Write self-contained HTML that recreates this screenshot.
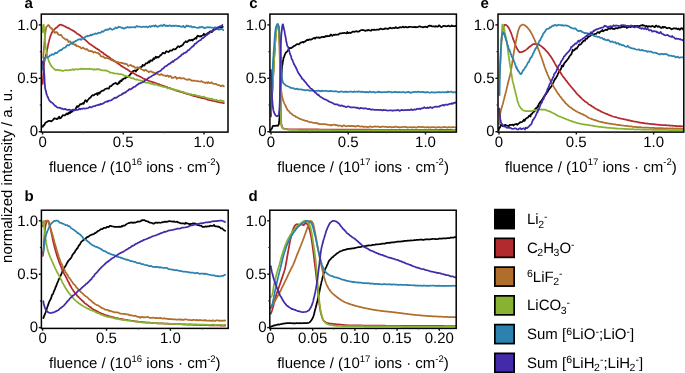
<!DOCTYPE html>
<html><head><meta charset="utf-8"><style>
html,body{margin:0;padding:0;background:#fff;}
body{width:685px;height:373px;overflow:hidden;font-family:'Liberation Sans', sans-serif;}
svg{display:block;will-change:transform;text-rendering:geometricPrecision;}
</style></head><body>
<svg width="685" height="373" viewBox="0 0 685 373" font-family="'Liberation Sans', sans-serif"><rect width="685" height="373" fill="#fff"/><clipPath id="clipa"><rect x="41.3" y="12.1" width="186.7" height="120.0"/></clipPath><g clip-path="url(#clipa)" fill="none" stroke-width="1.75" stroke-linejoin="round" stroke-linecap="round"><path d="M42.80,126.78 42.95,126.70 43.18,125.54 43.47,125.06 43.89,125.28 44.39,124.79 44.93,123.57 45.50,122.71 46.12,122.35 46.78,122.19 47.49,121.62 48.23,121.06 48.99,120.88 49.78,120.92 50.58,121.10 51.40,121.32 52.22,120.80 53.05,119.84 53.86,118.86 54.67,118.35 55.45,118.62 56.22,118.63 56.96,119.22 57.69,118.83 58.43,117.66 59.16,116.73 59.90,118.31 60.63,118.18 61.36,117.40 62.09,116.26 62.81,115.13 63.54,115.38 64.26,115.46 64.97,115.28 65.69,114.66 66.40,113.71 67.10,113.40 67.80,114.44 68.50,113.01 69.19,112.31 69.87,113.39 70.55,111.23 71.22,112.19 71.89,111.84 72.55,111.13 73.20,110.64 73.85,109.88 74.49,110.41 75.14,109.63 75.78,108.56 76.42,107.58 77.05,106.16 77.69,106.91 78.33,106.68 78.97,105.89 79.61,104.92 80.26,104.03 80.91,104.34 81.56,104.14 82.22,103.53 82.87,103.16 83.52,103.88 84.18,102.76 84.83,101.01 85.49,100.13 86.14,100.59 86.80,101.92 87.45,100.35 88.11,99.83 88.77,98.95 89.43,98.03 90.09,97.86 90.76,97.27 91.42,96.27 92.09,95.45 92.76,95.16 93.44,95.44 94.11,95.10 94.79,94.27 95.47,94.04 96.16,93.83 96.85,93.33 97.54,95.04 98.23,92.77 98.93,93.21 99.63,93.62 100.33,91.80 101.03,91.62 101.74,90.94 102.44,90.64 103.15,90.56 103.86,90.32 104.57,89.43 105.27,88.97 105.98,88.76 106.69,88.54 107.40,88.31 108.11,88.48 108.81,88.65 109.52,87.11 110.22,86.12 110.93,86.23 111.64,85.58 112.35,84.85 113.07,84.33 113.79,83.83 114.51,83.39 115.23,83.23 115.94,82.93 116.66,83.84 117.38,84.41 118.09,83.88 118.79,82.24 119.50,82.95 120.20,80.80 120.89,80.52 121.58,81.19 122.26,79.31 122.93,79.52 123.59,78.68 124.25,78.34 124.89,78.49 125.53,78.42 126.16,76.99 126.78,76.98 127.41,77.08 128.03,76.87 128.66,76.29 129.29,75.48 129.92,74.82 130.56,74.05 131.20,73.35 131.86,72.87 132.52,72.04 133.18,71.04 133.84,70.74 134.51,70.62 135.18,70.41 135.85,71.48 136.53,70.28 137.20,69.88 137.88,69.23 138.56,67.85 139.24,67.69 139.92,67.53 140.61,67.13 141.29,66.91 141.98,66.65 142.66,64.87 143.35,65.70 144.03,65.66 144.71,64.95 145.40,63.99 146.08,63.19 146.76,63.49 147.45,63.18 148.13,62.22 148.81,61.44 149.49,62.45 150.17,60.52 150.86,60.21 151.54,60.72 152.22,60.93 152.91,59.56 153.59,58.19 154.28,59.03 154.96,58.24 155.65,56.75 156.34,57.84 157.03,56.81 157.73,57.48 158.42,57.40 159.12,56.60 159.82,56.09 160.52,55.04 161.23,54.90 161.93,54.03 162.64,52.98 163.36,52.83 164.08,53.47 164.80,53.49 165.53,52.25 166.26,51.24 167.00,51.73 167.73,51.64 168.47,52.09 169.21,51.53 169.95,50.68 170.69,50.38 171.43,50.58 172.17,50.34 172.90,49.53 173.64,49.04 174.38,49.29 175.11,49.27 175.84,48.89 176.57,48.10 177.29,47.09 178.01,46.25 178.72,46.34 179.44,46.99 180.14,46.39 180.84,45.96 181.54,46.02 182.24,45.10 182.94,44.98 183.63,43.53 184.32,42.53 185.02,42.24 185.71,41.25 186.40,41.76 187.09,42.22 187.78,41.55 188.48,40.36 189.17,40.58 189.87,39.97 190.57,40.38 191.28,40.08 191.99,39.61 192.70,40.57 193.42,39.39 194.14,39.26 194.87,38.55 195.61,37.94 196.35,38.60 197.10,36.13 197.85,35.65 198.60,36.15 199.36,36.52 200.12,36.03 200.88,36.51 201.65,35.78 202.41,35.48 203.17,34.94 203.92,33.68 204.68,34.92 205.43,34.70 206.17,34.47 206.91,34.02 207.65,33.18 208.37,33.02 209.10,32.29 209.82,31.61 210.53,31.47 211.24,31.95 211.95,32.17 212.66,30.81 213.37,29.68 214.08,28.58 214.79,27.62 215.50,27.91 216.21,28.55 216.93,28.79 217.64,28.72 218.36,28.25 219.09,26.93 219.82,27.20 220.56,27.64 221.30,27.52 222.05,26.91 222.80,26.84" stroke="#000000"/><path d="M42.70,83.96 42.74,83.12 42.78,82.39 42.83,81.56 42.87,80.72 42.92,80.22 42.96,79.31 43.01,78.52 43.06,77.67 43.11,76.85 43.17,76.34 43.22,75.21 43.27,74.32 43.33,73.60 43.38,72.83 43.43,71.77 43.49,71.05 43.54,70.42 43.60,69.59 43.65,68.61 43.72,67.68 43.78,67.14 43.85,66.48 43.92,65.66 44.00,64.83 44.08,64.15 44.17,63.16 44.28,62.23 44.41,61.46 44.56,60.78 44.73,60.05 44.90,59.23 45.09,58.45 45.27,57.70 45.47,56.99 45.68,56.26 45.90,55.28 46.11,54.57 46.32,53.81 46.50,53.02 46.68,52.29 46.84,51.53 47.00,50.79 47.16,49.91 47.31,49.01 47.47,48.22 47.62,47.48 47.77,46.77 47.93,45.97 48.09,45.15 48.25,44.39 48.43,43.88 48.61,42.78 48.80,42.10 48.98,41.43 49.18,40.51 49.37,39.70 49.58,38.96 49.79,38.37 50.02,37.56 50.26,36.47 50.52,35.86 50.79,35.11 51.09,34.42 51.43,33.58 51.79,32.67 52.18,32.37 52.59,31.47 53.04,31.00 53.53,30.45 54.08,29.65 54.67,29.10 55.27,28.47 55.89,27.99 56.50,27.61 57.14,27.16 57.79,26.47 58.46,25.84 59.14,25.23 59.83,24.75 60.52,24.55 61.22,24.86 61.93,25.20 62.65,25.31 63.38,25.59 64.12,26.04 64.86,26.29 65.60,26.82 66.33,27.10 67.06,27.49 67.78,27.91 68.51,27.94 69.23,28.47 69.96,28.96 70.67,29.36 71.38,29.69 72.08,30.03 72.77,30.65 73.45,30.86 74.13,31.26 74.80,31.83 75.47,32.31 76.13,32.83 76.79,33.41 77.44,33.82 78.09,34.14 78.73,34.52 79.37,34.94 80.00,35.42 80.63,36.01 81.25,36.56 81.87,36.94 82.48,37.52 83.10,38.05 83.71,38.65 84.32,39.19 84.92,39.58 85.51,40.01 86.10,40.70 86.68,41.16 87.28,41.62 87.87,42.30 88.48,42.85 89.09,43.50 89.73,43.98 90.37,44.32 91.03,44.64 91.69,45.29 92.36,45.58 93.03,46.09 93.70,46.61 94.37,46.98 95.04,47.43 95.69,48.06 96.35,48.42 97.01,48.80 97.67,49.31 98.32,49.59 98.98,49.99 99.63,50.63 100.29,51.21 100.95,51.60 101.60,52.13 102.26,52.38 102.91,52.73 103.57,53.38 104.22,54.15 104.88,54.35 105.53,54.78 106.19,55.31 106.84,55.79 107.50,56.13 108.16,56.37 108.81,56.95 109.47,57.48 110.12,58.02 110.78,58.57 111.43,59.07 112.09,59.38 112.74,59.80 113.39,60.22 114.05,60.66 114.70,61.23 115.36,61.51 116.02,62.05 116.67,62.64 117.33,63.12 117.99,63.39 118.65,64.06 119.31,64.40 119.98,64.88 120.64,65.47 121.31,65.93 121.99,66.19 122.66,66.69 123.33,67.17 124.01,67.58 124.68,67.98 125.36,68.32 126.04,68.74 126.72,69.11 127.40,69.52 128.09,70.10 128.77,70.49 129.46,70.94 130.15,71.54 130.84,71.94 131.53,71.91 132.22,72.50 132.92,72.95 133.62,73.25 134.31,73.61 135.02,74.19 135.72,74.49 136.42,75.19 137.13,75.46 137.84,75.56 138.55,75.86 139.26,76.25 139.98,76.60 140.70,76.95 141.42,77.36 142.14,77.85 142.86,78.26 143.59,78.59 144.32,78.88 145.05,79.20 145.78,79.55 146.52,79.71 147.25,80.00 147.99,80.43 148.74,80.79 149.48,81.01 150.23,81.29 150.98,81.54 151.73,81.89 152.49,82.12 153.24,82.23 154.00,82.71 154.76,82.71 155.51,83.07 156.27,83.45 157.03,83.67 157.79,83.92 158.55,84.06 159.31,84.34 160.07,84.68 160.83,85.03 161.58,85.37 162.34,85.48 163.10,85.72 163.85,86.03 164.61,86.35 165.36,86.61 166.12,86.71 166.87,87.00 167.62,87.40 168.38,87.79 169.13,88.05 169.89,87.93 170.64,88.40 171.40,88.88 172.16,89.17 172.91,89.38 173.67,89.53 174.43,89.76 175.18,90.11 175.94,90.45 176.70,90.64 177.46,91.06 178.22,91.08 178.98,91.33 179.74,91.72 180.50,91.80 181.27,92.08 182.03,92.22 182.79,92.45 183.56,92.81 184.32,93.18 185.09,93.21 185.85,93.48 186.62,93.81 187.38,94.09 188.15,94.24 188.92,94.39 189.69,94.53 190.46,94.78 191.23,95.08 192.00,95.31 192.77,95.57 193.54,95.91 194.31,96.09 195.08,96.20 195.85,96.35 196.62,96.71 197.40,96.86 198.17,97.11 198.94,97.36 199.72,97.48 200.49,97.63 201.27,97.97 202.04,98.14 202.82,98.18 203.59,98.25 204.37,98.52 205.15,98.81 205.92,98.96 206.70,99.20 207.48,99.61 208.25,99.78 209.03,100.01 209.81,100.06 210.59,100.16 211.37,100.45 212.15,100.83 212.93,100.81 213.71,100.98 214.49,101.23 215.27,101.43 216.06,101.48 216.84,101.61 217.62,101.89 218.40,102.11 219.19,102.23 219.97,102.46 220.76,102.66 221.54,102.61 222.33,102.71 223.11,103.02 223.90,103.17" stroke="#B22A2E"/><path d="M43.20,57.71 43.26,57.36 43.32,56.55 43.38,55.19 43.44,53.98 43.49,54.20 43.55,53.14 43.62,52.19 43.68,51.52 43.74,51.05 43.80,50.45 43.86,49.28 43.92,47.92 43.98,47.05 44.04,46.65 44.10,46.26 44.16,45.55 44.23,44.21 44.29,43.03 44.36,42.31 44.42,42.05 44.49,41.88 44.56,41.28 44.63,40.23 44.70,38.77 44.77,37.23 44.85,37.79 44.92,37.06 45.00,35.95 45.08,34.72 45.16,33.56 45.26,33.26 45.36,32.92 45.47,32.23 45.60,31.26 45.73,30.20 45.89,29.33 46.07,28.06 46.28,27.12 46.52,26.55 46.81,26.27 47.25,26.35 47.79,25.35 48.32,24.95 48.85,25.34 49.39,26.18 49.93,27.38 50.44,27.42 50.94,28.18 51.44,28.61 51.94,28.41 52.46,29.85 53.01,30.12 53.58,30.96 54.18,32.12 54.80,32.90 55.44,32.06 56.09,32.72 56.74,32.11 57.40,32.54 58.06,34.39 58.72,34.68 59.38,35.06 60.03,35.06 60.68,34.93 61.34,35.16 62.00,36.47 62.66,37.27 63.32,37.89 63.99,38.33 64.66,38.75 65.33,39.47 66.00,39.75 66.68,39.28 67.36,39.73 68.04,41.15 68.73,42.15 69.42,41.44 70.11,41.36 70.81,42.25 71.51,43.46 72.21,43.72 72.91,43.66 73.62,43.94 74.33,44.65 75.05,45.09 75.76,44.38 76.48,46.21 77.20,46.18 77.92,46.16 78.65,46.51 79.37,46.90 80.10,46.92 80.83,48.07 81.56,48.44 82.29,48.00 83.03,47.52 83.77,48.31 84.52,48.63 85.27,49.29 86.02,49.56 86.77,48.81 87.53,49.59 88.29,50.49 89.04,51.01 89.80,51.07 90.56,50.89 91.31,51.36 92.07,51.04 92.82,51.96 93.57,52.70 94.31,52.08 95.05,51.98 95.79,52.47 96.53,52.79 97.27,52.81 98.00,52.80 98.73,53.92 99.46,53.82 100.19,54.96 100.92,56.18 101.65,56.56 102.38,56.60 103.11,56.32 103.84,57.13 104.57,58.00 105.31,58.18 106.04,57.80 106.78,57.86 107.52,58.21 108.26,58.55 109.00,58.77 109.75,59.08 110.49,59.28 111.24,60.04 111.98,60.42 112.73,60.36 113.48,60.95 114.23,61.49 114.98,61.16 115.73,61.53 116.48,62.52 117.24,62.46 117.99,61.94 118.75,62.54 119.51,62.76 120.27,62.53 121.04,62.96 121.81,63.03 122.58,62.94 123.35,63.29 124.13,63.79 124.91,63.64 125.69,64.01 126.47,63.79 127.25,64.57 128.03,65.76 128.81,65.77 129.59,65.46 130.37,64.87 131.14,65.22 131.91,66.08 132.68,66.39 133.45,66.06 134.22,66.86 134.99,67.63 135.76,67.94 136.53,67.64 137.29,67.15 138.06,68.08 138.83,68.02 139.59,67.67 140.36,68.22 141.12,69.07 141.89,69.48 142.65,69.73 143.42,70.15 144.19,70.76 144.95,70.03 145.72,69.78 146.49,70.43 147.26,71.11 148.03,71.28 148.80,72.28 149.56,71.60 150.33,71.28 151.10,71.42 151.87,71.86 152.63,72.47 153.40,72.39 154.17,72.72 154.94,73.40 155.71,74.03 156.48,73.70 157.25,73.70 158.02,74.12 158.79,74.58 159.56,74.82 160.33,74.92 161.11,74.18 161.88,74.44 162.66,75.07 163.44,75.51 164.21,75.50 164.99,75.46 165.78,76.07 166.56,76.02 167.34,75.35 168.12,75.70 168.91,76.92 169.69,76.15 170.48,75.98 171.26,77.06 172.05,78.11 172.84,77.48 173.62,77.74 174.41,77.44 175.20,76.81 175.99,77.34 176.77,78.84 177.56,78.08 178.35,77.78 179.14,78.07 179.93,77.61 180.72,78.52 181.51,78.44 182.30,78.38 183.09,78.37 183.88,78.09 184.67,78.84 185.46,79.29 186.25,79.49 187.04,79.68 187.84,80.00 188.63,79.12 189.42,79.14 190.21,79.71 191.01,80.36 191.80,80.65 192.59,80.50 193.39,80.84 194.18,80.70 194.97,80.55 195.76,81.02 196.55,81.28 197.35,81.02 198.14,81.05 198.93,81.29 199.73,81.51 200.53,81.71 201.32,81.03 202.12,81.47 202.91,82.20 203.71,82.36 204.51,82.38 205.30,83.08 206.09,82.62 206.89,82.48 207.68,83.24 208.47,82.08 209.26,82.69 210.05,83.16 210.83,82.88 211.62,82.21 212.40,83.27 213.18,83.57 213.95,83.83 214.73,83.96 215.50,83.94 216.27,84.00 217.04,84.63 217.81,85.09 218.58,85.21 219.34,85.17 220.10,85.60 220.87,86.28 221.63,85.88 222.39,85.45 223.14,85.60 223.90,86.44" stroke="#B06E2C"/><path d="M42.70,32.08 42.78,30.58 42.86,29.46 42.95,28.27 43.03,26.96 43.12,25.82 43.20,25.45 43.29,25.11 43.37,24.92 43.46,24.92 43.55,25.08 43.65,24.60 43.74,25.12 43.84,25.98 43.94,26.99 44.04,28.18 44.13,28.96 44.23,29.89 44.32,30.94 44.41,31.90 44.49,32.57 44.57,33.51 44.64,34.54 44.71,35.37 44.77,35.98 44.83,36.50 44.89,37.20 44.95,38.62 45.01,39.71 45.07,40.39 45.13,40.88 45.19,41.65 45.25,42.67 45.32,43.56 45.40,44.41 45.48,45.31 45.57,46.21 45.66,46.69 45.77,46.98 45.89,47.72 46.01,49.03 46.15,49.58 46.29,50.03 46.44,51.12 46.60,52.35 46.76,53.22 46.92,53.46 47.08,54.47 47.24,55.41 47.41,56.18 47.58,56.86 47.76,57.71 47.96,58.28 48.17,59.00 48.39,59.79 48.63,60.60 48.90,61.48 49.20,62.15 49.53,62.68 49.88,63.32 50.26,64.15 50.67,65.06 51.09,65.69 51.55,66.23 52.08,66.89 52.65,67.55 53.26,67.90 53.89,68.89 54.57,69.13 55.29,69.72 56.02,70.29 56.77,69.93 57.54,69.66 58.32,70.13 59.12,70.30 59.92,70.20 60.74,70.30 61.55,70.44 62.36,70.90 63.17,70.87 63.98,70.53 64.77,70.30 65.57,70.11 66.37,70.20 67.16,70.29 67.96,70.27 68.76,70.12 69.55,70.16 70.35,69.95 71.15,69.87 71.95,69.61 72.74,69.15 73.54,70.03 74.34,69.38 75.14,69.25 75.93,69.35 76.73,69.28 77.53,69.28 78.33,69.33 79.13,69.18 79.93,69.13 80.72,69.15 81.52,68.45 82.32,69.02 83.12,68.91 83.92,68.84 84.72,69.07 85.52,68.84 86.32,68.94 87.12,68.98 87.92,69.13 88.72,69.19 89.52,68.54 90.32,68.86 91.12,69.14 91.92,69.19 92.72,69.22 93.52,69.79 94.32,69.16 95.12,69.55 95.92,69.63 96.72,69.19 97.52,68.95 98.32,69.73 99.13,69.41 99.93,69.42 100.73,69.90 101.53,70.29 102.32,70.36 103.11,70.37 103.89,70.30 104.66,70.30 105.43,70.55 106.19,70.44 106.94,70.82 107.69,71.18 108.43,71.46 109.18,71.83 109.93,72.55 110.69,72.60 111.45,72.67 112.22,72.80 113.00,72.98 113.79,73.56 114.58,73.45 115.38,73.50 116.18,73.65 116.98,73.73 117.78,73.73 118.57,74.03 119.36,74.20 120.15,74.19 120.92,74.12 121.69,74.35 122.46,74.52 123.22,74.87 123.98,75.45 124.74,76.01 125.49,75.72 126.25,76.27 127.00,76.30 127.76,76.44 128.51,76.99 129.27,77.43 130.03,77.48 130.80,77.70 131.56,78.11 132.33,78.44 133.09,77.98 133.85,78.66 134.62,79.15 135.38,79.50 136.15,79.64 136.92,79.42 137.68,79.54 138.45,79.96 139.22,80.23 139.98,80.34 140.75,80.55 141.52,80.73 142.29,80.75 143.06,81.25 143.83,82.01 144.60,82.28 145.37,82.53 146.14,82.54 146.91,82.50 147.69,82.54 148.46,82.74 149.24,83.23 150.01,83.36 150.79,83.71 151.57,84.01 152.35,83.85 153.13,84.15 153.91,84.66 154.69,84.66 155.47,84.45 156.25,84.48 157.03,84.77 157.81,85.43 158.59,85.74 159.36,85.67 160.14,85.50 160.92,86.14 161.70,86.19 162.47,86.59 163.25,86.90 164.02,86.83 164.80,86.99 165.57,87.18 166.34,87.51 167.12,87.97 167.89,88.35 168.66,87.92 169.43,88.55 170.20,88.55 170.97,88.60 171.74,88.95 172.52,88.86 173.29,89.43 174.06,89.41 174.83,89.71 175.60,90.43 176.37,90.41 177.14,90.26 177.92,90.46 178.69,90.62 179.46,90.80 180.24,91.54 181.01,91.44 181.78,91.82 182.56,91.86 183.33,91.77 184.11,92.55 184.88,92.53 185.65,93.07 186.43,93.31 187.20,93.30 187.98,93.62 188.75,93.95 189.53,94.13 190.31,94.04 191.08,94.04 191.86,94.59 192.64,94.79 193.41,94.92 194.19,94.78 194.97,94.78 195.75,95.33 196.52,95.40 197.30,95.83 198.08,95.95 198.86,95.96 199.64,96.19 200.42,96.45 201.20,96.68 201.98,96.82 202.76,96.82 203.54,96.71 204.32,96.94 205.10,97.54 205.88,97.86 206.66,97.94 207.44,98.05 208.22,98.70 209.01,98.36 209.79,98.67 210.57,98.89 211.35,98.58 212.13,98.86 212.92,99.32 213.70,99.56 214.48,99.84 215.27,100.16 216.05,99.90 216.83,99.93 217.62,100.41 218.40,100.85 219.19,100.91 219.97,100.44 220.76,100.26 221.54,100.47 222.33,101.08 223.11,101.62 223.90,101.07" stroke="#88B231"/><path d="M42.80,69.97 42.84,69.74 42.89,69.33 42.94,68.24 43.01,66.75 43.08,65.88 43.16,65.65 43.24,64.66 43.33,63.82 43.42,63.36 43.50,62.82 43.59,61.44 43.70,60.62 43.84,59.15 44.02,57.88 44.41,58.93 45.24,58.12 46.10,57.52 46.90,57.40 47.71,57.39 48.47,56.79 49.16,56.49 49.80,55.70 50.42,55.31 51.07,55.14 51.75,54.44 52.45,54.31 53.17,54.56 53.89,54.34 54.61,53.58 55.33,52.71 56.03,53.09 56.72,53.03 57.40,52.47 58.08,51.75 58.75,51.31 59.42,50.81 60.09,50.03 60.75,49.94 61.42,50.02 62.09,49.32 62.76,48.64 63.43,48.17 64.11,47.73 64.79,47.52 65.47,47.69 66.15,46.47 66.84,45.39 67.52,45.20 68.20,45.43 68.89,45.31 69.58,44.80 70.27,43.99 70.97,43.08 71.67,42.94 72.38,43.88 73.10,42.17 73.81,42.06 74.54,41.83 75.26,41.33 75.99,40.82 76.72,40.59 77.46,40.01 78.20,39.64 78.94,39.45 79.68,39.31 80.42,39.17 81.16,39.89 81.91,39.03 82.65,38.17 83.39,38.61 84.13,37.84 84.88,37.31 85.62,36.64 86.37,36.31 87.11,36.47 87.86,35.74 88.61,35.94 89.36,35.88 90.11,35.33 90.86,34.64 91.61,35.41 92.36,34.70 93.12,34.30 93.87,34.14 94.63,33.92 95.39,33.38 96.14,33.69 96.90,33.82 97.66,33.44 98.42,32.73 99.18,32.81 99.95,32.99 100.71,32.51 101.47,31.79 102.24,31.34 103.01,31.74 103.77,31.09 104.54,30.63 105.31,30.08 106.09,29.57 106.86,30.07 107.63,29.49 108.41,29.53 109.19,29.15 109.97,28.25 110.76,28.51 111.54,29.51 112.33,29.79 113.12,29.42 113.91,28.80 114.71,28.63 115.50,27.37 116.29,27.84 117.09,28.13 117.89,27.48 118.68,26.72 119.48,27.13 120.28,27.18 121.07,27.48 121.87,27.96 122.67,27.70 123.47,28.64 124.27,28.55 125.07,27.99 125.87,27.54 126.67,27.72 127.47,26.89 128.27,27.37 129.07,27.52 129.87,27.16 130.67,27.34 131.47,27.38 132.27,27.27 133.07,27.06 133.87,27.01 134.67,27.48 135.47,27.45 136.27,26.27 137.06,25.99 137.86,26.62 138.66,26.76 139.46,26.54 140.26,26.72 141.06,27.00 141.86,27.09 142.66,26.74 143.46,26.56 144.26,26.92 145.06,26.96 145.86,26.71 146.66,26.68 147.46,27.45 148.26,27.21 149.06,26.46 149.86,26.11 150.66,27.00 151.46,26.03 152.26,26.17 153.06,25.78 153.86,25.53 154.66,26.57 155.46,25.30 156.26,25.85 157.06,26.65 157.86,26.88 158.66,26.21 159.46,25.91 160.26,25.44 161.06,25.40 161.86,25.76 162.66,26.08 163.46,24.61 164.26,24.84 165.06,25.68 165.86,26.07 166.66,25.46 167.46,26.18 168.26,26.10 169.06,25.60 169.86,25.30 170.66,25.69 171.46,26.41 172.26,25.85 173.06,25.67 173.86,25.87 174.66,26.07 175.46,25.61 176.26,25.69 177.06,25.99 177.86,26.13 178.66,25.90 179.46,26.02 180.26,26.33 181.06,26.82 181.86,26.84 182.66,26.13 183.46,25.93 184.26,27.39 185.06,27.42 185.86,26.41 186.66,25.47 187.46,26.17 188.26,25.80 189.06,26.40 189.85,26.73 190.65,26.11 191.45,26.48 192.25,27.45 193.05,27.12 193.85,26.70 194.65,27.03 195.45,27.24 196.25,27.58 197.05,27.74 197.84,27.88 198.64,27.91 199.44,26.97 200.24,27.42 201.05,26.92 201.85,26.75 202.65,27.39 203.45,27.33 204.25,28.20 205.05,28.03 205.85,27.56 206.66,27.35 207.46,27.38 208.26,27.18 209.06,27.27 209.86,27.37 210.66,27.40 211.45,27.75 212.25,27.56 213.05,27.74 213.84,28.16 214.63,28.36 215.43,27.45 216.22,27.69 217.01,27.68 217.80,28.42 218.59,29.67 219.37,29.66 220.16,29.30 220.95,29.18 221.73,29.03 222.52,29.08 223.30,30.15" stroke="#2B82AE"/><path d="M42.70,61.71 42.85,63.23 43.00,63.65 43.14,64.16 43.27,65.10 43.39,66.00 43.50,66.82 43.60,67.74 43.70,68.46 43.79,69.13 43.88,70.15 43.97,70.35 44.04,71.36 44.12,72.32 44.18,73.02 44.25,73.63 44.30,74.57 44.35,75.16 44.40,75.92 44.44,76.90 44.48,77.92 44.51,78.51 44.55,79.20 44.58,79.90 44.62,80.83 44.66,82.18 44.71,82.99 44.75,83.60 44.81,84.29 44.87,84.86 44.93,85.19 45.01,86.86 45.10,87.84 45.22,88.57 45.36,89.29 45.51,90.05 45.69,90.13 45.88,91.30 46.09,92.02 46.31,92.84 46.54,94.24 46.79,94.26 47.04,95.26 47.30,96.11 47.57,96.73 47.88,97.27 48.24,97.98 48.63,99.03 49.06,99.92 49.51,100.59 49.97,101.15 50.48,101.86 51.05,102.11 51.66,102.44 52.28,102.88 52.91,103.42 53.53,104.13 54.15,104.67 54.77,105.63 55.40,106.18 56.05,106.18 56.72,107.08 57.41,107.61 58.13,107.57 58.88,107.61 59.64,107.89 60.42,107.86 61.19,108.52 61.96,108.68 62.73,108.94 63.52,109.31 64.30,109.05 65.09,108.83 65.88,109.37 66.68,109.81 67.48,109.85 68.27,109.77 69.07,109.63 69.87,109.89 70.66,110.06 71.46,110.06 72.26,110.16 73.07,109.53 73.87,110.03 74.67,110.18 75.47,109.80 76.27,109.68 77.07,110.00 77.87,109.96 78.67,109.24 79.46,108.64 80.25,109.36 81.05,108.79 81.84,108.97 82.63,108.69 83.42,108.28 84.21,108.63 85.00,108.67 85.79,108.50 86.58,108.36 87.36,108.23 88.14,107.99 88.92,107.68 89.70,106.99 90.48,107.08 91.25,107.39 92.02,107.05 92.80,106.54 93.57,106.19 94.34,106.24 95.10,106.16 95.87,105.54 96.63,105.29 97.40,105.17 98.16,104.82 98.92,104.71 99.68,104.96 100.43,103.85 101.19,104.11 101.94,104.01 102.70,103.62 103.45,103.24 104.19,102.73 104.94,102.17 105.69,101.97 106.43,101.71 107.18,101.25 107.92,101.58 108.66,100.86 109.40,100.60 110.14,100.51 110.87,100.32 111.60,100.08 112.33,99.31 113.06,99.04 113.78,98.61 114.50,97.85 115.21,97.67 115.93,97.88 116.63,97.59 117.34,97.02 118.04,96.42 118.74,96.04 119.44,95.53 120.14,95.24 120.83,95.03 121.52,94.66 122.21,93.71 122.90,93.91 123.59,93.14 124.28,92.74 124.97,92.84 125.66,92.30 126.34,91.78 127.03,91.03 127.72,90.62 128.40,90.32 129.08,89.32 129.76,89.04 130.44,89.38 131.12,89.20 131.80,88.49 132.48,87.99 133.16,87.51 133.84,86.95 134.53,86.73 135.21,86.57 135.90,85.89 136.59,85.04 137.28,84.97 137.97,84.41 138.67,83.58 139.36,83.33 140.06,83.41 140.75,83.04 141.45,82.72 142.14,82.44 142.83,82.02 143.53,81.72 144.22,81.42 144.90,80.60 145.59,79.82 146.27,79.73 146.96,79.70 147.63,78.69 148.31,78.00 148.99,77.64 149.66,77.34 150.33,77.01 151.00,76.70 151.67,76.11 152.34,75.55 153.01,75.30 153.68,74.93 154.35,74.62 155.02,74.09 155.69,73.47 156.36,72.92 157.04,72.55 157.72,72.06 158.39,71.77 159.07,71.55 159.74,71.25 160.41,70.76 161.07,70.41 161.72,69.44 162.36,68.75 163.00,68.70 163.62,68.13 164.24,67.38 164.86,66.70 165.48,66.35 166.10,66.22 166.73,65.64 167.37,65.34 168.02,64.72 168.67,64.13 169.33,63.78 170.00,63.63 170.66,62.71 171.33,62.56 172.00,62.01 172.67,61.17 173.34,61.79 174.00,60.78 174.66,60.11 175.32,59.69 175.97,59.43 176.62,59.21 177.26,58.65 177.90,58.08 178.54,57.51 179.18,56.92 179.81,56.29 180.45,56.33 181.09,55.37 181.72,54.65 182.36,54.37 183.01,54.08 183.66,53.30 184.30,52.95 184.95,52.87 185.60,52.63 186.25,51.84 186.90,51.87 187.54,50.69 188.18,50.08 188.82,50.02 189.45,49.74 190.08,48.56 190.69,48.22 191.30,47.67 191.91,46.95 192.51,46.46 193.10,46.32 193.70,45.76 194.29,44.75 194.88,43.81 195.48,43.53 196.07,43.60 196.67,42.67 197.28,42.06 197.89,41.65 198.50,41.14 199.12,40.95 199.74,40.38 200.37,40.23 200.99,39.89 201.62,38.89 202.25,38.30 202.89,38.15 203.52,37.74 204.16,37.07 204.80,36.34 205.45,36.17 206.09,35.27 206.74,34.93 207.38,34.63 208.03,34.04 208.68,33.77 209.34,32.98 209.99,32.59 210.65,32.12 211.31,31.36 211.98,30.93 212.64,31.03 213.32,30.80 213.99,30.15 214.67,29.42 215.35,29.56 216.04,29.17 216.73,28.28 217.43,27.53 218.13,27.21 218.83,27.09 219.54,26.70 220.25,26.20 220.96,25.99 221.68,25.87 222.40,24.99" stroke="#432AAA"/></g><rect x="41.3" y="14.1" width="186.7" height="118.0" fill="none" stroke="#000" stroke-width="1.5"/><line x1="38.699999999999996" y1="131.70" x2="41.3" y2="131.70" stroke="#111" stroke-width="1.4"/><text x="38.0" y="136.4" font-size="15" text-anchor="end" font-weight="normal" >0</text><line x1="38.699999999999996" y1="78.30" x2="41.3" y2="78.30" stroke="#111" stroke-width="1.4"/><text x="38.0" y="83.0" font-size="15" text-anchor="end" font-weight="normal" >0.5</text><line x1="38.699999999999996" y1="24.90" x2="41.3" y2="24.90" stroke="#111" stroke-width="1.4"/><text x="38.0" y="29.6" font-size="15" text-anchor="end" font-weight="normal" >1.0</text><line x1="39.8" y1="105.00" x2="41.3" y2="105.00" stroke="#222" stroke-width="1.2"/><line x1="39.8" y1="51.60" x2="41.3" y2="51.60" stroke="#222" stroke-width="1.2"/><line x1="42.60" y1="132.1" x2="42.60" y2="134.5" stroke="#111" stroke-width="1.4"/><text x="42.60" y="146.9" font-size="15" text-anchor="middle" font-weight="normal" >0</text><line x1="123.30" y1="132.1" x2="123.30" y2="134.5" stroke="#111" stroke-width="1.4"/><text x="123.30" y="146.9" font-size="15" text-anchor="middle" font-weight="normal" >0.5</text><line x1="204.00" y1="132.1" x2="204.00" y2="134.5" stroke="#111" stroke-width="1.4"/><text x="204.00" y="146.9" font-size="15" text-anchor="middle" font-weight="normal" >1.0</text><line x1="82.95" y1="132.1" x2="82.95" y2="133.2" stroke="#444" stroke-width="1.1"/><line x1="163.65" y1="132.1" x2="163.65" y2="133.2" stroke="#444" stroke-width="1.1"/><text x="134.7" y="171.6" font-size="15" text-anchor="middle">fluence / (10<tspan font-size="9.5" dy="-6.3">16</tspan><tspan dy="6.3"> ions · cm</tspan><tspan font-size="9.5" dy="-6.3">-2</tspan><tspan dy="6.3">)</tspan></text><text x="24.4" y="7.6" font-size="15" text-anchor="start" font-weight="bold" >a</text><clipPath id="clipc"><rect x="269.9" y="12.1" width="186.5" height="120.0"/></clipPath><g clip-path="url(#clipc)" fill="none" stroke-width="1.75" stroke-linejoin="round" stroke-linecap="round"><path d="M270.40,130.90 270.65,130.32 270.98,129.33 271.38,128.89 271.83,128.70 272.34,127.24 272.98,125.87 273.69,125.83 274.43,125.97 275.22,125.87 276.09,125.67 276.92,125.61 277.59,125.90 278.15,125.49 278.63,124.55 278.90,124.11 279.01,122.45 279.11,121.68 279.19,121.52 279.27,121.05 279.33,119.17 279.38,118.60 279.42,118.22 279.46,117.88 279.50,117.03 279.53,115.13 279.56,115.01 279.60,113.59 279.63,112.76 279.67,112.41 279.70,111.69 279.72,111.42 279.75,111.12 279.77,110.27 279.80,109.05 279.82,107.87 279.84,106.66 279.86,106.40 279.88,105.69 279.90,104.64 279.92,103.86 279.94,103.52 279.97,102.41 279.99,101.58 280.01,100.77 280.04,99.56 280.07,99.01 280.10,98.32 280.13,98.01 280.16,97.43 280.19,96.00 280.22,95.05 280.26,94.30 280.29,93.39 280.33,92.44 280.37,91.63 280.40,90.91 280.44,90.36 280.48,89.40 280.52,88.23 280.56,87.21 280.61,86.41 280.65,86.55 280.70,85.80 280.74,84.75 280.79,83.98 280.84,82.59 280.88,82.00 280.94,81.07 280.99,80.29 281.05,79.88 281.10,78.72 281.17,78.28 281.23,76.92 281.29,76.28 281.36,76.84 281.43,75.19 281.50,74.65 281.57,73.45 281.64,72.54 281.71,72.37 281.78,71.69 281.85,69.82 281.92,69.21 281.99,68.83 282.06,67.83 282.14,66.10 282.22,65.22 282.31,65.09 282.41,64.98 282.51,64.39 282.63,63.23 282.76,62.13 282.90,61.11 283.05,60.71 283.22,60.49 283.40,58.55 283.59,57.69 283.80,57.61 284.02,57.28 284.26,56.37 284.55,55.45 284.87,54.52 285.24,53.79 285.63,53.00 286.04,52.31 286.47,52.37 286.94,51.59 287.46,51.24 288.01,50.43 288.61,49.24 289.22,48.68 289.84,47.87 290.49,48.20 291.18,48.16 291.89,47.53 292.60,47.17 293.32,46.39 294.05,45.92 294.78,45.66 295.50,45.34 296.22,44.66 296.94,44.12 297.66,44.17 298.38,44.29 299.10,44.14 299.83,43.51 300.56,42.59 301.30,42.54 302.05,42.18 302.80,41.84 303.55,42.49 304.30,41.61 305.05,41.51 305.81,41.05 306.57,40.24 307.33,39.68 308.10,40.22 308.86,39.55 309.63,39.37 310.40,39.61 311.18,39.52 311.95,39.13 312.72,38.66 313.49,38.09 314.26,37.99 315.03,38.74 315.80,37.82 316.57,37.32 317.34,37.51 318.12,37.76 318.89,37.41 319.68,37.87 320.46,37.72 321.25,37.17 322.03,36.79 322.82,37.01 323.61,36.91 324.40,37.16 325.19,36.52 325.99,35.95 326.78,36.38 327.57,35.98 328.36,36.13 329.15,36.24 329.94,35.67 330.73,34.42 331.51,35.22 332.30,35.77 333.09,35.15 333.87,34.62 334.66,35.08 335.45,34.63 336.23,34.75 337.02,34.61 337.81,34.52 338.60,34.56 339.38,33.55 340.17,33.43 340.96,33.41 341.75,33.28 342.54,33.03 343.33,33.04 344.13,32.95 344.92,32.95 345.71,33.24 346.51,33.45 347.30,32.00 348.10,33.16 348.89,32.93 349.69,32.65 350.48,33.04 351.27,32.75 352.07,32.04 352.86,31.57 353.66,31.62 354.45,31.97 355.24,31.58 356.03,31.20 356.82,31.36 357.62,31.61 358.41,31.67 359.20,31.47 359.99,30.75 360.78,30.27 361.57,30.01 362.37,29.98 363.16,30.21 363.96,30.09 364.75,30.68 365.55,30.77 366.35,30.30 367.15,30.59 367.95,29.93 368.75,30.14 369.55,30.43 370.35,30.51 371.15,30.62 371.94,29.63 372.74,29.80 373.53,29.87 374.33,29.68 375.12,30.00 375.91,29.91 376.71,29.65 377.50,29.51 378.30,29.55 379.09,29.62 379.88,28.78 380.68,28.63 381.47,28.94 382.27,29.27 383.06,29.10 383.86,29.24 384.66,28.66 385.46,28.43 386.25,28.60 387.05,28.71 387.85,29.08 388.65,28.64 389.45,27.95 390.24,27.65 391.04,28.24 391.84,28.37 392.64,28.00 393.44,27.94 394.24,28.08 395.04,27.84 395.83,27.04 396.63,27.79 397.43,28.09 398.23,27.86 399.03,27.64 399.83,27.17 400.62,27.36 401.42,27.39 402.22,27.06 403.02,26.53 403.82,27.33 404.62,27.26 405.42,26.89 406.21,26.84 407.01,27.48 407.81,27.49 408.61,26.96 409.41,26.75 410.21,26.83 411.01,26.98 411.81,27.00 412.61,27.06 413.41,27.22 414.21,27.21 415.01,26.89 415.81,27.28 416.61,27.13 417.41,27.03 418.21,26.84 419.01,26.44 419.81,26.30 420.61,26.76 421.41,26.85 422.21,27.00 423.01,27.42 423.81,26.93 424.61,26.76 425.41,26.67 426.21,26.90 427.01,27.32 427.81,26.63 428.61,25.83 429.41,25.72 430.21,25.78 431.01,25.74 431.81,26.38 432.61,26.49 433.40,26.27 434.20,26.36 435.00,26.77 435.80,26.11 436.60,26.27 437.40,26.67 438.20,26.33 439.00,25.35 439.80,25.76 440.60,26.79 441.40,27.11 442.20,26.73 443.00,26.06 443.80,25.98 444.60,25.92 445.40,26.20 446.20,26.35 447.00,26.16 447.80,25.88 448.60,25.63 449.40,26.11 450.20,26.48 451.00,26.26 451.80,25.45 452.60,26.15 453.40,26.17 454.20,26.07 455.00,26.05 455.80,25.85" stroke="#000000"/><path d="M271.00,116.50 271.04,115.70 271.09,114.90 271.13,114.10 271.17,113.30 271.21,112.50 271.26,111.70 271.30,110.90 271.34,110.11 271.39,109.31 271.43,108.51 271.47,107.71 271.52,106.91 271.56,106.11 271.60,105.31 271.65,104.51 271.69,103.71 271.73,102.91 271.78,102.11 271.82,101.31 271.87,100.51 271.91,99.72 271.95,98.92 272.00,98.12 272.04,97.32 272.08,96.52 272.13,95.72 272.17,94.92 272.22,94.12 272.26,93.32 272.30,92.52 272.35,91.72 272.39,90.92 272.44,90.12 272.48,89.33 272.53,88.53 272.57,87.73 272.61,86.93 272.66,86.13 272.70,85.33 272.75,84.53 272.79,83.73 272.84,82.93 272.88,82.13 272.93,81.33 272.97,80.53 273.01,79.73 273.06,78.94 273.10,78.14 273.15,77.34 273.19,76.54 273.23,75.74 273.28,74.94 273.32,74.14 273.36,73.34 273.40,72.54 273.45,71.74 273.49,70.94 273.53,70.14 273.57,69.34 273.61,68.54 273.66,67.74 273.70,66.94 273.74,66.14 273.78,65.35 273.82,64.55 273.87,63.75 273.91,62.95 273.95,62.15 274.00,61.35 274.04,60.55 274.08,59.75 274.13,58.95 274.17,58.15 274.22,57.35 274.26,56.55 274.31,55.75 274.36,54.95 274.40,54.16 274.45,53.36 274.50,52.56 274.55,51.76 274.60,50.96 274.65,50.16 274.70,49.36 274.76,48.56 274.81,47.77 274.86,46.97 274.92,46.17 274.97,45.37 275.03,44.57 275.08,43.77 275.14,42.97 275.19,42.17 275.24,41.37 275.29,40.56 275.35,39.76 275.40,38.96 275.45,38.15 275.51,37.35 275.57,36.55 275.63,35.74 275.70,34.94 275.77,34.15 275.84,33.35 275.92,32.55 276.00,31.76 276.09,30.97 276.19,30.18 276.29,29.39 276.41,28.61 276.53,27.83 276.71,26.88 276.95,25.88 277.22,25.00 277.48,24.47 277.73,24.48 278.00,25.02 278.28,25.90 278.52,26.91 278.68,27.85 278.77,28.63 278.85,29.41 278.93,30.20 279.00,30.98 279.07,31.77 279.14,32.56 279.20,33.35 279.26,34.15 279.32,34.95 279.38,35.74 279.43,36.54 279.47,37.34 279.52,38.15 279.56,38.95 279.60,39.75 279.64,40.56 279.67,41.36 279.71,42.17 279.74,42.97 279.77,43.78 279.80,44.59 279.82,45.39 279.85,46.20 279.87,47.01 279.89,47.81 279.92,48.62 279.94,49.42 279.96,50.22 279.98,51.02 280.00,51.82 280.01,52.62 280.03,53.42 280.05,54.22 280.07,55.02 280.08,55.82 280.10,56.62 280.11,57.42 280.13,58.22 280.14,59.02 280.16,59.82 280.17,60.62 280.18,61.42 280.19,62.23 280.20,63.03 280.22,63.83 280.23,64.63 280.24,65.43 280.25,66.23 280.26,67.03 280.27,67.83 280.28,68.63 280.29,69.43 280.30,70.23 280.31,71.03 280.31,71.83 280.32,72.63 280.33,73.43 280.34,74.23 280.35,75.03 280.36,75.83 280.37,76.63 280.37,77.43 280.38,78.23 280.39,79.03 280.40,79.84 280.41,80.64 280.42,81.44 280.43,82.24 280.43,83.04 280.44,83.84 280.45,84.64 280.46,85.44 280.47,86.24 280.48,87.04 280.49,87.84 280.50,88.64 280.51,89.44 280.52,90.24 280.54,91.04 280.55,91.84 280.56,92.64 280.57,93.44 280.59,94.24 280.60,95.04 280.61,95.85 280.63,96.65 280.64,97.45 280.65,98.25 280.66,99.05 280.67,99.85 280.68,100.66 280.69,101.46 280.71,102.26 280.72,103.07 280.73,103.87 280.74,104.67 280.75,105.48 280.76,106.28 280.77,107.08 280.78,107.89 280.80,108.69 280.81,109.49 280.83,110.29 280.84,111.10 280.86,111.90 280.88,112.70 280.90,113.50 280.92,114.30 280.94,115.10 280.96,115.89 280.99,116.69 281.01,117.49 281.04,118.28 281.07,119.08 281.10,119.87 281.14,120.67 281.17,121.46 281.21,122.25 281.28,123.08 281.38,123.94 281.51,124.79 281.68,125.61 281.88,126.39 282.12,127.08 282.41,127.68 283.00,128.26 283.76,128.70 284.48,128.87 285.23,128.98 286.02,129.07 286.83,129.15 287.65,129.21 288.48,129.25 289.30,129.28 290.11,129.30 290.91,129.31 291.71,129.32 292.51,129.34 293.31,129.35 294.11,129.35 294.91,129.36 295.70,129.37 296.50,129.38 297.30,129.39 298.10,129.39 298.91,129.40 299.71,129.41 300.51,129.41 301.31,129.42 302.11,129.42 302.91,129.43 303.71,129.43 304.51,129.44 305.31,129.44 306.11,129.44 306.91,129.45 307.71,129.45 308.51,129.45 309.31,129.46 310.12,129.46 310.92,129.46 311.72,129.47 312.52,129.47 313.32,129.47 314.12,129.47 314.92,129.48 315.72,129.48 316.52,129.48 317.32,129.49 318.12,129.49 318.93,129.49 319.73,129.50 320.53,129.50 321.33,129.51 322.13,129.51 322.93,129.51 323.73,129.52 324.53,129.52 325.33,129.53 326.13,129.53 326.93,129.53 327.73,129.54 328.53,129.54 329.33,129.55 330.13,129.55 330.93,129.55 331.73,129.56 332.53,129.56 333.33,129.57 334.13,129.57 334.93,129.57 335.73,129.58 336.53,129.58 337.34,129.59 338.14,129.59 338.94,129.59 339.74,129.60 340.54,129.60 341.34,129.61 342.14,129.61 342.94,129.61 343.74,129.62 344.54,129.62 345.34,129.63 346.14,129.63 346.94,129.63 347.74,129.64 348.54,129.64 349.34,129.64 350.14,129.65 350.94,129.65 351.74,129.66 352.54,129.66 353.34,129.66 354.14,129.67 354.94,129.67 355.75,129.68 356.55,129.68 357.35,129.68 358.15,129.69 358.95,129.69 359.75,129.69 360.55,129.70 361.35,129.70 362.15,129.70 362.95,129.71 363.75,129.71 364.55,129.72 365.35,129.72 366.15,129.72 366.95,129.73 367.75,129.73 368.55,129.73 369.35,129.74 370.15,129.74 370.95,129.74 371.75,129.75 372.55,129.75 373.35,129.75 374.16,129.76 374.96,129.76 375.76,129.76 376.56,129.77 377.36,129.77 378.16,129.78 378.96,129.78 379.76,129.78 380.56,129.79 381.36,129.79 382.16,129.79 382.96,129.79 383.76,129.80 384.56,129.80 385.36,129.80 386.16,129.81 386.96,129.81 387.76,129.81 388.56,129.82 389.36,129.82 390.16,129.82 390.96,129.83 391.76,129.83 392.57,129.83 393.37,129.84 394.17,129.84 394.97,129.84 395.77,129.84 396.57,129.85 397.37,129.85 398.17,129.85 398.97,129.86 399.77,129.86 400.57,129.86 401.37,129.87 402.17,129.87 402.97,129.87 403.77,129.87 404.57,129.88 405.37,129.88 406.17,129.88 406.97,129.88 407.77,129.89 408.57,129.89 409.37,129.89 410.17,129.90 410.98,129.90 411.78,129.90 412.58,129.90 413.38,129.91 414.18,129.91 414.98,129.91 415.78,129.91 416.58,129.92 417.38,129.92 418.18,129.92 418.98,129.92 419.78,129.92 420.58,129.93 421.38,129.93 422.18,129.93 422.98,129.93 423.78,129.94 424.58,129.94 425.38,129.94 426.18,129.94 426.98,129.94 427.78,129.95 428.58,129.95 429.39,129.95 430.19,129.95 430.99,129.95 431.79,129.96 432.59,129.96 433.39,129.96 434.19,129.96 434.99,129.96 435.79,129.97 436.59,129.97 437.39,129.97 438.19,129.97 438.99,129.97 439.79,129.97 440.59,129.98 441.39,129.98 442.19,129.98 442.99,129.98 443.79,129.98 444.59,129.98 445.39,129.98 446.19,129.99 447.00,129.99 447.80,129.99 448.60,129.99 449.40,129.99 450.20,129.99 451.00,129.99 451.80,129.99 452.60,130.00 453.40,130.00 454.20,130.00 455.00,130.00 455.80,130.00" stroke="#B22A2E"/><path d="M271.00,112.13 271.05,111.05 271.09,110.12 271.14,109.52 271.18,108.97 271.23,107.79 271.28,107.05 271.32,106.44 271.37,105.94 271.42,105.20 271.46,103.58 271.51,103.27 271.56,102.82 271.60,101.79 271.65,100.59 271.70,100.24 271.74,99.35 271.79,98.65 271.84,97.64 271.88,96.45 271.93,95.68 271.98,94.92 272.02,94.81 272.07,93.98 272.12,92.62 272.17,91.82 272.21,90.92 272.26,90.32 272.31,89.74 272.36,89.11 272.40,88.41 272.45,87.00 272.50,86.69 272.55,86.23 272.59,85.28 272.64,83.98 272.69,83.43 272.74,82.54 272.78,81.73 272.83,80.99 272.88,80.16 272.93,79.45 272.97,78.55 273.02,77.87 273.07,77.08 273.12,75.77 273.16,75.53 273.21,74.77 273.26,73.79 273.30,72.76 273.35,71.80 273.39,70.84 273.44,70.05 273.48,69.43 273.53,68.77 273.57,67.88 273.61,67.30 273.66,66.57 273.70,65.48 273.75,64.39 273.79,63.66 273.84,62.67 273.88,61.92 273.93,61.57 273.97,61.18 274.02,60.29 274.06,59.16 274.11,58.31 274.16,57.49 274.20,56.67 274.25,55.90 274.30,55.48 274.35,54.91 274.40,53.84 274.45,52.65 274.50,51.78 274.55,51.10 274.60,50.37 274.66,49.82 274.71,49.11 274.76,47.97 274.82,46.93 274.88,46.28 274.93,45.62 274.99,45.11 275.05,44.76 275.11,43.69 275.17,42.47 275.24,41.78 275.30,41.23 275.36,40.40 275.42,39.49 275.48,38.52 275.54,37.85 275.60,36.99 275.67,35.77 275.74,35.32 275.81,34.70 275.89,33.79 275.97,32.75 276.05,31.84 276.15,31.46 276.24,30.76 276.35,29.79 276.46,28.70 276.58,27.73 276.74,27.30 276.94,26.01 277.18,25.06 277.42,24.36 277.65,24.06 277.89,24.87 278.15,25.56 278.38,26.73 278.55,27.68 278.64,28.19 278.71,29.30 278.77,30.02 278.83,30.91 278.88,31.78 278.93,32.48 278.97,32.91 279.01,34.06 279.05,34.98 279.08,35.66 279.11,36.38 279.14,37.72 279.17,38.14 279.19,39.10 279.22,39.88 279.24,40.42 279.27,41.77 279.30,42.32 279.33,42.94 279.35,43.60 279.38,44.26 279.40,44.93 279.43,45.60 279.45,46.44 279.47,47.34 279.49,48.33 279.52,49.56 279.54,50.00 279.56,50.92 279.57,51.80 279.59,52.59 279.61,53.70 279.63,54.03 279.65,55.02 279.67,55.69 279.69,56.03 279.70,56.91 279.72,57.93 279.74,58.87 279.76,59.69 279.78,60.39 279.80,60.97 279.82,62.01 279.84,62.99 279.86,63.73 279.89,64.34 279.91,65.19 279.94,65.80 279.96,66.91 279.99,67.80 280.02,68.53 280.04,69.58 280.07,69.94 280.10,70.91 280.13,71.69 280.16,72.19 280.19,72.77 280.22,74.08 280.25,74.81 280.28,75.62 280.31,76.41 280.35,76.79 280.38,78.09 280.42,78.96 280.46,79.92 280.50,80.84 280.54,81.37 280.59,82.07 280.63,82.87 280.68,83.61 280.73,84.38 280.78,85.39 280.84,86.12 280.90,87.05 280.96,87.62 281.03,88.18 281.11,89.31 281.19,90.47 281.29,91.17 281.39,91.76 281.50,92.40 281.61,93.20 281.74,93.88 281.87,95.37 282.01,96.11 282.15,96.43 282.31,97.19 282.47,98.31 282.65,98.56 282.87,99.47 283.12,100.52 283.39,100.90 283.69,101.78 284.01,102.58 284.34,103.35 284.68,104.07 285.02,104.73 285.35,105.23 285.68,106.17 286.00,106.96 286.33,107.49 286.67,107.94 287.04,109.26 287.46,109.80 287.92,110.32 288.44,110.76 288.99,111.08 289.56,112.04 290.14,112.96 290.74,113.23 291.38,113.52 292.04,114.32 292.72,114.78 293.40,115.44 294.08,115.74 294.76,115.88 295.43,116.19 296.11,117.24 296.79,117.19 297.48,117.50 298.17,117.92 298.88,118.20 299.59,118.93 300.32,118.99 301.06,119.17 301.81,119.54 302.57,119.99 303.34,120.11 304.11,120.17 304.88,120.58 305.65,120.89 306.42,120.84 307.20,120.89 307.97,121.55 308.74,121.77 309.52,122.02 310.30,122.42 311.08,122.03 311.86,122.26 312.65,122.56 313.43,122.77 314.22,122.82 315.00,122.91 315.79,123.01 316.58,122.94 317.37,123.24 318.16,123.86 318.95,123.64 319.75,124.17 320.54,124.18 321.34,124.10 322.13,124.17 322.93,124.17 323.72,124.36 324.52,124.24 325.32,124.12 326.11,124.26 326.91,124.76 327.71,124.56 328.50,124.86 329.30,124.99 330.10,124.91 330.90,125.53 331.70,125.09 332.50,124.99 333.30,124.89 334.09,124.70 334.89,124.67 335.69,125.26 336.49,125.06 337.29,125.20 338.09,125.77 338.89,125.70 339.69,125.70 340.49,125.68 341.29,126.10 342.09,126.55 342.89,125.79 343.69,125.34 344.49,125.53 345.29,125.98 346.09,126.35 346.89,126.25 347.69,125.96 348.49,125.88 349.29,126.03 350.09,126.17 350.89,125.87 351.69,126.15 352.49,126.01 353.29,125.93 354.09,126.06 354.89,126.34 355.69,126.70 356.49,126.14 357.29,125.81 358.09,125.89 358.89,125.94 359.70,126.41 360.50,126.70 361.30,126.49 362.10,126.22 362.90,126.68 363.70,127.02 364.50,126.69 365.30,126.65 366.10,126.89 366.90,126.92 367.70,127.15 368.50,127.10 369.30,126.68 370.11,126.38 370.91,126.82 371.71,126.80 372.51,126.88 373.31,126.81 374.11,126.56 374.91,126.27 375.71,126.75 376.51,126.59 377.31,126.60 378.11,126.72 378.91,126.68 379.71,127.13 380.52,127.11 381.32,126.91 382.12,126.72 382.92,126.70 383.72,126.52 384.52,126.76 385.32,126.76 386.12,126.73 386.92,127.05 387.72,127.13 388.52,127.11 389.32,126.90 390.12,126.77 390.93,127.00 391.73,127.40 392.53,127.17 393.33,127.20 394.13,127.15 394.93,126.66 395.73,126.69 396.53,126.95 397.33,127.15 398.13,127.18 398.93,127.13 399.73,127.54 400.54,127.19 401.34,127.24 402.14,127.29 402.94,126.93 403.74,126.80 404.54,126.83 405.34,126.98 406.14,127.12 406.94,127.21 407.74,127.60 408.54,127.49 409.34,127.24 410.15,127.05 410.95,127.09 411.75,127.54 412.55,127.45 413.35,127.15 414.15,127.11 414.95,127.46 415.75,127.35 416.55,127.58 417.35,127.28 418.15,126.90 418.95,126.84 419.76,126.91 420.56,127.24 421.36,126.99 422.16,126.84 422.96,127.17 423.76,127.16 424.56,127.29 425.36,127.35 426.16,127.27 426.96,127.10 427.76,127.01 428.57,127.52 429.37,127.41 430.17,127.35 430.97,127.54 431.77,127.06 432.57,127.27 433.37,127.16 434.17,127.10 434.97,127.36 435.77,127.81 436.58,127.47 437.38,127.33 438.18,127.16 438.98,127.02 439.78,127.45 440.58,127.40 441.38,127.63 442.18,127.50 442.98,127.03 443.78,127.26 444.59,126.92 445.39,127.14 446.19,127.34 446.99,127.34 447.79,127.62 448.59,127.02 449.39,127.13 450.19,127.38 450.99,127.44 451.79,127.35 452.60,126.99 453.40,127.05 454.20,127.25 455.00,127.43 455.80,127.61" stroke="#B06E2C"/><path d="M271.00,112.00 271.05,111.20 271.09,110.40 271.14,109.60 271.19,108.80 271.23,108.01 271.28,107.21 271.32,106.41 271.37,105.61 271.42,104.81 271.46,104.01 271.51,103.21 271.56,102.41 271.60,101.62 271.65,100.82 271.70,100.02 271.74,99.22 271.79,98.42 271.84,97.62 271.89,96.82 271.93,96.02 271.98,95.23 272.03,94.43 272.07,93.63 272.12,92.83 272.17,92.03 272.21,91.23 272.26,90.43 272.31,89.63 272.36,88.84 272.40,88.04 272.45,87.24 272.50,86.44 272.55,85.64 272.59,84.84 272.64,84.04 272.69,83.25 272.74,82.45 272.78,81.65 272.83,80.85 272.88,80.05 272.93,79.25 272.97,78.45 273.02,77.65 273.07,76.86 273.11,76.06 273.16,75.26 273.21,74.46 273.25,73.66 273.30,72.86 273.35,72.06 273.39,71.26 273.44,70.46 273.48,69.67 273.53,68.87 273.57,68.07 273.62,67.27 273.66,66.47 273.71,65.67 273.75,64.87 273.80,64.07 273.84,63.27 273.89,62.48 273.93,61.68 273.98,60.88 274.03,60.08 274.07,59.28 274.12,58.48 274.17,57.68 274.22,56.88 274.26,56.08 274.31,55.29 274.36,54.49 274.41,53.69 274.46,52.89 274.51,52.09 274.57,51.29 274.62,50.50 274.67,49.70 274.72,48.90 274.78,48.10 274.83,47.30 274.89,46.50 274.95,45.71 275.01,44.91 275.06,44.11 275.12,43.31 275.17,42.51 275.22,41.71 275.28,40.90 275.33,40.10 275.38,39.30 275.43,38.49 275.49,37.69 275.55,36.89 275.61,36.09 275.67,35.29 275.74,34.49 275.81,33.69 275.89,32.89 275.97,32.10 276.06,31.31 276.15,30.52 276.25,29.73 276.36,28.95 276.47,28.17 276.62,27.31 276.84,26.30 277.09,25.35 277.36,24.65 277.62,24.40 277.90,24.73 278.21,25.47 278.50,26.44 278.72,27.43 278.82,28.26 278.89,29.04 278.96,29.82 279.02,30.60 279.08,31.38 279.14,32.16 279.19,32.95 279.24,33.74 279.29,34.53 279.33,35.33 279.38,36.12 279.42,36.92 279.46,37.72 279.49,38.52 279.53,39.32 279.56,40.12 279.59,40.93 279.62,41.73 279.65,42.53 279.68,43.34 279.70,44.15 279.73,44.95 279.75,45.76 279.77,46.57 279.79,47.38 279.81,48.19 279.83,48.99 279.84,49.80 279.86,50.61 279.88,51.42 279.89,52.22 279.91,53.03 279.92,53.84 279.94,54.64 279.95,55.44 279.97,56.25 279.98,57.05 280.00,57.85 280.01,58.65 280.03,59.45 280.04,60.25 280.05,61.05 280.07,61.85 280.08,62.65 280.09,63.45 280.10,64.25 280.11,65.05 280.12,65.85 280.13,66.65 280.14,67.45 280.15,68.25 280.16,69.05 280.17,69.85 280.18,70.65 280.19,71.45 280.20,72.25 280.20,73.05 280.21,73.85 280.22,74.65 280.23,75.45 280.23,76.25 280.24,77.05 280.25,77.85 280.25,78.65 280.26,79.45 280.27,80.25 280.27,81.05 280.28,81.85 280.28,82.65 280.29,83.45 280.30,84.25 280.30,85.05 280.31,85.85 280.32,86.65 280.32,87.45 280.33,88.25 280.33,89.05 280.34,89.85 280.35,90.65 280.36,91.45 280.36,92.25 280.37,93.05 280.38,93.85 280.38,94.65 280.39,95.46 280.40,96.26 280.41,97.06 280.42,97.86 280.43,98.66 280.44,99.46 280.45,100.26 280.46,101.06 280.47,101.86 280.48,102.66 280.49,103.46 280.50,104.26 280.51,105.06 280.53,105.86 280.54,106.66 280.55,107.46 280.57,108.26 280.58,109.05 280.60,109.85 280.61,110.65 280.63,111.46 280.65,112.26 280.66,113.06 280.68,113.86 280.70,114.67 280.72,115.47 280.75,116.27 280.77,117.07 280.80,117.87 280.83,118.68 280.87,119.47 280.90,120.27 280.95,121.07 280.99,121.86 281.04,122.66 281.10,123.45 281.17,124.27 281.29,125.11 281.46,125.94 281.67,126.70 281.92,127.35 282.40,127.93 283.10,128.44 283.87,128.82 284.59,129.04 285.34,129.22 286.12,129.38 286.93,129.51 287.74,129.63 288.56,129.71 289.38,129.77 290.18,129.81 290.97,129.83 291.77,129.85 292.56,129.87 293.36,129.89 294.16,129.91 294.95,129.93 295.75,129.95 296.55,129.96 297.35,129.98 298.15,130.00 298.95,130.01 299.75,130.02 300.55,130.04 301.35,130.05 302.15,130.06 302.95,130.07 303.75,130.08 304.55,130.09 305.35,130.10 306.15,130.11 306.96,130.12 307.76,130.12 308.56,130.13 309.36,130.14 310.16,130.14 310.97,130.15 311.77,130.16 312.57,130.16 313.37,130.17 314.17,130.17 314.97,130.18 315.78,130.18 316.58,130.18 317.38,130.19 318.18,130.19 318.98,130.20 319.78,130.20 320.58,130.20 321.38,130.21 322.18,130.21 322.98,130.21 323.78,130.22 324.58,130.22 325.38,130.22 326.18,130.23 326.98,130.23 327.78,130.23 328.58,130.24 329.38,130.24 330.18,130.24 330.98,130.25 331.78,130.25 332.58,130.25 333.38,130.26 334.18,130.26 334.98,130.26 335.78,130.27 336.58,130.27 337.38,130.27 338.18,130.28 338.98,130.28 339.78,130.28 340.58,130.28 341.38,130.29 342.18,130.29 342.98,130.29 343.78,130.30 344.58,130.30 345.38,130.30 346.18,130.31 346.98,130.31 347.78,130.31 348.58,130.31 349.38,130.32 350.18,130.32 350.98,130.32 351.78,130.32 352.58,130.33 353.38,130.33 354.18,130.33 354.98,130.34 355.78,130.34 356.58,130.34 357.38,130.34 358.18,130.35 358.98,130.35 359.78,130.35 360.58,130.35 361.38,130.36 362.18,130.36 362.98,130.36 363.78,130.36 364.58,130.37 365.38,130.37 366.18,130.37 366.98,130.37 367.78,130.38 368.59,130.38 369.39,130.38 370.19,130.38 370.99,130.38 371.79,130.39 372.59,130.39 373.39,130.39 374.19,130.39 374.99,130.39 375.79,130.40 376.59,130.40 377.39,130.40 378.19,130.40 378.99,130.41 379.79,130.41 380.59,130.41 381.39,130.41 382.19,130.41 382.99,130.41 383.79,130.42 384.59,130.42 385.39,130.42 386.19,130.42 386.99,130.42 387.79,130.43 388.59,130.43 389.39,130.43 390.19,130.43 390.99,130.43 391.79,130.43 392.59,130.44 393.39,130.44 394.19,130.44 394.99,130.44 395.79,130.44 396.59,130.44 397.39,130.45 398.19,130.45 398.99,130.45 399.79,130.45 400.59,130.45 401.39,130.45 402.19,130.45 402.99,130.46 403.79,130.46 404.59,130.46 405.39,130.46 406.19,130.46 406.99,130.46 407.79,130.46 408.59,130.46 409.39,130.47 410.19,130.47 410.99,130.47 411.79,130.47 412.59,130.47 413.39,130.47 414.19,130.47 414.99,130.47 415.79,130.47 416.59,130.48 417.39,130.48 418.19,130.48 418.99,130.48 419.79,130.48 420.59,130.48 421.39,130.48 422.19,130.48 422.99,130.48 423.79,130.48 424.59,130.48 425.39,130.49 426.19,130.49 426.99,130.49 427.79,130.49 428.59,130.49 429.39,130.49 430.19,130.49 430.99,130.49 431.80,130.49 432.60,130.49 433.40,130.49 434.20,130.49 435.00,130.49 435.80,130.49 436.60,130.49 437.40,130.49 438.20,130.50 439.00,130.50 439.80,130.50 440.60,130.50 441.40,130.50 442.20,130.50 443.00,130.50 443.80,130.50 444.60,130.50 445.40,130.50 446.20,130.50 447.00,130.50 447.80,130.50 448.60,130.50 449.40,130.50 450.20,130.50 451.00,130.50 451.80,130.50 452.60,130.50 453.40,130.50 454.20,130.50 455.00,130.50 455.80,130.50" stroke="#88B231"/><path d="M271.00,112.36 271.02,111.19 271.04,110.49 271.05,109.84 271.07,108.96 271.09,107.80 271.12,107.16 271.14,106.62 271.16,105.91 271.18,104.95 271.21,103.81 271.23,103.03 271.25,102.14 271.28,101.43 271.30,100.75 271.33,99.83 271.36,99.37 271.38,98.53 271.41,97.62 271.44,96.62 271.47,95.48 271.50,95.11 271.53,94.18 271.56,93.40 271.59,92.80 271.62,92.18 271.65,91.31 271.68,90.59 271.71,89.40 271.75,88.30 271.78,87.93 271.81,87.07 271.85,86.18 271.88,85.63 271.92,85.00 271.95,83.93 271.99,83.35 272.02,82.48 272.06,81.54 272.10,80.66 272.13,79.93 272.17,79.17 272.21,77.89 272.24,77.22 272.28,76.69 272.32,75.93 272.36,75.42 272.40,74.31 272.44,73.44 272.47,72.65 272.51,71.79 272.55,71.07 272.59,70.41 272.63,69.75 272.67,68.92 272.71,67.91 272.75,66.93 272.79,66.13 272.83,65.30 272.88,64.34 272.92,63.36 272.96,62.85 273.01,62.08 273.05,61.28 273.10,60.40 273.15,59.58 273.19,59.18 273.24,58.62 273.29,57.53 273.34,56.58 273.39,56.01 273.44,55.67 273.50,54.52 273.55,53.34 273.61,52.61 273.66,52.10 273.72,51.03 273.77,50.47 273.83,49.46 273.89,48.53 273.95,47.73 274.01,46.88 274.07,45.89 274.13,45.43 274.19,44.75 274.25,43.84 274.32,42.98 274.38,41.94 274.45,41.32 274.51,40.92 274.56,40.18 274.62,38.69 274.67,38.16 274.73,37.29 274.79,36.55 274.85,35.84 274.91,34.98 274.98,34.25 275.05,33.48 275.13,32.97 275.22,32.37 275.31,31.34 275.42,30.14 275.54,29.43 275.67,28.63 275.81,27.72 276.04,26.80 276.40,26.35 276.82,25.43 277.24,24.50 277.61,24.17 277.95,24.70 278.30,25.23 278.62,25.91 278.87,27.23 279.02,28.49 279.12,29.32 279.22,29.84 279.30,30.21 279.37,31.32 279.44,32.22 279.50,32.64 279.55,33.80 279.60,34.32 279.64,34.99 279.69,35.83 279.73,36.80 279.77,37.80 279.81,38.63 279.85,39.31 279.89,40.10 279.94,40.98 279.98,41.55 280.04,42.43 280.09,43.46 280.14,44.28 280.19,44.80 280.24,45.20 280.29,46.08 280.34,47.35 280.39,48.04 280.44,48.42 280.49,49.70 280.54,50.40 280.59,51.29 280.63,52.10 280.68,52.78 280.73,53.47 280.77,55.03 280.82,55.49 280.87,55.94 280.91,56.74 280.96,57.76 281.01,58.06 281.05,59.27 281.10,60.07 281.14,60.74 281.19,62.03 281.23,63.08 281.27,63.31 281.31,63.96 281.35,64.93 281.38,65.76 281.42,66.69 281.45,67.34 281.48,67.85 281.52,68.39 281.55,69.22 281.59,70.92 281.62,71.63 281.67,72.25 281.71,73.10 281.76,74.16 281.81,74.72 281.87,75.65 281.93,76.13 282.00,76.70 282.08,77.78 282.17,78.90 282.29,79.85 282.43,80.48 282.59,81.23 282.78,82.16 283.00,82.36 283.34,83.08 283.83,83.62 284.41,84.05 285.01,84.57 285.64,85.53 286.33,85.73 287.06,86.00 287.83,86.30 288.62,86.56 289.40,86.76 290.16,87.62 290.91,87.83 291.68,87.98 292.45,88.23 293.22,88.16 294.00,88.46 294.78,88.89 295.56,89.08 296.34,88.94 297.13,88.64 297.92,89.42 298.70,89.47 299.49,89.34 300.29,89.32 301.08,89.45 301.88,89.66 302.68,89.88 303.48,89.96 304.28,90.03 305.08,90.33 305.88,90.09 306.68,90.21 307.49,90.10 308.29,90.05 309.09,90.69 309.89,90.82 310.69,90.63 311.49,90.57 312.29,90.74 313.09,91.02 313.89,90.90 314.69,90.81 315.49,90.81 316.29,90.89 317.09,90.97 317.89,90.88 318.69,90.65 319.49,90.83 320.30,91.19 321.10,91.28 321.90,90.65 322.70,91.05 323.50,91.00 324.30,90.79 325.11,90.86 325.91,90.97 326.71,90.98 327.51,91.18 328.31,91.30 329.11,91.16 329.92,91.17 330.72,90.91 331.52,91.04 332.32,91.25 333.12,91.30 333.92,91.41 334.72,91.23 335.53,91.39 336.33,91.46 337.13,91.36 337.93,91.89 338.73,92.08 339.53,91.81 340.34,91.51 341.14,91.44 341.94,91.55 342.74,91.70 343.54,92.04 344.34,91.93 345.15,91.53 345.95,92.04 346.75,91.58 347.55,91.89 348.35,92.01 349.16,91.73 349.96,91.58 350.76,91.52 351.56,91.62 352.36,91.99 353.16,92.19 353.97,91.39 354.77,91.65 355.57,91.78 356.37,91.69 357.17,91.60 357.97,91.89 358.78,91.40 359.58,91.60 360.38,91.86 361.18,91.89 361.98,91.62 362.79,91.90 363.59,92.19 364.39,92.04 365.19,91.92 365.99,92.46 366.79,91.87 367.60,92.15 368.40,92.44 369.20,92.22 370.00,91.42 370.80,92.00 371.60,92.29 372.41,92.14 373.21,91.86 374.01,91.88 374.81,92.52 375.61,92.39 376.42,92.28 377.22,92.04 378.02,91.62 378.82,92.04 379.62,91.93 380.42,92.17 381.23,92.41 382.03,92.31 382.83,92.04 383.63,92.18 384.43,92.09 385.23,92.01 386.04,92.11 386.84,92.10 387.64,91.72 388.44,91.90 389.24,91.98 390.05,91.73 390.85,92.01 391.65,92.52 392.45,92.32 393.25,92.13 394.05,92.20 394.86,91.81 395.66,92.22 396.46,91.99 397.26,92.09 398.06,92.54 398.87,92.04 399.67,91.99 400.47,92.21 401.27,92.38 402.07,92.30 402.87,91.98 403.68,91.88 404.48,92.50 405.28,92.70 406.08,92.32 406.88,92.08 407.69,92.23 408.49,91.90 409.29,92.05 410.09,92.64 410.89,92.97 411.70,92.34 412.50,92.03 413.30,92.04 414.10,92.13 414.90,91.96 415.70,91.89 416.51,92.10 417.31,91.95 418.11,91.70 418.91,91.91 419.71,91.94 420.52,92.24 421.32,92.10 422.12,91.79 422.92,91.88 423.72,92.33 424.52,92.17 425.33,92.43 426.13,92.56 426.93,91.92 427.73,92.04 428.53,92.47 429.34,92.71 430.14,92.70 430.94,92.50 431.74,92.16 432.54,92.26 433.35,92.25 434.15,92.34 434.95,92.62 435.75,92.37 436.55,92.51 437.36,92.20 438.16,92.06 438.96,92.37 439.76,92.01 440.56,92.50 441.36,92.47 442.17,92.24 442.97,92.16 443.77,92.26 444.57,92.41 445.37,92.11 446.18,92.17 446.98,92.53 447.78,91.46 448.58,92.06 449.38,92.04 450.19,91.76 450.99,91.61 451.79,91.89 452.59,92.46 453.39,92.36 454.20,92.16 455.00,92.21 455.80,92.53" stroke="#2B82AE"/><path d="M270.80,69.79 270.86,70.40 270.92,71.14 270.98,71.82 271.04,72.60 271.09,73.94 271.14,75.02 271.18,75.67 271.22,76.61 271.25,77.66 271.28,77.81 271.31,79.12 271.33,79.71 271.36,80.15 271.38,80.88 271.40,82.24 271.43,82.77 271.45,83.86 271.47,84.61 271.50,85.09 271.52,86.10 271.55,86.91 271.58,87.30 271.62,88.05 271.65,89.21 271.69,90.20 271.72,90.71 271.76,91.34 271.80,92.30 271.84,93.40 271.88,94.18 271.92,94.93 271.97,95.53 272.01,96.27 272.06,97.15 272.11,97.94 272.17,99.37 272.22,99.73 272.28,100.21 272.34,101.04 272.41,101.92 272.48,102.94 272.55,103.63 272.63,104.31 272.71,105.22 272.80,106.51 272.89,107.13 273.00,107.45 273.13,108.14 273.28,109.24 273.45,110.44 273.64,111.00 273.85,111.57 274.08,112.40 274.33,113.15 274.65,113.40 275.10,114.70 275.64,115.30 276.23,115.85 276.83,116.25 277.60,116.05 278.32,115.47 278.60,114.81 278.78,114.25 278.94,113.45 279.07,112.08 279.18,112.17 279.28,111.19 279.36,110.25 279.43,109.47 279.49,108.57 279.54,107.35 279.58,106.81 279.62,105.77 279.65,104.55 279.69,103.95 279.72,103.34 279.74,102.37 279.77,101.53 279.79,100.95 279.82,100.54 279.84,99.54 279.86,99.07 279.87,97.93 279.89,96.62 279.91,96.00 279.93,95.59 279.94,95.18 279.96,94.41 279.98,93.20 279.99,91.69 280.01,90.92 280.03,90.77 280.05,89.99 280.07,88.85 280.08,87.97 280.10,87.20 280.11,86.53 280.13,85.79 280.14,85.08 280.16,84.41 280.17,82.69 280.18,82.30 280.20,81.82 280.21,80.89 280.22,79.63 280.23,79.16 280.25,78.30 280.26,77.72 280.27,77.18 280.28,76.31 280.29,75.43 280.30,74.91 280.32,74.24 280.33,73.37 280.34,72.38 280.35,71.39 280.36,70.60 280.37,69.87 280.38,69.16 280.39,68.42 280.40,67.47 280.42,66.62 280.43,65.96 280.44,65.36 280.45,64.67 280.46,63.79 280.48,63.07 280.49,62.12 280.50,61.22 280.52,60.54 280.53,59.39 280.54,58.80 280.56,57.93 280.57,56.89 280.59,56.00 280.61,55.70 280.62,54.54 280.64,53.74 280.66,53.05 280.68,52.18 280.69,51.40 280.71,50.58 280.73,49.91 280.75,49.29 280.78,48.64 280.80,47.85 280.82,46.80 280.84,46.14 280.87,45.16 280.89,43.63 280.92,43.25 280.95,42.88 280.98,41.92 281.01,41.02 281.05,40.55 281.09,39.88 281.13,38.62 281.18,37.68 281.23,36.97 281.28,36.22 281.34,34.91 281.39,34.29 281.46,33.48 281.52,32.68 281.59,32.08 281.66,31.72 281.74,30.89 281.82,30.17 281.92,29.31 282.03,28.22 282.17,26.95 282.32,25.56 282.48,24.86 282.65,24.55 282.82,24.34 283.02,24.30 283.25,25.57 283.48,26.73 283.69,27.85 283.88,28.93 284.05,29.97 284.22,29.96 284.37,30.36 284.52,31.08 284.67,32.07 284.81,33.46 284.95,34.48 285.09,34.57 285.23,34.93 285.37,36.05 285.51,37.02 285.66,37.44 285.81,38.27 285.96,39.19 286.10,40.13 286.24,41.60 286.39,41.73 286.54,42.25 286.71,43.14 286.89,44.20 287.10,45.11 287.34,45.93 287.62,46.31 287.92,46.63 288.22,47.20 288.51,48.15 288.79,49.26 289.03,50.05 289.27,50.79 289.49,51.64 289.72,52.68 289.94,53.30 290.17,54.34 290.41,54.99 290.66,55.19 290.91,55.88 291.17,56.49 291.43,57.95 291.70,59.05 291.98,59.44 292.26,59.70 292.56,60.31 292.88,61.33 293.20,62.22 293.54,62.96 293.89,64.03 294.24,64.60 294.60,65.10 294.96,65.80 295.32,66.59 295.67,67.06 296.03,67.77 296.39,68.50 296.75,69.31 297.12,70.19 297.49,71.08 297.88,71.81 298.28,72.67 298.69,73.33 299.11,73.80 299.54,74.45 299.98,75.24 300.42,76.09 300.87,76.47 301.33,76.88 301.79,78.52 302.26,78.29 302.73,79.03 303.21,79.63 303.69,80.01 304.18,80.83 304.67,81.52 305.18,81.77 305.68,82.37 306.20,83.24 306.72,83.76 307.25,84.62 307.78,85.19 308.32,85.73 308.86,86.31 309.41,86.90 309.96,87.79 310.52,88.45 311.08,88.64 311.65,88.78 312.22,89.58 312.80,89.92 313.39,90.41 313.98,91.04 314.58,91.80 315.19,92.63 315.80,92.82 316.42,93.35 317.04,94.24 317.67,94.92 318.30,94.67 318.94,95.38 319.59,96.11 320.25,96.64 320.91,97.02 321.58,97.45 322.25,97.85 322.94,98.38 323.62,98.77 324.32,99.08 325.01,99.47 325.71,99.58 326.42,100.02 327.13,100.28 327.84,100.60 328.55,101.37 329.27,101.52 330.00,101.99 330.73,102.23 331.47,102.43 332.21,103.00 332.95,103.03 333.70,103.73 334.46,104.16 335.21,104.31 335.97,104.47 336.73,104.40 337.49,104.45 338.26,105.02 339.04,105.56 339.81,105.41 340.60,105.92 341.38,105.41 342.17,105.53 342.96,106.10 343.75,106.39 344.54,106.31 345.33,106.82 346.12,107.04 346.91,106.86 347.70,106.47 348.49,106.49 349.28,106.75 350.08,107.09 350.87,107.33 351.66,107.33 352.46,107.31 353.25,107.45 354.05,107.41 354.84,107.35 355.64,107.51 356.43,107.84 357.23,107.63 358.02,107.93 358.82,108.49 359.61,108.71 360.41,107.93 361.21,108.17 362.00,108.21 362.80,108.28 363.60,108.67 364.39,108.42 365.19,108.27 365.99,108.39 366.78,108.71 367.58,109.04 368.38,109.22 369.18,108.79 369.98,109.12 370.77,109.67 371.57,109.71 372.37,109.32 373.17,109.56 373.97,109.75 374.77,109.82 375.56,109.83 376.36,109.85 377.16,109.93 377.96,109.95 378.76,109.99 379.56,110.10 380.36,109.96 381.16,109.85 381.96,110.27 382.76,110.39 383.56,109.81 384.36,110.24 385.16,110.04 385.97,110.17 386.77,110.49 387.57,110.71 388.37,110.51 389.17,110.34 389.97,110.39 390.77,110.39 391.57,110.27 392.37,110.76 393.17,110.54 393.97,110.41 394.77,110.38 395.57,110.39 396.37,110.48 397.17,110.12 397.97,109.94 398.78,110.26 399.58,110.90 400.38,110.45 401.18,110.14 401.98,109.97 402.78,110.04 403.58,110.30 404.38,110.24 405.18,109.95 405.98,110.03 406.78,110.07 407.58,109.88 408.38,109.95 409.18,110.19 409.98,110.06 410.78,109.60 411.58,109.23 412.38,110.14 413.17,110.01 413.97,109.54 414.76,109.38 415.56,109.67 416.36,109.44 417.15,108.74 417.94,108.76 418.74,108.80 419.53,108.63 420.33,109.20 421.12,108.46 421.91,108.33 422.71,108.28 423.50,107.90 424.29,107.25 425.08,107.87 425.88,108.09 426.67,107.82 427.46,107.49 428.25,108.21 429.05,107.65 429.84,107.19 430.63,107.18 431.42,107.63 432.21,108.02 433.00,107.35 433.80,107.19 434.59,107.01 435.38,106.66 436.17,106.69 436.97,106.79 437.76,106.56 438.55,106.56 439.34,106.66 440.14,105.74 440.93,105.79 441.72,105.53 442.51,105.09 443.30,104.87 444.09,105.68 444.88,104.95 445.67,104.56 446.45,104.63 447.24,104.89 448.02,104.65 448.81,104.18 449.59,103.77 450.37,103.75 451.15,103.85 451.92,103.11 452.70,103.73 453.48,103.11 454.25,102.72 455.03,102.83 455.80,102.49" stroke="#432AAA"/></g><rect x="269.9" y="14.1" width="186.5" height="118.0" fill="none" stroke="#000" stroke-width="1.5"/><line x1="267.29999999999995" y1="131.70" x2="269.9" y2="131.70" stroke="#111" stroke-width="1.4"/><text x="266.6" y="136.4" font-size="15" text-anchor="end" font-weight="normal" >0</text><line x1="267.29999999999995" y1="78.30" x2="269.9" y2="78.30" stroke="#111" stroke-width="1.4"/><text x="266.6" y="83.0" font-size="15" text-anchor="end" font-weight="normal" >0.5</text><line x1="267.29999999999995" y1="24.90" x2="269.9" y2="24.90" stroke="#111" stroke-width="1.4"/><text x="266.6" y="29.6" font-size="15" text-anchor="end" font-weight="normal" >1.0</text><line x1="268.4" y1="105.00" x2="269.9" y2="105.00" stroke="#222" stroke-width="1.2"/><line x1="268.4" y1="51.60" x2="269.9" y2="51.60" stroke="#222" stroke-width="1.2"/><line x1="271.00" y1="132.1" x2="271.00" y2="134.5" stroke="#111" stroke-width="1.4"/><text x="271.00" y="146.9" font-size="15" text-anchor="middle" font-weight="normal" >0</text><line x1="348.25" y1="132.1" x2="348.25" y2="134.5" stroke="#111" stroke-width="1.4"/><text x="348.25" y="146.9" font-size="15" text-anchor="middle" font-weight="normal" >0.5</text><line x1="425.50" y1="132.1" x2="425.50" y2="134.5" stroke="#111" stroke-width="1.4"/><text x="425.50" y="146.9" font-size="15" text-anchor="middle" font-weight="normal" >1.0</text><line x1="309.62" y1="132.1" x2="309.62" y2="133.2" stroke="#444" stroke-width="1.1"/><line x1="386.88" y1="132.1" x2="386.88" y2="133.2" stroke="#444" stroke-width="1.1"/><text x="363.1" y="171.6" font-size="15" text-anchor="middle">fluence / (10<tspan font-size="9.5" dy="-6.3">17</tspan><tspan dy="6.3"> ions · cm</tspan><tspan font-size="9.5" dy="-6.3">-2</tspan><tspan dy="6.3">)</tspan></text><text x="249.2" y="7.6" font-size="15" text-anchor="start" font-weight="bold" >c</text><clipPath id="clipe"><rect x="498.0" y="12.1" width="185.79999999999995" height="120.0"/></clipPath><g clip-path="url(#clipe)" fill="none" stroke-width="1.75" stroke-linejoin="round" stroke-linecap="round"><path d="M498.80,130.08 499.09,127.57 499.44,127.57 499.86,127.64 500.32,126.65 500.82,124.78 501.36,125.15 501.99,125.54 502.73,126.03 503.55,126.13 504.42,125.05 505.30,124.86 506.16,125.23 506.99,125.50 507.79,125.77 508.59,126.41 509.39,125.28 510.19,124.82 510.99,124.77 511.79,124.79 512.58,124.63 513.37,125.55 514.16,124.73 514.95,124.27 515.74,124.18 516.53,123.89 517.31,124.85 518.09,124.19 518.85,123.40 519.60,122.74 520.34,122.17 521.08,122.29 521.80,121.98 522.52,121.62 523.21,120.87 523.88,119.78 524.52,120.94 525.14,119.74 525.74,118.82 526.33,118.30 526.92,117.89 527.53,117.79 528.13,117.27 528.73,116.36 529.33,115.61 529.90,115.59 530.47,116.49 531.03,114.24 531.59,113.95 532.14,113.86 532.68,112.62 533.23,112.10 533.76,111.65 534.29,111.71 534.81,110.79 535.33,108.68 535.83,108.34 536.33,108.02 536.82,108.01 537.30,107.21 537.77,105.79 538.23,106.26 538.68,104.46 539.13,103.67 539.57,103.23 540.00,102.57 540.43,101.54 540.86,101.71 541.29,100.94 541.72,100.18 542.15,99.71 542.58,98.94 543.01,98.03 543.45,97.47 543.89,96.76 544.34,96.05 544.79,96.10 545.25,94.68 545.70,94.56 546.16,94.16 546.62,93.06 547.07,91.80 547.53,92.08 547.98,91.03 548.43,89.92 548.88,89.27 549.33,89.09 549.77,87.97 550.20,87.81 550.63,87.37 551.06,86.67 551.48,86.32 551.90,85.40 552.31,84.23 552.73,83.46 553.14,82.94 553.55,82.19 553.95,80.82 554.35,80.44 554.75,79.46 555.15,78.59 555.54,78.86 555.93,78.06 556.31,77.14 556.69,76.57 557.06,76.15 557.43,75.46 557.79,73.94 558.16,73.64 558.53,73.02 558.90,72.08 559.28,71.16 559.67,70.60 560.06,70.16 560.46,69.67 560.87,69.05 561.29,68.07 561.71,65.80 562.13,65.48 562.56,66.34 562.99,66.63 563.42,65.42 563.86,64.43 564.30,62.96 564.75,62.79 565.19,62.49 565.64,61.42 566.08,61.49 566.53,60.63 566.98,60.14 567.44,59.56 567.90,58.81 568.36,58.70 568.83,57.36 569.30,56.62 569.78,55.99 570.26,55.30 570.75,54.99 571.25,54.34 571.75,53.37 572.26,51.51 572.78,49.72 573.30,50.74 573.84,50.35 574.39,50.22 574.94,49.55 575.50,48.55 576.07,48.38 576.64,48.62 577.21,47.87 577.79,46.84 578.38,45.82 578.96,44.70 579.55,44.40 580.14,44.56 580.73,44.42 581.32,43.76 581.90,42.70 582.49,42.12 583.07,41.37 583.65,40.71 584.24,40.45 584.83,40.76 585.42,39.51 586.02,38.70 586.62,38.74 587.23,38.58 587.85,36.95 588.48,36.78 589.12,36.63 589.78,36.20 590.45,35.68 591.14,35.23 591.84,33.64 592.56,34.18 593.29,34.56 594.03,34.39 594.78,33.97 595.53,33.97 596.29,33.79 597.05,32.83 597.81,32.10 598.58,32.52 599.34,32.96 600.09,31.75 600.85,31.36 601.60,30.96 602.37,30.00 603.13,31.22 603.89,30.75 604.66,30.32 605.43,29.90 606.20,29.51 606.98,30.05 607.75,29.27 608.53,28.59 609.31,28.34 610.09,28.57 610.87,28.92 611.65,27.50 612.44,28.36 613.22,29.12 614.01,28.62 614.80,29.05 615.60,28.08 616.39,28.05 617.19,28.36 617.98,28.29 618.78,27.16 619.58,27.63 620.38,27.63 621.18,27.21 621.98,26.74 622.78,26.86 623.59,26.94 624.39,27.01 625.19,26.82 625.99,26.76 626.79,27.87 627.59,27.75 628.39,26.92 629.19,26.66 629.99,27.05 630.79,27.09 631.59,26.61 632.39,25.91 633.19,26.17 633.99,26.76 634.79,25.92 635.59,26.21 636.39,26.05 637.19,25.96 637.99,26.00 638.79,26.03 639.59,26.29 640.39,25.50 641.19,25.37 641.99,25.51 642.79,24.80 643.59,25.66 644.39,25.70 645.19,25.92 645.99,26.11 646.79,25.90 647.59,27.00 648.39,26.42 649.19,26.18 649.99,26.47 650.79,26.80 651.59,26.04 652.39,25.97 653.19,26.32 653.99,26.88 654.79,27.23 655.59,25.86 656.39,25.55 657.19,26.40 657.99,26.93 658.79,26.21 659.59,26.62 660.39,27.51 661.18,28.04 661.98,27.65 662.78,26.60 663.58,27.67 664.37,26.98 665.17,27.00 665.96,27.60 666.75,28.22 667.54,28.02 668.34,27.99 669.13,27.93 669.92,28.09 670.71,28.61 671.50,29.32 672.29,28.92 673.09,28.55 673.88,28.34 674.68,28.36 675.48,28.60 676.28,28.29 677.08,28.96 677.88,29.08 678.68,28.62 679.48,29.74 680.28,29.48 681.09,28.37 681.89,28.02 682.69,28.88 683.50,30.13" stroke="#000000"/><path d="M501.60,40.53 501.66,39.73 501.73,39.02 501.79,38.27 501.87,37.44 501.94,36.56 502.02,35.59 502.11,34.74 502.19,34.00 502.28,33.35 502.37,32.68 502.46,31.74 502.57,30.94 502.69,30.12 502.82,29.30 502.99,28.57 503.18,27.75 503.42,27.12 503.70,26.46 504.12,25.58 504.67,24.84 505.33,24.82 506.15,25.11 506.82,25.50 507.40,26.08 507.91,26.73 508.36,27.47 508.77,27.90 509.16,28.61 509.52,29.50 509.86,30.25 510.19,30.86 510.51,31.65 510.82,32.36 511.13,33.04 511.43,33.85 511.71,34.74 511.98,35.45 512.25,36.26 512.50,37.05 512.76,37.68 513.01,38.62 513.27,39.42 513.53,40.00 513.80,40.57 514.09,41.37 514.37,42.09 514.65,42.83 514.93,43.71 515.22,44.54 515.51,45.19 515.81,46.06 516.13,46.81 516.47,47.39 516.84,48.06 517.23,48.93 517.66,49.49 518.14,50.46 518.66,51.20 519.22,51.81 519.81,52.30 520.45,52.13 521.21,52.20 522.03,52.03 522.83,51.63 523.56,51.17 524.27,51.03 524.97,50.56 525.65,50.10 526.32,49.61 526.96,49.05 527.57,48.57 528.16,48.01 528.75,47.50 529.35,46.99 529.99,46.50 530.64,46.07 531.32,45.47 532.01,45.02 532.72,44.57 533.44,44.10 534.18,44.09 534.93,43.98 535.74,44.01 536.56,44.07 537.35,44.11 538.09,44.26 538.82,44.58 539.52,45.04 540.21,45.53 540.87,45.97 541.52,46.32 542.15,46.92 542.78,47.47 543.39,47.99 543.98,48.50 544.57,49.02 545.14,49.65 545.70,50.33 546.25,50.91 546.78,51.38 547.30,51.88 547.81,52.56 548.32,53.33 548.81,53.95 549.29,54.49 549.76,55.27 550.23,55.96 550.69,56.45 551.14,57.08 551.58,57.83 552.01,58.44 552.43,59.05 552.84,59.82 553.25,60.57 553.65,61.23 554.04,61.84 554.44,62.64 554.83,63.41 555.23,64.13 555.64,64.80 556.05,65.44 556.46,66.12 556.88,66.92 557.30,67.58 557.73,68.19 558.15,68.95 558.57,69.50 559.00,70.17 559.42,70.89 559.83,71.55 560.25,72.04 560.66,72.63 561.08,73.58 561.51,74.28 561.95,74.83 562.41,75.61 562.87,76.31 563.35,76.76 563.83,77.44 564.32,78.20 564.81,78.74 565.31,79.50 565.80,80.10 566.29,80.62 566.78,81.24 567.28,82.05 567.77,82.57 568.26,83.25 568.76,83.91 569.26,84.51 569.76,85.09 570.26,85.82 570.77,86.33 571.27,86.96 571.78,87.59 572.29,88.09 572.80,88.63 573.32,89.37 573.83,89.96 574.35,90.53 574.86,91.19 575.38,91.68 575.90,92.49 576.43,93.14 576.95,93.74 577.49,94.39 578.03,94.87 578.57,95.33 579.12,95.91 579.68,96.48 580.25,96.98 580.83,97.60 581.41,98.20 582.01,98.81 582.60,99.37 583.21,99.88 583.82,100.38 584.43,100.95 585.06,101.44 585.68,101.89 586.31,102.33 586.94,102.62 587.58,103.18 588.23,103.83 588.88,104.39 589.54,104.76 590.20,105.01 590.86,105.47 591.54,105.95 592.21,106.42 592.89,106.87 593.57,107.23 594.26,107.90 594.95,108.31 595.64,108.65 596.34,108.99 597.04,109.28 597.75,109.85 598.45,110.16 599.16,110.43 599.88,110.80 600.60,111.32 601.32,111.57 602.04,111.94 602.77,112.28 603.50,112.57 604.23,112.99 604.97,113.27 605.71,113.57 606.45,113.82 607.19,114.06 607.93,114.44 608.67,114.85 609.42,115.16 610.17,115.42 610.92,115.69 611.67,116.02 612.42,116.30 613.17,116.48 613.93,116.73 614.69,117.00 615.45,117.08 616.22,117.21 616.99,117.51 617.76,117.79 618.53,117.99 619.30,118.15 620.08,118.43 620.86,118.59 621.64,118.76 622.42,118.95 623.20,119.12 623.99,119.23 624.77,119.46 625.56,119.59 626.34,119.69 627.13,119.95 627.91,120.28 628.69,120.24 629.48,120.34 630.26,120.58 631.04,120.81 631.83,121.13 632.61,121.19 633.39,121.29 634.18,121.48 634.96,121.70 635.75,121.69 636.54,121.84 637.32,122.00 638.11,122.14 638.90,122.31 639.69,122.59 640.48,122.66 641.27,122.79 642.06,122.89 642.85,122.90 643.64,123.05 644.43,123.34 645.22,123.45 646.01,123.45 646.81,123.48 647.60,123.67 648.39,123.74 649.19,123.77 649.98,123.83 650.77,123.96 651.57,124.06 652.37,124.16 653.16,124.12 653.96,124.16 654.76,124.39 655.55,124.45 656.35,124.63 657.15,124.65 657.95,124.69 658.74,124.84 659.54,124.81 660.34,124.83 661.14,124.94 661.94,125.02 662.74,125.06 663.53,125.16 664.33,125.17 665.13,125.12 665.93,125.16 666.73,125.31 667.52,125.40 668.32,125.44 669.12,125.49 669.92,125.58 670.72,125.68 671.51,125.71 672.31,125.67 673.11,125.82 673.91,125.93 674.71,125.91 675.51,125.86 676.31,126.04 677.11,126.05 677.90,126.08 678.70,126.16 679.50,126.13 680.30,126.08 681.10,126.23 681.90,126.31 682.70,126.27 683.50,126.27" stroke="#B22A2E"/><path d="M499.40,123.87 499.41,123.01 499.44,122.33 499.48,121.56 499.53,120.65 499.59,119.77 499.66,119.15 499.73,118.45 499.82,117.69 499.91,116.87 500.01,116.00 500.11,115.26 500.21,114.37 500.32,113.53 500.42,112.81 500.55,112.18 500.71,111.28 500.88,110.52 501.07,109.75 501.28,108.97 501.50,108.21 501.73,107.40 501.96,106.66 502.19,105.90 502.42,105.16 502.65,104.47 502.86,103.65 503.07,102.94 503.27,102.09 503.48,101.24 503.68,100.55 503.89,99.63 504.09,98.97 504.30,98.09 504.50,97.22 504.71,96.57 504.91,95.66 505.11,94.90 505.31,94.13 505.51,93.37 505.71,92.65 505.91,91.95 506.10,91.16 506.29,90.37 506.48,89.60 506.66,88.83 506.85,87.92 507.03,87.20 507.21,86.49 507.39,85.64 507.58,84.70 507.76,84.14 507.94,83.23 508.13,82.46 508.32,81.73 508.51,80.95 508.71,80.08 508.91,79.54 509.12,78.68 509.33,77.82 509.54,77.09 509.75,76.34 509.94,75.63 510.13,74.86 510.31,74.03 510.47,73.16 510.63,72.31 510.78,71.62 510.92,70.97 511.06,70.15 511.20,69.24 511.34,68.60 511.47,67.64 511.61,66.84 511.73,66.14 511.86,65.40 511.98,64.42 512.10,63.74 512.22,62.94 512.34,62.16 512.46,61.36 512.57,60.44 512.69,59.73 512.81,58.89 512.92,58.10 513.04,57.35 513.17,56.56 513.29,55.72 513.42,55.04 513.55,54.23 513.69,53.38 513.82,52.64 513.96,51.68 514.10,51.03 514.24,50.35 514.38,49.53 514.52,48.60 514.67,47.87 514.81,47.11 514.96,46.26 515.11,45.42 515.26,44.66 515.41,43.81 515.56,43.03 515.72,42.21 515.88,41.45 516.04,40.81 516.20,40.09 516.36,39.28 516.52,38.46 516.67,37.61 516.83,36.80 516.99,36.28 517.15,35.38 517.32,34.52 517.49,33.72 517.68,32.92 517.88,32.05 518.09,31.25 518.31,30.59 518.55,29.94 518.81,29.21 519.11,28.34 519.44,27.50 519.81,26.70 520.23,26.13 520.71,25.76 521.36,25.13 522.10,24.63 522.83,24.53 523.59,24.76 524.33,25.08 525.00,25.35 525.65,25.96 526.28,26.48 526.89,26.96 527.47,27.52 528.02,28.33 528.54,28.94 529.03,29.46 529.51,30.06 529.96,30.76 530.40,31.48 530.82,32.16 531.22,32.89 531.61,33.66 531.99,34.39 532.36,34.96 532.71,35.65 533.06,36.47 533.40,37.25 533.74,37.93 534.07,38.51 534.40,39.22 534.73,40.09 535.06,40.82 535.38,41.52 535.69,42.34 536.00,43.08 536.31,43.84 536.61,44.64 536.91,45.42 537.20,46.13 537.49,46.98 537.78,47.65 538.06,48.36 538.33,49.11 538.61,49.84 538.89,50.45 539.16,51.19 539.44,51.99 539.72,52.83 540.00,53.65 540.28,54.36 540.56,55.12 540.84,55.74 541.12,56.44 541.39,57.33 541.66,58.04 541.93,58.72 542.19,59.50 542.45,60.31 542.70,61.08 542.95,61.85 543.19,62.62 543.44,63.34 543.69,64.09 543.94,64.89 544.20,65.63 544.47,66.47 544.74,67.22 545.02,67.95 545.30,68.69 545.58,69.45 545.86,70.20 546.15,70.91 546.44,71.70 546.74,72.50 547.04,73.04 547.34,73.85 547.65,74.59 547.96,75.28 548.28,75.99 548.61,76.82 548.94,77.49 549.27,78.33 549.61,79.04 549.96,79.67 550.32,80.44 550.68,80.94 551.05,81.68 551.42,82.49 551.80,83.31 552.19,84.09 552.58,84.74 552.97,85.43 553.37,86.12 553.77,86.82 554.18,87.57 554.59,88.26 555.01,88.83 555.44,89.44 555.87,90.14 556.30,90.91 556.74,91.57 557.19,92.31 557.64,93.00 558.10,93.61 558.56,94.17 559.03,94.83 559.50,95.54 559.98,96.20 560.46,96.82 560.94,97.41 561.43,98.00 561.92,98.73 562.42,99.35 562.92,99.94 563.43,100.58 563.95,101.16 564.47,101.72 565.00,102.42 565.54,103.08 566.09,103.58 566.65,104.14 567.22,104.72 567.80,105.20 568.40,105.76 569.01,106.42 569.64,106.95 570.28,107.30 570.93,107.70 571.59,108.16 572.26,108.68 572.94,109.28 573.62,109.66 574.31,110.09 574.99,110.50 575.68,110.89 576.37,111.32 577.06,111.71 577.76,112.06 578.47,112.41 579.19,112.76 579.91,113.11 580.64,113.50 581.37,113.77 582.09,114.08 582.82,114.43 583.54,114.67 584.26,115.15 584.98,115.47 585.68,115.82 586.38,116.28 587.08,116.83 587.77,117.19 588.47,117.70 589.17,118.03 589.89,118.23 590.61,118.56 591.35,118.88 592.09,119.12 592.83,119.44 593.59,119.74 594.34,119.87 595.11,120.28 595.87,120.45 596.64,120.62 597.42,120.87 598.19,121.19 598.97,121.50 599.75,121.69 600.53,121.82 601.32,121.93 602.10,122.10 602.88,122.49 603.66,122.55 604.44,122.62 605.22,122.80 606.01,123.05 606.79,123.16 607.58,123.30 608.37,123.48 609.16,123.57 609.95,123.57 610.74,123.88 611.54,123.84 612.33,123.98 613.13,124.16 613.92,124.27 614.72,124.47 615.52,124.46 616.31,124.69 617.11,124.87 617.91,124.83 618.70,124.86 619.50,125.16 620.30,125.23 621.09,125.28 621.89,125.42 622.68,125.50 623.48,125.60 624.27,125.75 625.07,125.83 625.86,125.84 626.66,125.93 627.46,125.94 628.25,126.18 629.05,126.33 629.85,126.32 630.64,126.37 631.44,126.47 632.24,126.60 633.04,126.77 633.83,126.90 634.63,126.86 635.43,126.81 636.23,127.08 637.03,127.20 637.83,127.15 638.62,127.26 639.42,127.10 640.22,127.19 641.02,127.34 641.82,127.46 642.62,127.55 643.42,127.58 644.22,127.61 645.03,127.60 645.83,127.58 646.63,127.60 647.43,127.62 648.23,127.68 649.03,127.75 649.83,127.82 650.64,127.94 651.44,127.88 652.24,127.90 653.04,127.92 653.84,127.97 654.64,128.10 655.44,128.10 656.25,128.10 657.05,128.09 657.85,128.09 658.65,128.10 659.45,128.19 660.25,128.19 661.05,128.14 661.86,128.11 662.66,128.15 663.46,128.25 664.26,128.30 665.06,128.29 665.86,128.30 666.66,128.35 667.47,128.30 668.27,128.52 669.07,128.45 669.87,128.35 670.67,128.41 671.47,128.50 672.27,128.44 673.08,128.46 673.88,128.54 674.68,128.60 675.48,128.54 676.28,128.44 677.09,128.51 677.89,128.60 678.69,128.62 679.49,128.51 680.29,128.47 681.09,128.65 681.90,128.80 682.70,128.81 683.50,128.73" stroke="#B06E2C"/><path d="M499.30,78.05 499.33,77.26 499.36,76.46 499.40,75.65 499.43,74.85 499.46,74.00 499.50,73.21 499.54,72.32 499.57,71.49 499.61,70.76 499.65,70.09 499.69,69.26 499.73,68.25 499.77,67.53 499.81,66.96 499.86,65.98 499.90,65.24 499.94,64.37 499.99,63.58 500.03,62.86 500.08,62.03 500.12,61.16 500.17,60.41 500.22,59.63 500.27,58.79 500.31,57.97 500.36,57.36 500.41,56.46 500.46,55.60 500.51,54.79 500.56,53.91 500.62,53.09 500.68,52.36 500.74,51.63 500.80,50.89 500.86,50.18 500.92,49.44 500.99,48.59 501.06,47.65 501.12,46.72 501.19,45.95 501.26,45.17 501.32,44.38 501.39,43.64 501.45,42.92 501.51,42.15 501.57,41.32 501.63,40.45 501.69,39.63 501.74,38.86 501.80,38.12 501.84,37.20 501.88,36.31 501.91,35.35 501.94,34.32 501.97,33.26 501.99,32.10 502.01,31.04 502.04,30.16 502.06,29.29 502.09,28.24 502.13,27.19 502.17,26.49 502.21,25.86 502.27,25.34 502.33,24.99 502.41,24.50 502.50,24.46 502.88,25.00 503.42,25.92 503.68,26.65 503.88,27.24 504.06,28.08 504.20,28.78 504.34,29.48 504.46,30.34 504.59,31.16 504.72,32.11 504.87,32.80 505.04,33.54 505.22,34.53 505.41,35.28 505.60,36.13 505.79,36.86 505.98,37.59 506.16,38.42 506.33,39.20 506.49,39.84 506.63,40.63 506.76,41.47 506.89,42.28 507.01,43.14 507.12,43.81 507.24,44.60 507.34,45.48 507.45,46.33 507.55,47.05 507.65,47.69 507.75,48.54 507.84,49.33 507.94,49.98 508.04,50.97 508.13,51.62 508.23,52.48 508.33,53.36 508.43,54.16 508.54,54.98 508.65,55.74 508.76,56.58 508.87,57.40 508.99,58.18 509.10,58.94 509.22,59.61 509.34,60.50 509.45,61.37 509.57,62.16 509.69,63.02 509.81,63.55 509.93,64.27 510.05,65.09 510.18,65.93 510.30,66.70 510.43,67.75 510.55,68.40 510.67,69.16 510.79,70.05 510.92,70.47 511.04,71.66 511.16,72.50 511.29,73.21 511.42,73.91 511.55,74.61 511.68,75.41 511.81,76.20 511.95,77.02 512.09,77.84 512.24,78.60 512.39,79.37 512.54,80.33 512.71,81.21 512.88,81.91 513.07,82.49 513.25,83.30 513.44,84.06 513.63,84.83 513.82,85.63 514.01,86.43 514.19,87.18 514.38,88.03 514.56,88.77 514.75,89.46 514.94,90.32 515.13,91.20 515.32,91.96 515.51,92.71 515.71,93.49 515.91,94.33 516.10,95.08 516.29,95.87 516.48,96.61 516.66,97.34 516.85,98.17 517.05,99.09 517.25,99.90 517.45,100.68 517.67,101.40 517.90,101.99 518.15,102.69 518.41,103.50 518.70,104.30 519.01,105.08 519.36,105.80 519.74,106.42 520.16,107.12 520.61,107.79 521.09,108.43 521.64,109.08 522.26,109.53 522.93,110.15 523.62,110.54 524.35,110.74 525.12,110.90 525.92,111.18 526.72,111.10 527.52,111.13 528.32,111.23 529.12,111.17 529.92,111.13 530.71,111.20 531.50,111.08 532.28,110.79 533.06,110.49 533.84,110.49 534.62,110.22 535.41,110.02 536.19,109.93 536.98,109.95 537.78,109.82 538.58,109.67 539.38,109.68 540.19,109.68 540.99,109.56 541.79,109.48 542.58,109.54 543.36,109.54 544.15,109.57 544.93,109.70 545.70,109.90 546.48,110.20 547.24,110.61 548.00,110.94 548.75,111.09 549.49,111.35 550.22,111.67 550.94,112.03 551.65,112.40 552.36,112.76 553.06,113.03 553.77,113.44 554.47,113.83 555.18,114.22 555.88,114.61 556.60,115.04 557.32,115.48 558.05,115.88 558.78,116.24 559.51,116.51 560.25,116.58 560.98,116.97 561.72,117.30 562.47,117.58 563.21,117.86 563.95,118.20 564.70,118.56 565.44,118.86 566.19,119.18 566.94,119.52 567.69,119.65 568.44,119.98 569.19,120.41 569.94,120.74 570.69,120.92 571.44,121.20 572.20,121.30 572.95,121.66 573.71,122.03 574.47,122.23 575.23,122.29 575.99,122.63 576.76,122.89 577.53,123.13 578.30,123.32 579.08,123.36 579.85,123.55 580.64,123.77 581.42,123.96 582.21,124.10 583.00,124.24 583.79,124.37 584.58,124.56 585.38,124.61 586.17,124.57 586.96,124.78 587.76,124.96 588.55,125.03 589.34,125.12 590.13,125.28 590.91,125.50 591.70,125.64 592.49,125.66 593.27,125.84 594.06,126.11 594.85,126.21 595.64,126.40 596.43,126.38 597.22,126.49 598.02,126.71 598.81,126.80 599.60,126.80 600.40,126.77 601.19,126.95 601.99,127.21 602.78,127.22 603.58,127.34 604.37,127.40 605.17,127.45 605.96,127.54 606.76,127.71 607.56,127.77 608.35,127.71 609.15,127.80 609.95,127.96 610.74,127.95 611.54,128.15 612.34,128.11 613.14,128.20 613.93,128.28 614.73,128.16 615.53,128.59 616.33,128.49 617.12,128.52 617.92,128.66 618.72,128.71 619.52,128.72 620.32,128.75 621.12,128.70 621.91,128.69 622.71,128.85 623.51,128.95 624.31,128.87 625.11,128.85 625.91,128.96 626.71,129.17 627.51,129.22 628.31,129.13 629.11,129.12 629.91,129.20 630.71,129.29 631.51,129.13 632.31,129.17 633.11,129.23 633.91,129.34 634.71,129.50 635.51,129.46 636.31,129.26 637.10,129.36 637.90,129.48 638.70,129.39 639.50,129.38 640.30,129.47 641.10,129.56 641.90,129.66 642.70,129.72 643.50,129.52 644.30,129.59 645.10,129.77 645.90,129.77 646.70,129.51 647.50,129.62 648.30,129.57 649.10,129.61 649.90,129.57 650.70,129.44 651.50,129.75 652.30,129.82 653.10,129.86 653.90,129.88 654.70,129.89 655.50,129.89 656.30,129.82 657.09,129.85 657.89,129.90 658.69,129.92 659.49,129.96 660.29,129.87 661.09,129.82 661.89,129.88 662.69,129.99 663.49,129.88 664.29,129.93 665.09,129.99 665.89,129.96 666.69,129.87 667.49,129.95 668.29,130.00 669.09,130.07 669.89,130.07 670.69,130.00 671.49,130.02 672.29,130.10 673.10,130.05 673.90,130.02 674.70,130.05 675.50,130.03 676.30,130.07 677.10,130.12 677.90,130.12 678.70,130.08 679.50,130.03 680.30,130.09 681.10,130.10 681.90,130.04 682.70,129.99 683.50,130.17" stroke="#88B231"/><path d="M499.50,95.04 499.51,94.46 499.53,93.55 499.54,92.70 499.56,91.98 499.58,91.24 499.59,90.98 499.61,89.49 499.62,88.43 499.64,87.95 499.65,87.20 499.67,85.55 499.69,85.17 499.70,84.48 499.72,83.67 499.74,83.63 499.75,82.38 499.77,81.44 499.79,80.66 499.80,80.20 499.82,80.05 499.84,77.80 499.85,77.43 499.87,76.89 499.88,76.05 499.90,75.27 499.91,74.62 499.93,74.04 499.94,73.37 499.96,72.14 499.98,70.38 500.00,70.21 500.02,69.40 500.05,69.07 500.07,68.50 500.10,67.21 500.14,66.06 500.19,65.01 500.25,64.40 500.32,64.03 500.39,63.61 500.45,62.74 500.52,61.17 500.57,60.17 500.61,59.77 500.65,59.37 500.68,57.45 500.71,57.03 500.74,56.79 500.76,56.13 500.79,54.97 500.81,53.85 500.83,53.06 500.85,52.57 500.87,51.76 500.90,50.75 500.92,50.34 500.94,48.40 500.97,48.23 501.00,47.61 501.03,46.30 501.06,45.56 501.09,44.90 501.13,44.38 501.17,43.78 501.21,42.66 501.25,40.63 501.30,40.54 501.35,40.48 501.41,40.21 501.47,39.53 501.54,38.39 501.61,37.62 501.69,36.68 501.79,35.98 501.91,35.24 502.06,34.22 502.27,34.35 502.59,32.78 503.19,32.26 503.62,33.31 503.99,34.54 504.30,33.64 504.56,34.95 504.78,36.10 504.99,36.79 505.18,37.19 505.38,37.68 505.59,38.34 505.82,39.34 506.06,40.12 506.31,40.51 506.56,41.80 506.81,42.25 507.07,43.42 507.32,44.68 507.57,45.37 507.82,45.16 508.06,46.23 508.30,47.25 508.55,48.36 508.79,49.37 509.05,49.42 509.32,49.54 509.59,50.83 509.88,51.54 510.17,51.62 510.47,53.09 510.78,54.29 511.09,54.23 511.40,55.07 511.71,56.77 512.04,57.32 512.37,57.39 512.70,58.08 513.03,58.52 513.35,58.91 513.66,60.09 513.96,61.44 514.25,61.85 514.53,62.42 514.82,63.35 515.10,64.34 515.39,64.94 515.69,66.05 516.00,67.20 516.33,67.61 516.65,66.95 516.98,69.05 517.31,68.95 517.67,69.74 518.05,70.86 518.47,71.08 518.94,71.68 519.53,72.79 520.21,73.86 520.92,74.14 521.66,73.40 522.25,72.01 522.72,70.94 523.15,70.28 523.58,69.83 524.01,69.35 524.43,68.85 524.85,67.92 525.26,67.38 525.67,67.00 526.07,66.47 526.47,65.46 526.87,64.92 527.27,64.17 527.66,63.22 528.06,62.33 528.47,62.22 528.87,62.11 529.27,60.87 529.67,59.72 530.07,59.09 530.48,58.21 530.88,57.35 531.27,57.52 531.67,57.02 532.07,55.78 532.46,55.53 532.85,53.90 533.24,53.42 533.63,52.86 534.01,51.84 534.39,50.68 534.77,50.63 535.14,49.15 535.51,48.59 535.87,48.61 536.23,47.40 536.59,47.11 536.94,46.78 537.29,46.10 537.65,45.01 538.00,43.74 538.35,43.92 538.71,42.52 539.07,41.40 539.43,40.81 539.80,40.45 540.17,40.49 540.55,39.24 540.91,38.33 541.27,37.80 541.63,37.24 542.00,36.34 542.36,36.09 542.74,35.03 543.13,33.81 543.54,33.24 543.97,32.97 544.42,32.19 544.90,31.75 545.42,31.05 545.99,29.81 546.59,29.20 547.22,28.81 547.88,28.84 548.55,28.74 549.23,28.15 549.91,27.26 550.61,27.53 551.33,26.85 552.07,25.99 552.83,25.63 553.59,25.94 554.37,25.27 555.15,24.89 555.92,25.26 556.70,25.89 557.50,25.15 558.30,24.69 559.10,24.88 559.91,25.01 560.72,25.04 561.53,25.52 562.33,25.07 563.12,25.60 563.92,25.73 564.71,25.39 565.50,25.43 566.29,25.63 567.08,25.68 567.85,25.92 568.63,26.35 569.39,26.78 570.14,27.19 570.89,27.71 571.63,27.94 572.37,28.13 573.10,28.66 573.84,28.73 574.58,28.43 575.32,28.42 576.06,28.96 576.81,29.96 577.55,30.35 578.30,31.09 579.04,31.05 579.79,30.72 580.54,30.80 581.29,30.96 582.03,32.00 582.78,32.20 583.53,32.37 584.28,33.11 585.03,32.95 585.79,33.19 586.54,33.11 587.29,33.20 588.05,33.69 588.80,33.67 589.56,33.98 590.32,34.53 591.08,34.79 591.84,34.69 592.60,35.11 593.37,35.53 594.13,36.01 594.90,36.27 595.67,36.27 596.43,36.33 597.21,36.88 597.98,36.91 598.75,36.81 599.52,37.03 600.28,37.99 601.05,37.98 601.81,37.78 602.57,38.40 603.33,39.29 604.10,38.68 604.86,39.72 605.61,39.87 606.37,40.20 607.13,40.46 607.89,39.67 608.65,40.17 609.41,40.86 610.17,41.59 610.93,41.95 611.69,41.55 612.46,41.48 613.22,41.95 613.98,42.39 614.74,42.42 615.51,42.05 616.27,43.67 617.03,43.24 617.80,43.01 618.56,43.56 619.33,44.63 620.09,44.32 620.86,44.32 621.62,45.01 622.39,45.44 623.15,45.02 623.92,45.53 624.69,46.01 625.45,46.45 626.22,46.76 626.99,46.74 627.75,45.80 628.52,46.71 629.28,47.20 630.05,47.60 630.82,48.12 631.59,48.08 632.35,48.48 633.12,48.58 633.89,48.57 634.67,48.70 635.44,49.20 636.22,49.50 636.99,49.74 637.77,49.59 638.55,49.26 639.34,49.64 640.12,50.48 640.91,50.29 641.69,49.93 642.48,49.98 643.27,50.69 644.06,50.54 644.85,50.74 645.64,50.90 646.43,51.13 647.23,51.80 648.02,51.21 648.81,51.57 649.60,51.65 650.38,51.47 651.17,51.69 651.96,52.07 652.75,52.55 653.54,52.76 654.32,52.74 655.11,52.74 655.90,52.90 656.69,53.11 657.47,53.55 658.26,54.00 659.05,54.20 659.84,54.55 660.63,53.84 661.41,53.79 662.20,54.03 662.99,53.96 663.77,54.37 664.56,54.13 665.34,53.89 666.13,53.95 666.91,54.39 667.70,54.72 668.48,55.55 669.26,55.69 670.05,55.56 670.83,55.61 671.61,55.86 672.40,56.20 673.18,56.05 673.97,56.03 674.76,56.56 675.54,57.49 676.33,57.27 677.12,56.71 677.92,56.87 678.71,57.71 679.51,57.56 680.30,57.43 681.10,57.43 681.90,57.40 682.70,57.29 683.50,57.24" stroke="#2B82AE"/><path d="M499.30,108.62 499.33,109.74 499.37,110.89 499.42,111.41 499.48,111.78 499.56,113.48 499.64,114.53 499.73,115.06 499.82,115.59 499.93,116.17 500.03,116.50 500.14,118.18 500.25,118.92 500.37,119.34 500.49,119.71 500.64,120.19 500.80,122.07 500.99,122.35 501.21,122.74 501.47,123.52 501.81,124.09 502.39,124.33 503.10,125.61 503.80,126.47 504.55,126.63 505.33,126.46 506.10,127.18 506.87,127.85 507.63,127.69 508.40,127.36 509.17,127.95 509.95,127.58 510.73,128.13 511.52,128.59 512.31,128.77 513.11,128.77 513.91,128.67 514.71,128.46 515.51,128.39 516.31,128.67 517.11,129.31 517.92,129.52 518.72,129.16 519.52,128.39 520.32,128.15 521.12,129.07 521.92,128.81 522.72,128.84 523.51,128.33 524.29,128.36 525.05,129.52 525.79,127.55 526.51,128.11 527.20,128.06 527.90,127.37 528.59,126.69 529.26,126.23 529.89,125.36 530.46,124.78 530.96,124.43 531.42,124.01 531.84,122.76 532.24,121.89 532.62,120.58 532.99,119.70 533.35,119.76 533.70,119.25 534.07,118.23 534.44,117.78 534.82,117.49 535.19,116.87 535.56,115.80 535.93,115.13 536.30,114.11 536.66,113.30 537.02,112.80 537.37,111.36 537.72,112.10 538.05,110.67 538.38,109.38 538.70,109.45 539.01,108.63 539.32,107.67 539.62,106.98 539.93,106.28 540.25,105.42 540.57,104.52 540.91,103.70 541.26,103.28 541.63,102.90 542.00,102.09 542.36,100.17 542.72,100.36 543.07,99.35 543.40,98.81 543.72,98.87 544.04,97.30 544.36,96.09 544.67,95.80 544.99,95.24 545.31,94.21 545.63,93.82 545.94,93.17 546.26,92.46 546.58,91.75 546.89,90.97 547.21,89.96 547.52,89.15 547.84,88.57 548.15,88.02 548.47,87.37 548.79,86.52 549.10,85.86 549.42,84.58 549.75,83.93 550.07,83.77 550.40,82.86 550.73,81.73 551.06,80.69 551.39,80.10 551.72,79.98 552.06,80.08 552.39,79.02 552.73,77.86 553.07,77.29 553.41,76.94 553.75,75.79 554.10,74.26 554.45,74.02 554.80,73.52 555.15,72.74 555.51,72.43 555.88,72.27 556.25,71.21 556.62,70.26 556.99,69.48 557.37,68.55 557.75,67.80 558.14,66.87 558.52,65.93 558.92,65.21 559.31,64.92 559.71,64.54 560.12,63.81 560.52,62.93 560.93,61.95 561.35,60.97 561.77,60.54 562.19,59.98 562.61,59.24 563.04,58.57 563.47,58.09 563.90,56.38 564.34,56.37 564.79,56.06 565.24,55.36 565.70,54.66 566.16,54.22 566.63,53.47 567.10,53.10 567.58,52.72 568.07,51.98 568.56,51.73 569.06,51.03 569.56,50.42 570.07,49.80 570.58,48.89 571.10,47.07 571.63,46.77 572.17,46.68 572.71,46.16 573.27,45.19 573.83,45.19 574.40,44.63 574.98,43.67 575.57,43.32 576.19,43.81 576.82,42.92 577.47,42.40 578.14,40.98 578.82,40.59 579.50,41.70 580.20,40.39 580.89,39.81 581.58,39.65 582.27,39.25 582.94,38.41 583.61,38.06 584.27,37.85 584.92,37.18 585.58,36.62 586.23,36.30 586.88,35.37 587.53,35.58 588.18,34.66 588.84,33.93 589.50,33.90 590.17,33.53 590.84,32.10 591.52,32.48 592.21,32.66 592.90,31.74 593.60,30.67 594.30,30.82 595.01,30.08 595.72,29.63 596.44,29.67 597.16,29.02 597.89,29.05 598.62,28.69 599.36,28.35 600.11,28.16 600.86,27.91 601.63,27.71 602.40,27.70 603.18,27.36 603.96,26.57 604.76,25.62 605.55,26.12 606.35,26.23 607.15,26.88 607.95,27.56 608.76,26.65 609.56,26.84 610.36,26.17 611.16,26.16 611.96,26.63 612.75,26.24 613.55,25.26 614.35,25.88 615.14,25.91 615.94,25.38 616.74,25.52 617.54,25.73 618.34,25.80 619.14,26.02 619.94,26.10 620.74,25.52 621.54,25.17 622.34,25.13 623.14,25.20 623.94,25.32 624.74,25.46 625.54,25.34 626.34,26.02 627.14,26.12 627.94,25.81 628.74,25.82 629.54,26.68 630.33,25.88 631.13,25.42 631.93,25.80 632.72,26.79 633.52,27.18 634.31,27.29 635.10,27.19 635.89,26.98 636.69,26.79 637.48,27.05 638.27,27.32 639.06,27.76 639.85,28.11 640.64,28.19 641.43,28.94 642.22,28.15 643.01,28.25 643.79,28.87 644.58,28.99 645.36,27.58 646.14,29.14 646.92,29.33 647.69,28.90 648.46,29.22 649.24,30.55 650.00,30.23 650.77,30.03 651.54,30.56 652.30,31.68 653.07,31.36 653.83,31.01 654.59,31.28 655.35,31.44 656.11,31.27 656.87,32.39 657.63,32.10 658.40,32.75 659.16,33.26 659.92,32.81 660.69,31.93 661.45,33.24 662.22,33.86 662.98,34.12 663.75,34.52 664.52,35.25 665.29,35.34 666.05,35.22 666.82,35.04 667.59,34.96 668.35,35.21 669.12,36.23 669.89,36.33 670.65,36.49 671.41,36.86 672.18,35.99 672.94,37.08 673.70,37.33 674.46,37.80 675.22,38.71 675.97,38.97 676.73,38.47 677.49,38.78 678.24,38.94 678.99,38.83 679.75,39.43 680.50,39.18 681.25,39.63 682.00,39.97 682.75,40.16 683.50,40.95" stroke="#432AAA"/></g><rect x="498.0" y="14.1" width="185.79999999999995" height="118.0" fill="none" stroke="#000" stroke-width="1.5"/><line x1="495.4" y1="131.70" x2="498.0" y2="131.70" stroke="#111" stroke-width="1.4"/><text x="494.7" y="136.4" font-size="15" text-anchor="end" font-weight="normal" >0</text><line x1="495.4" y1="78.30" x2="498.0" y2="78.30" stroke="#111" stroke-width="1.4"/><text x="494.7" y="83.0" font-size="15" text-anchor="end" font-weight="normal" >0.5</text><line x1="495.4" y1="24.90" x2="498.0" y2="24.90" stroke="#111" stroke-width="1.4"/><text x="494.7" y="29.6" font-size="15" text-anchor="end" font-weight="normal" >1.0</text><line x1="496.5" y1="105.00" x2="498.0" y2="105.00" stroke="#222" stroke-width="1.2"/><line x1="496.5" y1="51.60" x2="498.0" y2="51.60" stroke="#222" stroke-width="1.2"/><line x1="499.00" y1="132.1" x2="499.00" y2="134.5" stroke="#111" stroke-width="1.4"/><text x="499.00" y="146.9" font-size="15" text-anchor="middle" font-weight="normal" >0</text><line x1="576.30" y1="132.1" x2="576.30" y2="134.5" stroke="#111" stroke-width="1.4"/><text x="576.30" y="146.9" font-size="15" text-anchor="middle" font-weight="normal" >0.5</text><line x1="653.60" y1="132.1" x2="653.60" y2="134.5" stroke="#111" stroke-width="1.4"/><text x="653.60" y="146.9" font-size="15" text-anchor="middle" font-weight="normal" >1.0</text><line x1="537.65" y1="132.1" x2="537.65" y2="133.2" stroke="#444" stroke-width="1.1"/><line x1="614.95" y1="132.1" x2="614.95" y2="133.2" stroke="#444" stroke-width="1.1"/><text x="590.9" y="171.6" font-size="15" text-anchor="middle">fluence / (10<tspan font-size="9.5" dy="-6.3">17</tspan><tspan dy="6.3"> ions · cm</tspan><tspan font-size="9.5" dy="-6.3">-2</tspan><tspan dy="6.3">)</tspan></text><text x="480.4" y="7.6" font-size="15" text-anchor="start" font-weight="bold" >e</text><clipPath id="clipb"><rect x="41.4" y="208.2" width="186.79999999999998" height="120.19999999999999"/></clipPath><g clip-path="url(#clipb)" fill="none" stroke-width="1.75" stroke-linejoin="round" stroke-linecap="round"><path d="M43.30,318.00 43.62,317.72 43.91,316.59 44.19,315.73 44.47,315.30 44.74,314.73 45.01,313.86 45.27,313.21 45.53,312.53 45.79,311.75 46.04,310.90 46.30,310.27 46.55,309.62 46.81,308.65 47.06,307.62 47.33,306.97 47.59,306.35 47.86,305.64 48.13,304.90 48.41,304.16 48.70,303.38 49.00,302.37 49.30,301.61 49.61,301.06 49.92,300.54 50.23,299.86 50.56,299.28 50.88,298.81 51.20,297.91 51.53,296.69 51.86,295.44 52.19,294.65 52.52,294.49 52.85,294.18 53.17,293.53 53.50,292.56 53.82,291.51 54.13,290.75 54.45,290.08 54.76,289.53 55.08,288.93 55.39,287.68 55.71,286.91 56.02,286.65 56.33,285.86 56.64,284.50 56.96,284.10 57.27,282.90 57.58,282.33 57.90,281.80 58.21,281.00 58.53,279.94 58.85,279.16 59.16,278.74 59.48,278.34 59.79,277.77 60.10,277.02 60.41,276.21 60.72,275.41 61.03,274.70 61.34,273.99 61.65,273.15 61.96,272.57 62.28,271.52 62.61,270.75 62.95,270.21 63.29,269.61 63.65,269.15 64.01,268.38 64.39,267.70 64.78,267.06 65.20,266.35 65.62,265.82 66.05,265.30 66.50,264.08 66.95,262.93 67.41,262.54 67.87,261.52 68.33,260.71 68.80,260.32 69.26,259.89 69.72,259.19 70.17,259.08 70.62,258.36 71.07,257.82 71.52,257.08 71.96,255.99 72.41,255.12 72.87,254.25 73.32,253.87 73.77,253.40 74.22,252.68 74.67,252.39 75.12,251.15 75.57,250.42 76.02,250.00 76.47,249.50 76.92,248.34 77.36,248.63 77.79,247.80 78.21,246.74 78.63,245.92 79.05,245.43 79.48,244.89 79.91,244.25 80.35,243.47 80.82,242.54 81.30,241.51 81.82,241.33 82.36,241.04 82.93,240.46 83.54,239.86 84.16,239.63 84.81,238.79 85.47,238.57 86.14,238.06 86.82,237.31 87.51,236.76 88.19,236.92 88.87,236.30 89.58,235.63 90.30,235.17 91.03,234.97 91.76,234.66 92.50,234.32 93.23,234.27 93.98,233.98 94.72,233.19 95.42,233.23 96.10,232.54 96.77,232.04 97.42,231.52 98.07,230.88 98.73,230.75 99.40,230.51 100.10,229.77 100.82,229.15 101.55,229.03 102.30,229.09 103.06,228.50 103.82,227.91 104.57,227.76 105.32,228.00 106.05,227.80 106.79,226.89 107.53,226.89 108.27,227.06 109.03,226.82 109.80,225.84 110.58,225.96 111.38,226.13 112.19,226.33 113.00,226.50 113.81,226.59 114.61,226.82 115.41,226.82 116.21,226.88 117.01,226.94 117.81,226.80 118.60,226.77 119.39,226.66 120.16,226.90 120.94,226.94 121.71,226.01 122.47,226.33 123.23,225.62 123.99,225.51 124.74,225.55 125.47,224.86 126.20,224.43 126.93,223.79 127.67,223.49 128.42,223.28 129.18,222.85 129.96,222.84 130.74,222.52 131.52,222.39 132.31,222.59 133.10,222.94 133.89,222.39 134.69,222.64 135.48,222.52 136.26,222.21 137.05,221.91 137.84,221.45 138.62,221.56 139.41,221.61 140.20,221.45 140.99,220.98 141.77,220.17 142.56,220.39 143.35,220.09 144.13,220.00 144.92,220.45 145.71,220.90 146.49,221.12 147.27,221.31 148.04,221.58 148.80,222.05 149.55,222.67 150.29,222.71 151.04,222.75 151.78,222.92 152.54,223.24 153.31,223.64 154.09,223.55 154.87,222.94 155.67,222.62 156.47,222.68 157.27,222.79 158.08,222.58 158.88,222.58 159.67,222.70 160.47,222.76 161.26,222.53 162.05,222.18 162.84,222.29 163.63,221.98 164.42,221.65 165.21,221.85 166.01,221.64 166.80,221.80 167.60,221.72 168.41,221.39 169.21,221.06 170.01,221.22 170.81,221.31 171.61,221.44 172.41,221.54 173.20,221.56 173.99,221.34 174.78,221.85 175.57,222.01 176.36,221.79 177.14,221.55 177.91,222.31 178.67,222.40 179.43,222.81 180.19,223.18 180.96,223.32 181.74,223.48 182.53,223.48 183.33,223.28 184.13,223.55 184.93,223.94 185.74,222.76 186.55,223.28 187.36,223.47 188.16,223.57 188.96,223.80 189.77,224.35 190.58,223.93 191.38,223.86 192.19,223.63 192.99,223.36 193.79,223.52 194.58,223.36 195.36,223.53 196.14,223.92 196.91,224.47 197.67,225.13 198.44,224.98 199.20,225.27 199.96,225.58 200.72,225.75 201.48,225.82 202.23,226.81 202.99,226.90 203.76,226.91 204.53,226.80 205.31,226.43 206.10,226.61 206.89,226.61 207.68,226.43 208.48,226.34 209.28,226.42 210.08,225.69 210.89,225.78 211.69,225.90 212.50,225.87 213.29,225.58 214.07,224.87 214.85,226.19 215.61,226.47 216.37,226.30 217.12,226.38 217.87,226.88 218.62,226.64 219.36,226.93 220.10,227.63 220.83,228.32 221.57,228.29 222.29,228.35 223.01,229.23 223.72,230.02 224.42,230.40 225.10,230.77" stroke="#000000"/><path d="M42.80,255.90 42.97,255.19 43.13,254.38 43.26,253.60 43.35,252.85 43.42,251.99 43.49,251.28 43.55,250.46 43.61,249.53 43.66,248.66 43.71,248.09 43.75,247.31 43.80,246.50 43.84,245.68 43.89,244.88 43.93,244.10 43.98,243.37 44.04,242.47 44.09,241.60 44.13,240.78 44.18,239.99 44.22,239.21 44.27,238.40 44.31,237.65 44.36,236.87 44.41,235.94 44.46,235.29 44.51,234.44 44.57,233.66 44.63,232.91 44.70,232.08 44.77,231.31 44.85,230.58 44.94,229.75 45.04,228.88 45.15,228.04 45.27,227.16 45.40,226.33 45.55,225.52 45.72,224.71 45.91,223.89 46.12,223.21 46.37,222.60 46.81,221.76 47.35,220.96 47.81,220.63 48.14,220.77 48.45,221.35 48.74,222.12 49.01,222.98 49.25,223.90 49.49,225.08 49.71,225.88 49.93,226.67 50.15,227.48 50.35,228.32 50.54,228.90 50.73,229.76 50.91,230.51 51.08,231.29 51.25,232.17 51.41,233.05 51.58,233.71 51.74,234.49 51.90,235.34 52.06,236.18 52.22,236.94 52.38,237.68 52.55,238.47 52.72,239.26 52.89,240.04 53.08,240.89 53.26,241.75 53.44,242.53 53.63,243.20 53.81,243.86 53.99,244.64 54.18,245.59 54.37,246.34 54.56,247.09 54.75,247.87 54.95,248.62 55.15,249.30 55.35,250.13 55.56,250.88 55.77,251.55 55.99,252.24 56.22,253.00 56.45,253.79 56.69,254.71 56.93,255.61 57.18,256.28 57.43,257.05 57.69,257.78 57.96,258.52 58.22,259.28 58.49,260.08 58.76,260.85 59.03,261.69 59.31,262.40 59.58,263.04 59.86,263.73 60.15,264.42 60.44,265.30 60.73,266.05 61.02,266.76 61.32,267.55 61.63,268.37 61.94,269.07 62.26,269.75 62.58,270.46 62.91,271.22 63.26,271.94 63.62,272.78 63.99,273.46 64.37,274.11 64.75,274.82 65.14,275.45 65.52,276.04 65.90,276.79 66.27,277.60 66.63,278.36 66.99,278.99 67.34,279.79 67.69,280.56 68.05,281.22 68.40,281.81 68.76,282.52 69.12,283.25 69.50,284.01 69.88,284.75 70.26,285.47 70.66,286.23 71.05,286.95 71.45,287.67 71.86,288.38 72.27,289.03 72.69,289.54 73.12,290.38 73.56,291.01 74.00,291.61 74.46,292.27 74.93,292.92 75.42,293.63 75.93,294.17 76.45,294.73 76.98,295.39 77.53,296.11 78.09,296.54 78.65,297.12 79.21,297.75 79.78,298.33 80.35,298.79 80.92,299.44 81.50,299.99 82.08,300.54 82.67,301.03 83.27,301.41 83.87,302.16 84.48,302.81 85.09,303.34 85.71,303.78 86.34,304.18 86.96,304.66 87.60,305.07 88.23,305.61 88.88,306.16 89.52,306.60 90.17,307.04 90.83,307.52 91.49,308.10 92.16,308.62 92.83,308.97 93.50,309.40 94.18,309.76 94.87,310.12 95.56,310.43 96.26,310.73 96.96,311.24 97.68,311.65 98.39,312.01 99.12,312.40 99.84,312.79 100.57,312.97 101.31,313.47 102.05,313.73 102.79,313.93 103.54,314.23 104.29,314.63 105.04,314.92 105.79,315.20 106.54,315.40 107.29,315.52 108.05,315.72 108.81,316.11 109.58,316.46 110.35,316.64 111.12,316.71 111.89,316.97 112.67,317.06 113.45,317.21 114.23,317.51 115.01,317.87 115.80,318.00 116.59,318.07 117.37,318.18 118.16,318.36 118.95,318.58 119.74,318.74 120.53,318.89 121.32,318.97 122.11,319.12 122.90,319.33 123.69,319.46 124.48,319.58 125.26,319.80 126.05,319.89 126.84,319.91 127.63,320.11 128.42,320.25 129.21,320.34 130.00,320.52 130.79,320.73 131.58,320.81 132.38,320.98 133.17,320.95 133.96,321.04 134.76,321.22 135.55,321.37 136.35,321.45 137.14,321.52 137.94,321.62 138.73,321.71 139.53,321.76 140.33,322.03 141.12,321.97 141.92,321.97 142.71,322.09 143.51,322.29 144.31,322.29 145.10,322.44 145.90,322.48 146.70,322.54 147.49,322.71 148.29,322.67 149.09,322.61 149.89,322.69 150.69,322.78 151.49,322.84 152.28,323.13 153.08,323.00 153.88,322.99 154.68,323.05 155.48,323.10 156.28,323.22 157.08,323.37 157.88,323.35 158.68,323.36 159.48,323.45 160.28,323.34 161.08,323.46 161.88,323.40 162.68,323.39 163.48,323.54 164.28,323.75 165.08,323.73 165.88,323.72 166.68,323.67 167.48,323.64 168.28,323.78 169.08,323.96 169.88,323.89 170.68,323.82 171.48,323.88 172.28,324.10 173.08,323.96 173.88,323.87 174.68,323.95 175.48,324.13 176.28,324.18 177.08,324.17 177.88,324.18 178.68,324.22 179.48,324.25 180.28,324.22 181.08,324.19 181.88,324.37 182.68,324.44 183.48,324.43 184.28,324.52 185.08,324.23 185.88,324.44 186.68,324.54 187.48,324.52 188.28,324.57 189.08,324.61 189.88,324.49 190.68,324.59 191.48,324.74 192.28,324.69 193.08,324.77 193.88,324.79 194.68,324.87 195.48,324.95 196.29,324.92 197.09,324.82 197.89,324.88 198.69,325.00 199.49,325.06 200.29,325.00 201.09,325.09 201.89,325.00 202.69,324.98 203.49,325.06 204.29,325.16 205.09,325.01 205.89,325.06 206.69,325.14 207.49,325.16 208.29,325.12 209.09,325.28 209.89,325.44 210.69,325.41 211.49,325.36 212.29,325.37 213.09,325.25 213.89,325.32 214.69,325.32 215.49,325.30 216.29,325.28 217.09,325.12 217.90,325.40 218.70,325.45 219.50,325.47 220.30,325.56 221.10,325.57 221.90,325.49 222.70,325.54 223.50,325.62 224.30,325.67 225.10,325.64" stroke="#B22A2E"/><path d="M42.80,226.42 43.04,225.30 43.31,224.36 43.61,223.73 43.93,223.14 44.29,222.10 44.72,221.36 45.29,221.11 46.03,220.84 46.81,220.73 47.65,220.89 48.12,221.15 48.47,221.69 48.76,222.44 49.01,223.22 49.24,223.86 49.49,225.09 49.75,225.96 50.00,226.76 50.24,227.43 50.47,227.86 50.70,228.76 50.93,229.36 51.15,230.16 51.38,231.04 51.61,231.65 51.83,232.81 52.06,233.57 52.28,234.07 52.50,234.69 52.72,235.82 52.94,236.53 53.16,237.32 53.37,238.04 53.59,238.71 53.81,239.40 54.03,240.16 54.24,241.11 54.46,242.01 54.68,242.79 54.90,243.45 55.12,244.00 55.33,244.91 55.55,245.89 55.76,246.68 55.98,247.17 56.19,247.90 56.41,248.77 56.63,249.69 56.86,250.48 57.08,251.03 57.31,251.80 57.55,252.70 57.78,253.32 58.02,253.86 58.26,254.64 58.50,256.06 58.74,256.85 58.99,257.43 59.24,258.08 59.50,258.92 59.76,259.48 60.03,260.12 60.31,261.00 60.60,261.84 60.90,262.47 61.21,263.20 61.53,263.75 61.85,264.38 62.19,265.15 62.53,266.07 62.88,267.14 63.23,267.98 63.59,268.55 63.96,268.97 64.33,269.46 64.71,270.37 65.09,271.09 65.48,272.06 65.87,272.60 66.28,272.72 66.69,273.98 67.12,274.39 67.55,274.85 67.98,275.73 68.43,276.96 68.87,277.74 69.32,277.79 69.78,278.34 70.24,279.11 70.71,279.85 71.18,280.53 71.65,281.17 72.13,281.78 72.62,282.52 73.11,283.40 73.60,284.22 74.10,284.40 74.61,284.88 75.12,285.42 75.63,286.04 76.15,287.07 76.67,287.69 77.20,288.02 77.73,288.50 78.27,289.23 78.82,289.99 79.37,290.72 79.93,291.11 80.50,291.62 81.07,292.25 81.65,292.72 82.24,293.11 82.83,293.72 83.42,294.34 84.02,294.91 84.63,295.50 85.23,295.74 85.84,296.38 86.45,296.76 87.06,297.02 87.68,297.63 88.29,298.27 88.90,298.99 89.51,299.56 90.12,299.96 90.74,300.28 91.36,301.00 91.98,301.59 92.61,302.23 93.25,302.79 93.89,303.10 94.54,303.51 95.21,304.18 95.88,304.54 96.56,304.77 97.24,305.23 97.94,305.31 98.64,305.85 99.34,306.31 100.06,306.72 100.77,307.26 101.49,307.93 102.22,308.23 102.95,308.34 103.68,308.57 104.42,309.14 105.15,309.69 105.89,309.70 106.64,309.82 107.38,309.98 108.13,310.14 108.88,310.96 109.64,310.67 110.41,310.85 111.17,311.23 111.94,311.40 112.72,311.83 113.50,311.90 114.28,312.15 115.06,312.36 115.84,312.32 116.63,312.39 117.41,312.39 118.20,312.65 118.99,313.04 119.78,313.41 120.57,313.75 121.36,313.56 122.15,313.75 122.94,313.99 123.73,313.99 124.51,313.92 125.30,314.03 126.08,314.27 126.87,314.43 127.65,314.42 128.44,314.31 129.23,315.33 130.02,315.23 130.81,315.10 131.60,315.49 132.39,315.67 133.18,315.64 133.98,315.79 134.77,315.79 135.56,315.72 136.36,316.35 137.15,316.52 137.94,316.85 138.74,316.96 139.53,316.98 140.33,317.77 141.12,317.17 141.92,316.88 142.71,317.03 143.51,317.37 144.30,317.22 145.10,317.32 145.90,317.25 146.69,317.09 147.49,316.97 148.29,317.07 149.09,317.64 149.89,317.76 150.68,317.80 151.48,317.89 152.28,317.98 153.08,317.65 153.88,317.74 154.68,318.06 155.48,318.19 156.28,317.69 157.08,318.25 157.88,318.19 158.68,318.19 159.48,318.23 160.28,317.90 161.09,318.17 161.89,318.50 162.68,318.59 163.48,318.41 164.28,318.20 165.08,318.69 165.88,318.67 166.68,318.67 167.48,318.83 168.28,319.12 169.08,319.09 169.88,318.90 170.68,319.05 171.48,319.26 172.28,319.09 173.08,319.43 173.88,319.47 174.67,319.47 175.47,319.49 176.27,319.52 177.07,319.60 177.87,319.72 178.67,319.41 179.47,319.28 180.27,319.86 181.07,319.48 181.87,319.55 182.67,319.82 183.47,319.87 184.27,319.48 185.07,319.51 185.87,319.34 186.67,319.45 187.47,319.76 188.27,320.02 189.07,319.79 189.87,320.03 190.67,320.15 191.47,320.23 192.27,320.31 193.07,319.86 193.87,319.79 194.67,319.96 195.47,320.22 196.27,320.32 197.07,319.81 197.87,320.37 198.67,320.37 199.47,320.09 200.27,319.97 201.07,320.25 201.88,320.38 202.68,320.31 203.48,320.37 204.28,320.55 205.08,319.97 205.88,320.36 206.68,320.70 207.48,320.73 208.28,320.53 209.08,320.52 209.88,320.61 210.68,320.68 211.48,320.81 212.28,320.84 213.08,320.14 213.89,320.67 214.69,321.05 215.49,320.88 216.29,320.33 217.09,320.33 217.89,320.29 218.69,320.73 219.49,320.86 220.29,320.56 221.09,320.58 221.90,320.94 222.70,320.59 223.50,320.52 224.30,320.76 225.10,320.39" stroke="#B06E2C"/><path d="M42.80,223.88 42.94,223.00 43.07,221.95 43.20,221.17 43.32,220.95 43.44,221.09 43.55,221.41 43.65,221.96 43.75,222.66 43.85,223.44 43.94,224.18 44.04,225.13 44.13,226.20 44.23,227.26 44.32,228.31 44.41,229.45 44.51,230.26 44.61,231.37 44.71,232.33 44.81,233.09 44.92,233.85 45.02,234.52 45.13,235.44 45.23,236.31 45.33,237.13 45.44,237.99 45.55,238.80 45.66,239.47 45.77,240.34 45.89,241.18 46.02,241.77 46.15,242.65 46.29,243.36 46.43,244.06 46.59,244.84 46.75,245.73 46.93,246.57 47.11,247.42 47.29,248.14 47.49,248.87 47.70,249.73 47.91,250.52 48.13,251.24 48.35,251.99 48.59,252.70 48.84,253.40 49.11,254.30 49.39,254.98 49.69,255.69 50.00,256.49 50.31,257.36 50.63,258.12 50.95,258.71 51.27,259.34 51.59,260.15 51.91,261.08 52.24,261.75 52.58,262.36 52.91,263.09 53.25,263.88 53.59,264.67 53.92,265.46 54.25,266.05 54.57,266.76 54.88,267.50 55.20,268.23 55.53,268.96 55.87,269.75 56.22,270.45 56.59,271.19 56.98,271.93 57.38,272.54 57.78,273.38 58.18,273.91 58.57,274.58 58.96,275.38 59.33,276.11 59.69,276.73 60.05,277.45 60.40,278.14 60.74,278.83 61.09,279.59 61.44,280.09 61.79,280.97 62.15,281.83 62.52,282.58 62.89,283.28 63.27,283.86 63.66,284.62 64.05,285.32 64.44,286.02 64.84,286.77 65.25,287.52 65.66,288.16 66.08,288.80 66.51,289.50 66.94,290.21 67.38,290.64 67.83,291.52 68.28,292.23 68.75,292.80 69.22,293.36 69.70,293.90 70.19,294.66 70.70,295.26 71.21,295.87 71.73,296.56 72.27,297.12 72.81,297.75 73.36,298.39 73.93,299.02 74.50,299.58 75.07,300.06 75.67,300.58 76.27,301.06 76.89,301.64 77.52,302.27 78.16,302.72 78.80,303.24 79.44,303.70 80.09,304.10 80.74,304.49 81.40,304.95 82.07,305.45 82.74,305.89 83.41,306.31 84.10,306.72 84.79,307.10 85.48,307.36 86.19,307.80 86.90,308.24 87.62,308.59 88.35,308.84 89.08,309.16 89.81,309.68 90.55,310.08 91.29,310.28 92.03,310.35 92.78,310.81 93.52,310.94 94.26,311.32 95.00,311.83 95.74,312.15 96.48,312.40 97.22,312.90 97.95,313.25 98.69,313.44 99.43,313.63 100.17,314.11 100.91,314.60 101.66,314.82 102.40,314.97 103.15,315.27 103.90,315.64 104.65,315.90 105.41,316.10 106.17,316.29 106.93,316.55 107.70,316.93 108.47,317.00 109.24,317.08 110.01,317.22 110.79,317.40 111.57,317.54 112.35,317.72 113.14,317.96 113.93,318.14 114.71,318.28 115.50,318.68 116.30,318.80 117.09,318.87 117.88,318.92 118.67,319.03 119.47,319.36 120.26,319.48 121.06,319.62 121.85,319.78 122.64,319.90 123.44,319.97 124.23,320.07 125.02,320.16 125.81,320.21 126.60,320.30 127.40,320.61 128.19,320.74 128.98,320.72 129.78,320.75 130.57,320.90 131.37,321.16 132.16,321.20 132.96,321.26 133.76,321.30 134.55,321.38 135.35,321.59 136.15,321.65 136.95,321.70 137.74,321.87 138.54,322.05 139.34,322.01 140.14,322.11 140.94,322.31 141.74,322.39 142.53,322.39 143.33,322.46 144.13,322.48 144.93,322.49 145.73,322.55 146.53,322.62 147.33,322.67 148.13,322.78 148.93,322.72 149.73,322.71 150.53,322.80 151.33,322.95 152.13,322.95 152.93,322.99 153.74,323.02 154.54,323.08 155.34,323.14 156.14,323.14 156.94,323.24 157.74,323.33 158.55,323.30 159.35,323.17 160.15,323.40 160.95,323.28 161.75,323.28 162.56,323.25 163.36,323.21 164.16,323.69 164.96,323.53 165.76,323.61 166.56,323.70 167.36,323.65 168.17,323.62 168.97,323.62 169.77,323.68 170.57,323.85 171.37,324.02 172.17,323.85 172.97,323.76 173.78,323.85 174.58,324.00 175.38,324.11 176.18,324.07 176.98,324.04 177.78,324.02 178.59,323.96 179.39,323.92 180.19,324.04 180.99,324.09 181.79,324.18 182.60,324.20 183.40,324.18 184.20,324.26 185.00,324.33 185.80,324.30 186.60,324.33 187.41,324.37 188.21,324.28 189.01,324.34 189.81,324.36 190.61,324.33 191.42,324.32 192.22,324.43 193.02,324.57 193.82,324.48 194.62,324.45 195.42,324.46 196.23,324.36 197.03,324.27 197.83,324.40 198.63,324.51 199.43,324.60 200.24,324.72 201.04,324.65 201.84,324.71 202.64,324.68 203.44,324.65 204.25,324.72 205.05,324.76 205.85,324.70 206.65,324.72 207.45,324.76 208.26,324.76 209.06,324.87 209.86,324.77 210.66,324.75 211.46,324.75 212.27,324.72 213.07,324.70 213.87,324.70 214.67,324.94 215.47,325.07 216.28,324.94 217.08,324.91 217.88,324.93 218.68,324.85 219.48,324.85 220.29,324.96 221.09,324.91 221.89,324.96 222.69,325.09 223.50,325.05 224.30,324.85 225.10,324.74" stroke="#88B231"/><path d="M42.80,253.01 43.01,251.84 43.20,251.52 43.37,251.10 43.52,250.30 43.66,249.33 43.79,248.30 43.92,247.23 44.03,246.70 44.15,246.31 44.26,245.23 44.37,244.43 44.48,243.62 44.59,242.82 44.70,241.98 44.82,241.11 44.95,240.64 45.09,239.36 45.24,238.54 45.40,237.85 45.57,236.79 45.76,236.29 45.96,235.70 46.18,235.06 46.41,234.14 46.66,232.99 46.91,232.64 47.18,231.47 47.46,230.92 47.75,230.50 48.05,229.77 48.36,228.83 48.68,228.06 49.02,227.46 49.37,226.74 49.75,225.77 50.16,224.72 50.59,224.58 51.05,223.81 51.54,223.18 52.09,222.80 52.72,222.20 53.40,221.66 54.10,220.95 54.83,220.78 55.55,220.93 56.30,220.54 57.08,220.73 57.87,220.88 58.65,221.53 59.39,222.39 60.11,222.84 60.82,222.82 61.53,222.97 62.26,223.42 63.00,223.83 63.75,223.87 64.50,224.39 65.25,224.85 65.99,225.19 66.73,225.25 67.47,225.15 68.20,226.18 68.90,226.10 69.57,226.34 70.22,227.00 70.85,227.85 71.47,228.39 72.08,228.56 72.69,229.10 73.31,229.52 73.94,229.72 74.58,230.58 75.23,230.94 75.87,231.35 76.52,231.97 77.17,232.70 77.82,233.19 78.46,233.09 79.10,233.80 79.73,234.40 80.36,234.72 80.97,235.28 81.58,236.15 82.18,236.65 82.77,237.42 83.37,238.27 83.96,238.63 84.56,239.10 85.16,239.44 85.77,239.70 86.39,240.03 87.01,240.64 87.64,241.49 88.27,241.68 88.91,242.25 89.55,242.98 90.20,243.42 90.86,243.98 91.52,244.28 92.19,244.94 92.87,245.49 93.56,245.58 94.26,245.88 94.98,246.53 95.71,246.78 96.45,246.86 97.18,247.05 97.92,247.50 98.65,247.95 99.38,248.19 100.09,248.59 100.79,249.11 101.48,249.05 102.16,249.93 102.84,250.37 103.52,250.83 104.22,251.25 104.92,251.02 105.64,251.42 106.36,252.03 107.08,252.52 107.82,252.91 108.55,253.45 109.29,253.24 110.03,253.71 110.78,254.11 111.53,254.34 112.28,254.61 113.03,254.99 113.78,254.80 114.53,255.19 115.28,255.82 116.03,256.02 116.78,256.70 117.53,256.76 118.28,256.91 119.03,257.13 119.78,257.31 120.53,257.78 121.29,257.70 122.04,258.11 122.80,258.51 123.56,258.54 124.32,258.88 125.08,259.10 125.84,259.62 126.61,259.85 127.37,259.64 128.14,259.94 128.91,260.21 129.69,260.67 130.46,261.01 131.24,261.10 132.01,261.08 132.79,261.49 133.57,261.73 134.35,261.80 135.13,261.90 135.90,262.36 136.68,262.64 137.46,263.08 138.23,263.22 139.00,263.12 139.78,263.19 140.55,263.36 141.32,264.04 142.09,264.23 142.86,264.14 143.63,264.41 144.40,264.76 145.18,265.02 145.95,265.04 146.73,265.04 147.51,265.30 148.29,265.73 149.06,266.15 149.85,266.08 150.63,265.91 151.41,266.10 152.20,266.58 152.99,266.79 153.79,266.96 154.58,267.01 155.38,266.97 156.18,267.16 156.98,266.84 157.78,266.86 158.58,267.25 159.38,267.63 160.17,267.06 160.97,267.63 161.76,267.63 162.55,267.73 163.35,268.03 164.14,267.92 164.93,267.78 165.73,267.85 166.52,267.86 167.31,268.03 168.10,268.90 168.89,269.02 169.69,269.29 170.48,269.39 171.27,269.45 172.06,269.73 172.85,269.55 173.64,269.89 174.43,270.07 175.23,270.13 176.02,270.28 176.81,270.07 177.60,270.26 178.39,270.59 179.18,270.87 179.97,270.97 180.76,270.90 181.55,271.26 182.34,271.40 183.13,271.52 183.92,271.73 184.71,271.53 185.50,271.78 186.29,271.84 187.08,271.85 187.87,272.01 188.67,272.38 189.46,272.46 190.26,272.59 191.05,272.64 191.85,272.59 192.64,272.65 193.44,272.72 194.24,273.03 195.03,273.32 195.83,273.32 196.63,272.83 197.43,272.84 198.22,273.29 199.02,273.70 199.82,273.81 200.62,273.54 201.42,273.64 202.22,273.71 203.01,273.56 203.81,273.57 204.61,274.18 205.40,273.74 206.20,273.77 207.00,274.02 207.80,274.34 208.61,274.65 209.41,274.75 210.21,274.76 211.02,274.98 211.82,275.29 212.62,275.47 213.42,275.38 214.23,275.37 215.02,275.68 215.82,276.07 216.62,276.24 217.41,275.87 218.20,276.10 218.98,276.33 219.77,276.40 220.54,276.28 221.32,276.01 222.08,275.81 222.84,275.85 223.60,275.61 224.35,275.06 225.10,274.71" stroke="#2B82AE"/><path d="M43.30,301.01 43.38,301.97 43.51,302.75 43.66,303.61 43.85,304.44 44.06,304.83 44.28,305.40 44.53,306.44 44.78,307.43 45.06,308.21 45.39,308.93 45.76,309.74 46.18,310.13 46.64,310.56 47.14,311.19 47.73,311.99 48.44,312.46 49.23,312.70 50.04,312.91 50.83,313.01 51.59,312.83 52.37,312.55 53.16,312.42 53.94,312.31 54.70,312.03 55.44,311.44 56.15,311.32 56.85,310.85 57.53,310.50 58.21,310.20 58.87,309.71 59.52,308.96 60.16,308.41 60.78,307.93 61.40,307.49 62.00,307.07 62.59,306.57 63.17,306.16 63.73,305.65 64.29,305.06 64.84,304.42 65.38,303.80 65.91,303.16 66.45,302.51 66.98,301.84 67.52,301.17 68.06,300.66 68.61,300.30 69.16,299.50 69.72,298.64 70.29,298.12 70.87,297.60 71.45,297.27 72.03,296.41 72.62,295.69 73.21,295.58 73.80,295.07 74.39,294.66 74.99,294.14 75.59,293.60 76.19,293.08 76.79,292.34 77.39,291.69 77.99,290.98 78.59,290.40 79.18,290.02 79.78,289.62 80.38,289.47 80.98,288.74 81.59,287.97 82.20,287.47 82.81,286.91 83.43,286.46 84.04,285.86 84.65,285.36 85.26,284.96 85.87,284.08 86.47,283.82 87.06,283.28 87.65,282.75 88.22,282.29 88.79,281.60 89.34,281.09 89.88,280.48 90.42,279.94 90.94,279.53 91.46,279.17 91.98,278.04 92.49,277.47 93.00,276.98 93.51,276.43 94.03,276.06 94.54,274.78 95.07,274.08 95.59,273.59 96.11,273.14 96.63,272.74 97.15,272.12 97.67,271.43 98.19,270.78 98.73,270.19 99.27,269.57 99.82,268.71 100.38,268.43 100.94,267.91 101.51,267.15 102.09,266.67 102.67,266.07 103.25,265.59 103.85,265.04 104.44,264.47 105.04,263.99 105.64,263.22 106.25,262.76 106.87,262.32 107.48,261.92 108.10,261.64 108.73,260.90 109.36,260.59 109.99,260.11 110.63,259.48 111.27,258.94 111.92,258.43 112.57,258.06 113.23,257.80 113.90,257.44 114.57,256.77 115.25,256.11 115.93,255.86 116.62,255.44 117.31,254.97 118.00,254.66 118.69,254.07 119.39,253.58 120.09,253.23 120.78,252.87 121.48,252.41 122.18,252.34 122.88,251.93 123.57,251.51 124.27,251.09 124.96,250.62 125.65,250.05 126.34,249.70 127.03,249.38 127.72,248.99 128.41,248.47 129.10,247.97 129.79,247.83 130.48,247.37 131.18,246.73 131.87,246.18 132.57,245.91 133.26,245.67 133.96,245.27 134.65,244.79 135.35,244.30 136.05,243.71 136.76,243.68 137.46,243.31 138.16,242.84 138.87,242.44 139.58,241.96 140.29,241.79 141.00,241.27 141.72,240.95 142.43,240.91 143.15,240.25 143.88,239.89 144.60,239.70 145.33,239.50 146.06,239.20 146.80,238.83 147.54,238.52 148.28,238.17 149.02,237.90 149.77,237.68 150.51,237.27 151.26,236.98 152.01,236.55 152.76,236.22 153.51,236.03 154.26,235.78 155.01,235.49 155.76,235.36 156.51,235.08 157.26,234.68 158.01,234.51 158.75,234.16 159.50,233.88 160.25,233.46 161.00,233.09 161.76,233.19 162.51,232.55 163.26,232.32 164.02,231.96 164.78,231.64 165.54,231.89 166.31,231.46 167.08,231.21 167.85,230.87 168.63,230.51 169.40,230.39 170.18,230.44 170.96,230.25 171.75,230.08 172.53,229.94 173.31,229.78 174.10,229.51 174.88,229.32 175.66,229.17 176.45,228.98 177.23,228.66 178.02,228.51 178.81,228.65 179.60,228.62 180.38,228.40 181.17,228.13 181.96,227.62 182.75,227.65 183.53,227.60 184.32,227.50 185.10,227.49 185.88,227.27 186.66,227.06 187.43,226.95 188.20,226.73 188.97,226.21 189.74,225.77 190.51,225.68 191.28,225.51 192.06,225.30 192.83,225.14 193.60,224.78 194.38,224.60 195.16,224.58 195.94,224.58 196.72,224.46 197.51,224.16 198.29,223.89 199.08,223.68 199.87,223.50 200.65,223.32 201.44,223.16 202.23,223.36 203.02,223.17 203.81,222.89 204.60,222.74 205.39,222.46 206.18,222.45 206.97,222.48 207.76,222.38 208.56,222.12 209.35,222.07 210.14,222.08 210.94,221.76 211.73,221.48 212.53,221.42 213.32,221.41 214.12,221.15 214.93,221.09 215.73,221.13 216.54,221.11 217.35,220.79 218.15,220.94 218.95,220.86 219.75,220.66 220.54,220.52 221.32,220.71 222.09,220.68 222.85,221.07 223.61,221.43 224.36,221.63 225.10,221.94" stroke="#432AAA"/></g><rect x="41.4" y="210.2" width="186.79999999999998" height="118.19999999999999" fill="none" stroke="#000" stroke-width="1.5"/><line x1="38.8" y1="327.60" x2="41.4" y2="327.60" stroke="#111" stroke-width="1.4"/><text x="38.1" y="332.3" font-size="15" text-anchor="end" font-weight="normal" >0</text><line x1="38.8" y1="274.20" x2="41.4" y2="274.20" stroke="#111" stroke-width="1.4"/><text x="38.1" y="278.9" font-size="15" text-anchor="end" font-weight="normal" >0.5</text><line x1="38.8" y1="220.80" x2="41.4" y2="220.80" stroke="#111" stroke-width="1.4"/><text x="38.1" y="225.5" font-size="15" text-anchor="end" font-weight="normal" >1.0</text><line x1="39.9" y1="300.90" x2="41.4" y2="300.90" stroke="#222" stroke-width="1.2"/><line x1="39.9" y1="247.50" x2="41.4" y2="247.50" stroke="#222" stroke-width="1.2"/><line x1="42.60" y1="328.4" x2="42.60" y2="330.79999999999995" stroke="#111" stroke-width="1.4"/><text x="42.60" y="343.2" font-size="15" text-anchor="middle" font-weight="normal" >0</text><line x1="106.50" y1="328.4" x2="106.50" y2="330.79999999999995" stroke="#111" stroke-width="1.4"/><text x="106.50" y="343.2" font-size="15" text-anchor="middle" font-weight="normal" >0.5</text><line x1="170.40" y1="328.4" x2="170.40" y2="330.79999999999995" stroke="#111" stroke-width="1.4"/><text x="170.40" y="343.2" font-size="15" text-anchor="middle" font-weight="normal" >1.0</text><line x1="74.55" y1="328.4" x2="74.55" y2="329.5" stroke="#444" stroke-width="1.1"/><line x1="138.45" y1="328.4" x2="138.45" y2="329.5" stroke="#444" stroke-width="1.1"/><line x1="202.35" y1="328.4" x2="202.35" y2="329.5" stroke="#444" stroke-width="1.1"/><text x="134.8" y="367.9" font-size="15" text-anchor="middle">fluence / (10<tspan font-size="9.5" dy="-6.3">16</tspan><tspan dy="6.3"> ions · cm</tspan><tspan font-size="9.5" dy="-6.3">-2</tspan><tspan dy="6.3">)</tspan></text><text x="24.5" y="200.8" font-size="15" text-anchor="start" font-weight="bold" >b</text><clipPath id="clipd"><rect x="269.8" y="208.2" width="186.39999999999998" height="120.19999999999999"/></clipPath><g clip-path="url(#clipd)" fill="none" stroke-width="1.75" stroke-linejoin="round" stroke-linecap="round"><path d="M270.60,326.87 271.35,326.34 272.10,326.15 272.86,325.92 273.62,325.58 274.39,325.33 275.15,325.32 275.93,325.02 276.70,324.83 277.48,324.72 278.27,324.40 279.05,324.59 279.84,324.41 280.63,324.19 281.42,324.03 282.21,323.89 283.00,323.66 283.80,323.62 284.59,323.46 285.39,323.27 286.19,323.31 286.99,322.98 287.79,323.16 288.60,323.18 289.40,323.04 290.20,323.02 291.00,323.02 291.80,323.23 292.60,323.34 293.40,323.30 294.20,323.20 295.00,323.40 295.81,323.37 296.61,323.23 297.41,323.15 298.21,323.24 299.01,323.31 299.82,323.12 300.62,323.11 301.42,323.22 302.22,323.26 303.02,323.05 303.83,323.12 304.63,323.16 305.44,323.15 306.24,323.10 307.03,323.11 307.82,322.99 308.61,322.80 309.35,322.49 310.00,321.98 310.59,321.29 311.09,320.66 311.56,319.99 311.99,319.37 312.39,318.78 312.74,317.76 313.04,317.22 313.31,316.57 313.56,315.84 313.79,315.11 314.01,314.37 314.22,313.53 314.41,312.63 314.61,311.74 314.80,310.91 314.99,310.20 315.19,309.51 315.39,308.86 315.60,308.15 315.80,307.36 316.01,306.56 316.21,305.86 316.41,304.96 316.61,303.97 316.81,303.04 317.00,302.36 317.19,301.79 317.39,300.98 317.57,300.14 317.76,299.32 317.94,298.43 318.13,297.72 318.30,297.01 318.48,296.23 318.65,295.44 318.81,294.75 318.97,294.03 319.13,293.22 319.29,292.44 319.45,291.66 319.60,290.79 319.76,290.22 319.91,289.36 320.07,288.45 320.23,287.61 320.39,286.86 320.56,286.05 320.73,285.30 320.91,284.57 321.08,283.88 321.26,283.21 321.45,282.18 321.63,281.34 321.82,280.72 322.01,280.03 322.21,279.02 322.41,278.17 322.61,277.64 322.82,276.69 323.02,275.73 323.23,275.24 323.44,274.56 323.66,273.78 323.88,273.04 324.11,272.27 324.35,271.42 324.61,270.62 324.88,269.65 325.17,269.09 325.50,268.55 325.87,267.74 326.25,267.05 326.63,266.21 326.99,265.37 327.33,264.68 327.66,264.10 327.98,263.14 328.31,262.45 328.65,261.71 329.03,260.89 329.45,260.13 329.93,259.79 330.46,259.31 331.03,258.63 331.60,257.95 332.17,257.45 332.75,257.28 333.34,256.54 333.93,255.90 334.54,255.40 335.15,254.97 335.75,254.46 336.37,253.82 337.00,253.35 337.65,253.01 338.32,252.66 339.01,252.11 339.72,251.57 340.44,251.28 341.18,251.05 341.93,250.76 342.68,250.37 343.43,250.19 344.20,249.96 344.99,249.79 345.78,249.60 346.57,249.19 347.37,249.19 348.16,248.94 348.95,248.89 349.74,248.91 350.54,248.58 351.34,248.65 352.13,248.45 352.92,248.44 353.71,248.48 354.49,248.17 355.28,247.91 356.06,247.75 356.85,247.52 357.63,247.29 358.41,247.20 359.20,247.21 359.98,247.11 360.76,246.94 361.55,246.72 362.33,246.49 363.12,246.34 363.91,246.16 364.70,246.12 365.49,246.05 366.28,245.78 367.08,245.59 367.87,245.57 368.66,245.45 369.46,245.39 370.25,245.50 371.05,245.40 371.85,245.04 372.64,244.88 373.44,244.82 374.23,244.76 375.03,244.69 375.83,244.46 376.62,244.36 377.42,244.38 378.21,244.41 379.01,244.23 379.80,244.11 380.59,244.03 381.39,243.88 382.18,243.67 382.97,243.72 383.77,243.51 384.56,243.60 385.35,243.55 386.15,243.16 386.94,242.78 387.74,243.04 388.53,242.76 389.32,242.64 390.12,242.83 390.91,242.53 391.71,242.35 392.50,242.36 393.29,242.37 394.09,242.29 394.89,242.09 395.68,242.00 396.48,241.77 397.27,241.65 398.07,241.69 398.87,241.68 399.66,241.69 400.46,241.62 401.26,241.48 402.05,241.35 402.85,241.40 403.65,241.08 404.45,240.85 405.25,240.85 406.04,240.96 406.84,240.93 407.64,240.66 408.44,240.71 409.24,240.74 410.04,240.62 410.83,240.32 411.63,240.49 412.43,240.50 413.23,240.38 414.03,240.22 414.83,240.14 415.63,240.04 416.43,239.96 417.23,239.97 418.03,239.97 418.83,239.80 419.63,239.71 420.43,239.71 421.23,239.65 422.03,239.67 422.83,239.90 423.63,239.84 424.43,239.67 425.23,239.44 426.04,239.33 426.84,239.46 427.64,239.49 428.44,239.44 429.24,239.38 430.04,239.33 430.84,239.24 431.64,239.01 432.44,238.90 433.24,238.97 434.04,239.00 434.84,238.87 435.64,239.06 436.43,239.07 437.23,239.01 438.03,238.94 438.83,238.85 439.63,238.41 440.43,238.52 441.23,238.70 442.03,238.69 442.83,238.45 443.63,238.27 444.42,238.43 445.22,238.42 446.02,238.36 446.82,238.28 447.62,238.06 448.42,238.00 449.22,238.03 450.01,237.82 450.81,237.48 451.61,237.67 452.41,237.56 453.21,237.56 454.00,237.40 454.80,237.14 455.60,237.23" stroke="#000000"/><path d="M270.80,313.50 271.16,312.78 271.48,312.05 271.75,311.30 272.01,310.55 272.26,309.80 272.49,309.03 272.72,308.27 272.93,307.50 273.14,306.72 273.34,305.95 273.54,305.17 273.74,304.39 273.93,303.61 274.12,302.82 274.31,302.04 274.50,301.26 274.69,300.48 274.89,299.70 275.09,298.92 275.30,298.14 275.51,297.37 275.74,296.60 275.97,295.84 276.21,295.07 276.45,294.31 276.70,293.55 276.95,292.79 277.21,292.03 277.46,291.27 277.72,290.51 277.98,289.76 278.25,289.00 278.51,288.24 278.77,287.48 279.04,286.73 279.30,285.97 279.57,285.21 279.83,284.46 280.09,283.70 280.35,282.94 280.61,282.18 280.86,281.42 281.11,280.66 281.37,279.90 281.62,279.14 281.88,278.38 282.15,277.62 282.41,276.86 282.67,276.10 282.93,275.34 283.19,274.58 283.45,273.82 283.70,273.06 283.94,272.30 284.18,271.53 284.40,270.76 284.62,270.00 284.82,269.22 285.01,268.45 285.19,267.68 285.37,266.90 285.53,266.12 285.69,265.33 285.85,264.55 286.00,263.76 286.15,262.98 286.29,262.19 286.43,261.40 286.57,260.61 286.70,259.82 286.84,259.02 286.97,258.23 287.10,257.44 287.24,256.65 287.37,255.86 287.51,255.07 287.65,254.28 287.79,253.49 287.93,252.70 288.08,251.91 288.23,251.12 288.38,250.33 288.52,249.54 288.66,248.75 288.81,247.96 288.95,247.17 289.09,246.38 289.23,245.59 289.38,244.80 289.52,244.01 289.67,243.22 289.82,242.43 289.97,241.65 290.13,240.86 290.29,240.08 290.45,239.29 290.62,238.51 290.80,237.73 290.99,236.96 291.18,236.19 291.37,235.41 291.57,234.62 291.77,233.82 291.98,233.01 292.19,232.19 292.41,231.37 292.64,230.57 292.89,229.78 293.16,229.01 293.45,228.27 293.77,227.56 294.11,226.90 294.48,226.28 294.93,225.66 295.52,225.00 296.21,224.46 296.92,224.20 297.64,224.32 298.44,224.66 299.23,225.04 299.97,225.28 300.60,225.08 301.16,224.30 301.70,223.72 302.27,224.03 302.84,224.84 303.40,225.30 303.98,224.96 304.56,224.20 305.13,223.39 305.68,222.92 306.21,223.04 306.74,223.54 307.26,224.29 307.73,225.14 308.12,225.94 308.44,226.64 308.74,227.37 309.02,228.11 309.27,228.87 309.51,229.65 309.73,230.43 309.94,231.22 310.13,232.01 310.32,232.80 310.49,233.59 310.66,234.37 310.82,235.15 310.97,235.94 311.12,236.72 311.26,237.51 311.40,238.29 311.53,239.08 311.66,239.87 311.78,240.67 311.90,241.46 312.02,242.26 312.13,243.05 312.24,243.85 312.35,244.64 312.46,245.44 312.57,246.23 312.67,247.03 312.78,247.83 312.89,248.62 312.99,249.42 313.10,250.21 313.21,251.00 313.31,251.80 313.42,252.59 313.52,253.39 313.62,254.18 313.72,254.98 313.82,255.77 313.91,256.57 314.01,257.36 314.10,258.16 314.20,258.95 314.29,259.75 314.39,260.54 314.48,261.34 314.58,262.14 314.68,262.93 314.78,263.73 314.88,264.52 314.98,265.32 315.08,266.11 315.18,266.91 315.28,267.70 315.38,268.50 315.47,269.29 315.57,270.09 315.67,270.88 315.76,271.68 315.85,272.47 315.95,273.27 316.04,274.06 316.12,274.86 316.21,275.66 316.30,276.45 316.38,277.25 316.47,278.05 316.55,278.84 316.64,279.64 316.72,280.44 316.81,281.23 316.89,282.03 316.98,282.83 317.06,283.62 317.15,284.42 317.23,285.22 317.32,286.01 317.41,286.81 317.50,287.60 317.59,288.40 317.68,289.20 317.77,289.99 317.86,290.79 317.95,291.59 318.03,292.38 318.12,293.18 318.21,293.98 318.29,294.78 318.38,295.58 318.46,296.38 318.55,297.17 318.63,297.97 318.72,298.77 318.81,299.57 318.90,300.37 318.99,301.16 319.09,301.96 319.18,302.76 319.28,303.55 319.39,304.34 319.49,305.14 319.61,305.93 319.72,306.72 319.84,307.51 319.96,308.30 320.09,309.09 320.22,309.87 320.36,310.66 320.52,311.44 320.68,312.23 320.86,313.01 321.05,313.80 321.26,314.58 321.48,315.35 321.71,316.11 321.96,316.87 322.22,317.64 322.50,318.42 322.82,319.20 323.18,319.92 323.59,320.56 324.08,321.10 324.69,321.60 325.40,322.06 326.15,322.46 326.90,322.77 327.64,322.99 328.42,323.19 329.21,323.35 330.01,323.49 330.81,323.62 331.60,323.73 332.39,323.83 333.19,323.92 333.98,324.01 334.78,324.09 335.58,324.17 336.38,324.25 337.18,324.32 337.98,324.40 338.77,324.48 339.57,324.56 340.37,324.64 341.17,324.73 341.96,324.81 342.76,324.89 343.56,324.97 344.36,325.05 345.16,325.11 345.96,325.17 346.75,325.22 347.55,325.26 348.35,325.29 349.15,325.31 349.95,325.32 350.75,325.33 351.55,325.34 352.35,325.35 353.15,325.37 353.95,325.38 354.75,325.39 355.55,325.40 356.35,325.41 357.15,325.42 357.95,325.44 358.75,325.45 359.55,325.46 360.35,325.47 361.14,325.48 361.94,325.49 362.74,325.50 363.54,325.51 364.34,325.52 365.14,325.53 365.94,325.54 366.74,325.55 367.54,325.56 368.34,325.57 369.14,325.58 369.94,325.59 370.74,325.60 371.54,325.60 372.34,325.61 373.14,325.62 373.94,325.63 374.74,325.64 375.54,325.65 376.34,325.66 377.14,325.66 377.94,325.67 378.74,325.68 379.54,325.69 380.34,325.70 381.14,325.70 381.94,325.71 382.74,325.72 383.54,325.72 384.34,325.73 385.14,325.74 385.94,325.75 386.74,325.75 387.54,325.76 388.34,325.77 389.14,325.77 389.95,325.78 390.75,325.78 391.55,325.79 392.35,325.80 393.15,325.80 393.95,325.81 394.75,325.81 395.55,325.82 396.35,325.82 397.15,325.83 397.95,325.84 398.75,325.84 399.55,325.85 400.35,325.85 401.15,325.86 401.96,325.86 402.76,325.86 403.56,325.87 404.36,325.87 405.16,325.88 405.96,325.88 406.76,325.89 407.56,325.89 408.36,325.89 409.16,325.90 409.97,325.90 410.77,325.91 411.57,325.91 412.37,325.91 413.17,325.92 413.97,325.92 414.77,325.92 415.58,325.93 416.38,325.93 417.18,325.93 417.98,325.94 418.78,325.94 419.58,325.94 420.39,325.95 421.19,325.95 421.99,325.95 422.79,325.95 423.59,325.96 424.39,325.96 425.20,325.96 426.00,325.96 426.80,325.96 427.60,325.97 428.40,325.97 429.21,325.97 430.01,325.97 430.81,325.97 431.61,325.98 432.42,325.98 433.22,325.98 434.02,325.98 434.82,325.98 435.62,325.98 436.43,325.99 437.23,325.99 438.03,325.99 438.83,325.99 439.64,325.99 440.44,325.99 441.24,325.99 442.05,325.99 442.85,325.99 443.65,325.99 444.45,326.00 445.26,326.00 446.06,326.00 446.86,326.00 447.67,326.00 448.47,326.00 449.27,326.00 450.08,326.00 450.88,326.00 451.68,326.00 452.49,326.00 453.29,326.00 454.09,326.00 454.90,326.00 455.70,326.00" stroke="#B22A2E"/><path d="M270.80,308.00 271.20,307.31 271.61,306.62 272.01,305.92 272.41,305.23 272.82,304.54 273.23,303.85 273.63,303.16 274.04,302.47 274.44,301.78 274.85,301.08 275.25,300.39 275.65,299.70 276.05,299.00 276.45,298.31 276.85,297.61 277.24,296.91 277.63,296.21 278.01,295.51 278.39,294.81 278.77,294.10 279.14,293.39 279.51,292.68 279.87,291.97 280.24,291.26 280.60,290.54 280.96,289.83 281.31,289.11 281.67,288.39 282.02,287.67 282.37,286.95 282.72,286.23 283.07,285.51 283.42,284.79 283.77,284.06 284.12,283.34 284.47,282.62 284.82,281.90 285.17,281.18 285.52,280.46 285.87,279.74 286.21,279.01 286.55,278.29 286.90,277.57 287.24,276.84 287.58,276.12 287.92,275.39 288.26,274.67 288.60,273.94 288.95,273.22 289.29,272.49 289.64,271.77 289.99,271.05 290.34,270.33 290.69,269.61 291.06,268.90 291.43,268.19 291.81,267.48 292.18,266.77 292.55,266.06 292.91,265.34 293.25,264.62 293.57,263.89 293.88,263.16 294.19,262.42 294.49,261.67 294.78,260.93 295.07,260.18 295.35,259.43 295.64,258.68 295.92,257.93 296.20,257.18 296.48,256.43 296.77,255.68 297.07,254.93 297.36,254.19 297.66,253.44 297.96,252.70 298.26,251.96 298.56,251.21 298.86,250.47 299.16,249.73 299.46,248.99 299.76,248.24 300.06,247.50 300.36,246.76 300.66,246.02 300.96,245.27 301.26,244.53 301.55,243.78 301.85,243.04 302.14,242.29 302.43,241.55 302.72,240.80 303.00,240.05 303.29,239.30 303.57,238.55 303.84,237.80 304.12,237.05 304.39,236.30 304.66,235.54 304.93,234.79 305.20,234.03 305.46,233.28 305.73,232.52 305.99,231.76 306.26,231.01 306.52,230.25 306.78,229.49 307.04,228.73 307.30,227.98 307.56,227.22 307.81,226.45 308.04,225.68 308.29,224.91 308.54,224.15 308.83,223.41 309.14,222.65 309.50,221.74 309.92,221.04 310.45,220.94 311.23,221.27 311.99,221.78 312.44,222.30 312.76,222.88 313.04,223.53 313.29,224.25 313.51,225.03 313.71,225.85 313.89,226.69 314.06,227.55 314.22,228.42 314.37,229.27 314.53,230.11 314.70,230.91 314.87,231.69 315.04,232.47 315.20,233.26 315.35,234.04 315.50,234.83 315.65,235.62 315.79,236.40 315.93,237.19 316.07,237.98 316.21,238.77 316.35,239.56 316.48,240.35 316.62,241.14 316.76,241.93 316.90,242.72 317.05,243.51 317.19,244.30 317.34,245.09 317.48,245.87 317.62,246.66 317.77,247.45 317.91,248.24 318.05,249.03 318.20,249.82 318.34,250.60 318.48,251.39 318.63,252.18 318.78,252.97 318.92,253.75 319.08,254.54 319.23,255.33 319.38,256.11 319.54,256.90 319.70,257.68 319.86,258.47 320.03,259.25 320.20,260.03 320.37,260.82 320.54,261.60 320.72,262.38 320.89,263.16 321.06,263.94 321.24,264.73 321.41,265.51 321.59,266.29 321.76,267.07 321.93,267.86 322.11,268.64 322.28,269.42 322.46,270.20 322.65,270.98 322.84,271.76 323.03,272.53 323.23,273.31 323.42,274.10 323.61,274.88 323.81,275.66 324.00,276.44 324.21,277.22 324.41,278.00 324.63,278.78 324.85,279.55 325.08,280.31 325.32,281.07 325.58,281.83 325.84,282.57 326.12,283.31 326.42,284.05 326.74,284.79 327.08,285.53 327.43,286.26 327.81,286.99 328.20,287.70 328.61,288.40 329.03,289.08 329.47,289.74 329.91,290.38 330.38,291.00 330.88,291.60 331.40,292.19 331.95,292.77 332.52,293.34 333.11,293.90 333.72,294.45 334.34,294.98 334.96,295.51 335.60,296.02 336.23,296.53 336.87,297.02 337.50,297.50 338.14,297.98 338.78,298.45 339.44,298.92 340.10,299.38 340.78,299.84 341.46,300.27 342.15,300.70 342.85,301.10 343.55,301.49 344.25,301.85 344.97,302.19 345.69,302.50 346.41,302.81 347.15,303.10 347.89,303.39 348.64,303.67 349.40,303.94 350.16,304.20 350.93,304.46 351.69,304.70 352.47,304.94 353.24,305.17 354.02,305.40 354.80,305.62 355.57,305.84 356.35,306.05 357.13,306.25 357.90,306.45 358.67,306.65 359.45,306.84 360.22,307.03 361.00,307.22 361.78,307.40 362.56,307.58 363.34,307.76 364.13,307.93 364.91,308.10 365.69,308.27 366.48,308.44 367.27,308.60 368.05,308.76 368.84,308.91 369.63,309.07 370.42,309.22 371.21,309.36 372.00,309.50 372.79,309.64 373.58,309.77 374.37,309.91 375.16,310.03 375.95,310.16 376.74,310.28 377.53,310.39 378.32,310.50 379.12,310.61 379.91,310.72 380.70,310.82 381.50,310.92 382.29,311.01 383.09,311.11 383.88,311.20 384.68,311.29 385.48,311.38 386.27,311.46 387.07,311.55 387.87,311.63 388.67,311.72 389.46,311.81 390.26,311.89 391.06,311.98 391.86,312.06 392.65,312.15 393.45,312.24 394.24,312.33 395.04,312.42 395.84,312.52 396.63,312.61 397.43,312.71 398.22,312.81 399.02,312.91 399.81,313.02 400.61,313.12 401.40,313.22 402.19,313.33 402.99,313.43 403.78,313.54 404.58,313.64 405.37,313.75 406.17,313.85 406.96,313.95 407.76,314.05 408.55,314.15 409.35,314.25 410.14,314.34 410.94,314.43 411.73,314.52 412.53,314.61 413.33,314.69 414.12,314.77 414.92,314.85 415.72,314.93 416.51,315.00 417.31,315.08 418.11,315.15 418.91,315.23 419.70,315.30 420.50,315.37 421.30,315.44 422.10,315.51 422.90,315.58 423.70,315.64 424.50,315.71 425.29,315.77 426.09,315.83 426.89,315.89 427.69,315.95 428.49,316.01 429.29,316.06 430.09,316.12 430.89,316.17 431.69,316.21 432.49,316.26 433.29,316.30 434.09,316.35 434.89,316.39 435.69,316.43 436.49,316.47 437.29,316.51 438.09,316.55 438.89,316.59 439.69,316.63 440.49,316.67 441.29,316.71 442.09,316.75 442.89,316.78 443.69,316.82 444.49,316.85 445.29,316.88 446.09,316.92 446.89,316.95 447.69,316.98 448.49,317.01 449.29,317.03 450.09,317.06 450.89,317.08 451.69,317.11 452.49,317.13 453.30,317.15 454.10,317.17 454.90,317.18 455.70,317.20" stroke="#B06E2C"/><path d="M270.80,297.00 271.44,296.49 271.75,295.88 272.02,295.23 272.25,294.53 272.45,293.80 272.63,293.04 272.79,292.26 272.94,291.45 273.07,290.62 273.19,289.79 273.31,288.94 273.43,288.10 273.55,287.25 273.68,286.42 273.82,285.59 273.97,284.78 274.15,284.00 274.33,283.22 274.51,282.44 274.69,281.66 274.88,280.88 275.06,280.10 275.25,279.33 275.44,278.55 275.64,277.77 275.83,277.00 276.03,276.22 276.23,275.45 276.44,274.67 276.65,273.90 276.86,273.13 277.08,272.36 277.30,271.59 277.53,270.83 277.76,270.06 278.00,269.30 278.23,268.53 278.47,267.77 278.70,267.00 278.94,266.23 279.16,265.47 279.39,264.70 279.60,263.93 279.82,263.16 280.03,262.38 280.23,261.61 280.44,260.83 280.64,260.06 280.85,259.29 281.06,258.51 281.26,257.74 281.48,256.97 281.69,256.20 281.91,255.43 282.14,254.66 282.37,253.90 282.62,253.14 282.86,252.38 283.11,251.61 283.36,250.85 283.61,250.09 283.87,249.33 284.13,248.56 284.39,247.80 284.66,247.05 284.94,246.29 285.22,245.54 285.51,244.79 285.81,244.05 286.11,243.31 286.42,242.57 286.73,241.84 287.06,241.12 287.39,240.40 287.74,239.69 288.09,238.98 288.46,238.26 288.84,237.55 289.23,236.84 289.63,236.14 290.04,235.44 290.46,234.75 290.89,234.06 291.33,233.39 291.78,232.72 292.24,232.06 292.70,231.41 293.17,230.78 293.65,230.16 294.15,229.54 294.66,228.94 295.19,228.33 295.73,227.73 296.29,227.15 296.86,226.57 297.45,226.01 298.05,225.46 298.65,224.93 299.27,224.42 299.89,223.93 300.52,223.46 301.18,222.94 301.86,222.40 302.56,221.87 303.26,221.39 303.97,221.00 304.68,220.72 305.38,220.60 306.10,220.74 306.84,221.17 307.49,221.70 308.03,222.24 308.53,222.87 308.98,223.56 309.38,224.29 309.71,225.02 309.99,225.75 310.24,226.51 310.46,227.28 310.67,228.07 310.85,228.85 311.03,229.63 311.19,230.42 311.34,231.20 311.49,231.99 311.62,232.78 311.75,233.57 311.87,234.36 312.00,235.15 312.13,235.94 312.25,236.73 312.38,237.52 312.51,238.31 312.64,239.10 312.77,239.89 312.89,240.68 313.02,241.47 313.14,242.26 313.27,243.05 313.39,243.84 313.51,244.64 313.63,245.43 313.75,246.22 313.87,247.01 313.98,247.80 314.10,248.59 314.21,249.38 314.32,250.18 314.44,250.97 314.55,251.76 314.66,252.55 314.77,253.35 314.88,254.14 314.98,254.93 315.09,255.73 315.19,256.52 315.29,257.31 315.39,258.11 315.49,258.90 315.59,259.70 315.68,260.49 315.76,261.29 315.85,262.08 315.94,262.88 316.02,263.67 316.10,264.47 316.18,265.27 316.26,266.06 316.33,266.86 316.41,267.66 316.48,268.45 316.56,269.25 316.63,270.05 316.70,270.84 316.77,271.64 316.84,272.44 316.90,273.23 316.97,274.03 317.03,274.83 317.10,275.63 317.16,276.43 317.22,277.22 317.27,278.02 317.33,278.82 317.39,279.62 317.45,280.42 317.50,281.21 317.56,282.01 317.62,282.81 317.68,283.61 317.74,284.41 317.80,285.21 317.86,286.00 317.92,286.80 317.99,287.60 318.06,288.39 318.13,289.19 318.20,289.99 318.27,290.79 318.35,291.58 318.42,292.38 318.49,293.18 318.57,293.97 318.65,294.77 318.72,295.57 318.80,296.37 318.88,297.16 318.96,297.96 319.05,298.76 319.13,299.56 319.22,300.35 319.31,301.15 319.40,301.94 319.50,302.74 319.59,303.53 319.70,304.33 319.80,305.12 319.91,305.91 320.02,306.70 320.13,307.49 320.25,308.28 320.37,309.07 320.50,309.86 320.64,310.65 320.79,311.44 320.95,312.23 321.12,313.01 321.29,313.80 321.48,314.57 321.68,315.35 321.89,316.11 322.11,316.88 322.36,317.65 322.63,318.43 322.93,319.18 323.26,319.91 323.63,320.59 324.06,321.23 324.58,321.87 325.16,322.47 325.78,323.01 326.42,323.45 327.09,323.83 327.81,324.19 328.57,324.50 329.35,324.78 330.13,324.99 330.90,325.13 331.68,325.25 332.46,325.36 333.25,325.46 334.04,325.55 334.84,325.64 335.65,325.72 336.45,325.78 337.26,325.84 338.06,325.90 338.87,325.94 339.67,325.97 340.48,325.99 341.28,326.00 342.07,326.01 342.87,326.02 343.67,326.03 344.47,326.04 345.27,326.05 346.07,326.06 346.86,326.07 347.66,326.08 348.46,326.09 349.26,326.10 350.06,326.11 350.86,326.12 351.65,326.13 352.45,326.14 353.25,326.15 354.05,326.16 354.85,326.16 355.65,326.17 356.44,326.18 357.24,326.19 358.04,326.20 358.84,326.21 359.64,326.21 360.44,326.22 361.24,326.23 362.04,326.24 362.83,326.24 363.63,326.25 364.43,326.26 365.23,326.27 366.03,326.27 366.83,326.28 367.63,326.29 368.43,326.29 369.22,326.30 370.02,326.31 370.82,326.32 371.62,326.32 372.42,326.33 373.22,326.33 374.02,326.34 374.82,326.35 375.62,326.35 376.42,326.36 377.22,326.36 378.01,326.37 378.81,326.38 379.61,326.38 380.41,326.39 381.21,326.39 382.01,326.40 382.81,326.40 383.61,326.41 384.41,326.41 385.21,326.42 386.01,326.42 386.81,326.43 387.61,326.43 388.41,326.44 389.21,326.44 390.01,326.45 390.81,326.45 391.61,326.45 392.40,326.46 393.20,326.46 394.00,326.47 394.80,326.47 395.60,326.48 396.40,326.48 397.20,326.48 398.00,326.49 398.80,326.49 399.60,326.49 400.40,326.50 401.20,326.50 402.00,326.50 402.80,326.51 403.60,326.51 404.40,326.51 405.20,326.52 406.00,326.52 406.81,326.52 407.61,326.53 408.41,326.53 409.21,326.53 410.01,326.53 410.81,326.54 411.61,326.54 412.41,326.54 413.21,326.54 414.01,326.55 414.81,326.55 415.61,326.55 416.41,326.55 417.21,326.56 418.01,326.56 418.81,326.56 419.61,326.56 420.42,326.56 421.22,326.57 422.02,326.57 422.82,326.57 423.62,326.57 424.42,326.57 425.22,326.57 426.02,326.57 426.82,326.58 427.63,326.58 428.43,326.58 429.23,326.58 430.03,326.58 430.83,326.58 431.63,326.58 432.43,326.59 433.24,326.59 434.04,326.59 434.84,326.59 435.64,326.59 436.44,326.59 437.25,326.59 438.05,326.59 438.85,326.59 439.65,326.59 440.45,326.59 441.25,326.59 442.06,326.60 442.86,326.60 443.66,326.60 444.46,326.60 445.27,326.60 446.07,326.60 446.87,326.60 447.67,326.60 448.48,326.60 449.28,326.60 450.08,326.60 450.88,326.60 451.69,326.60 452.49,326.60 453.29,326.60 454.09,326.60 454.90,326.60 455.70,326.60" stroke="#88B231"/><path d="M270.80,307.92 271.24,307.19 271.57,306.65 271.83,305.87 272.07,304.96 272.30,304.44 272.51,303.65 272.70,302.90 272.89,302.06 273.06,301.20 273.23,300.49 273.38,299.81 273.53,298.94 273.68,298.08 273.82,297.27 273.96,296.48 274.11,295.70 274.25,294.95 274.39,294.09 274.54,293.21 274.70,292.49 274.86,291.81 275.03,290.98 275.21,290.15 275.38,289.37 275.55,288.64 275.73,287.81 275.90,287.14 276.07,286.36 276.24,285.52 276.41,284.76 276.58,284.16 276.75,283.07 276.92,282.20 277.10,281.45 277.27,280.67 277.45,280.13 277.63,279.26 277.81,278.41 277.99,277.56 278.17,276.73 278.36,276.20 278.55,275.36 278.74,274.58 278.94,273.80 279.14,272.98 279.35,272.25 279.56,271.37 279.77,270.59 279.97,269.87 280.18,269.12 280.39,268.20 280.59,267.55 280.78,266.65 280.98,265.77 281.17,265.01 281.35,264.26 281.54,263.48 281.72,262.77 281.90,262.07 282.09,261.35 282.27,260.61 282.45,259.81 282.64,258.85 282.83,258.04 283.03,257.35 283.23,256.53 283.43,255.73 283.64,255.10 283.86,254.41 284.08,253.62 284.32,252.79 284.55,251.91 284.79,251.33 285.04,250.61 285.29,249.79 285.55,249.12 285.82,248.36 286.09,247.48 286.36,246.63 286.65,245.81 286.94,245.02 287.23,244.50 287.54,243.77 287.85,243.15 288.16,242.42 288.49,241.39 288.82,240.78 289.16,240.13 289.51,239.39 289.88,238.68 290.26,238.07 290.65,237.26 291.05,236.39 291.46,235.64 291.88,235.10 292.32,234.66 292.76,233.66 293.21,233.04 293.67,232.49 294.13,231.78 294.60,230.98 295.08,230.69 295.57,229.85 296.07,229.20 296.59,228.61 297.12,227.97 297.66,227.32 298.22,226.67 298.79,226.15 299.38,225.72 299.97,225.24 300.58,224.54 301.20,224.12 301.84,223.64 302.50,223.20 303.20,222.83 303.92,222.38 304.67,221.90 305.41,221.51 306.15,221.09 306.87,220.75 307.57,220.75 308.30,221.03 309.06,221.35 309.80,221.69 310.49,222.11 311.07,222.80 311.52,223.61 311.87,224.11 312.19,224.82 312.48,225.71 312.75,226.50 313.00,227.22 313.23,228.10 313.44,228.95 313.64,229.68 313.84,230.30 314.03,231.38 314.21,232.45 314.40,233.16 314.60,233.80 314.80,234.76 314.99,235.33 315.18,236.01 315.36,236.63 315.54,237.33 315.71,238.20 315.88,238.87 316.05,239.82 316.21,240.73 316.38,241.52 316.54,242.19 316.70,242.90 316.87,243.88 317.03,244.65 317.20,245.46 317.36,246.41 317.54,246.92 317.71,247.85 317.89,248.60 318.07,249.37 318.26,250.24 318.44,250.89 318.62,251.60 318.81,252.52 318.99,253.39 319.18,254.05 319.36,254.67 319.55,255.55 319.75,256.35 319.94,257.07 320.14,257.82 320.34,258.82 320.54,259.51 320.75,260.36 320.96,261.15 321.18,261.87 321.40,262.70 321.62,263.34 321.85,264.19 322.10,265.01 322.36,265.74 322.64,266.47 322.93,267.22 323.24,267.98 323.57,268.67 323.92,269.32 324.29,270.04 324.68,270.76 325.10,271.48 325.56,272.07 326.07,272.55 326.66,273.02 327.31,273.81 327.99,274.17 328.70,274.60 329.41,275.14 330.11,275.62 330.82,275.69 331.54,275.98 332.29,276.19 333.04,276.45 333.81,276.96 334.58,277.16 335.36,277.27 336.13,277.42 336.91,277.61 337.68,277.84 338.45,278.17 339.21,278.29 339.98,278.53 340.75,278.95 341.52,279.41 342.29,279.51 343.07,279.71 343.84,279.87 344.62,280.07 345.39,280.37 346.17,280.74 346.95,280.84 347.73,280.93 348.51,281.05 349.29,281.23 350.08,281.54 350.86,281.64 351.65,281.69 352.43,281.92 353.22,282.22 354.01,281.91 354.80,282.18 355.60,282.29 356.39,282.36 357.19,282.44 357.98,282.53 358.78,282.44 359.58,282.53 360.38,282.65 361.18,282.73 361.98,282.81 362.78,283.20 363.58,283.06 364.39,283.00 365.19,283.09 365.99,283.03 366.79,283.34 367.59,283.23 368.38,283.20 369.18,283.37 369.98,283.56 370.78,283.45 371.58,283.55 372.38,283.61 373.18,283.67 373.98,283.85 374.78,284.03 375.58,283.88 376.38,283.82 377.18,283.90 377.98,284.01 378.78,283.95 379.58,284.04 380.39,284.27 381.19,284.45 381.99,284.37 382.79,284.34 383.59,284.17 384.39,284.07 385.19,284.13 385.99,284.30 386.79,284.35 387.59,284.41 388.39,284.40 389.19,284.33 389.99,284.24 390.79,284.31 391.60,284.72 392.40,284.64 393.20,284.43 394.00,284.44 394.80,284.56 395.60,284.70 396.40,284.67 397.20,284.67 398.01,284.83 398.81,285.03 399.61,284.71 400.41,284.73 401.21,284.81 402.01,284.83 402.81,284.94 403.61,284.92 404.42,284.91 405.22,284.90 406.02,284.88 406.82,284.82 407.62,285.12 408.42,285.07 409.22,285.04 410.02,285.13 410.82,285.20 411.62,285.25 412.43,285.25 413.23,285.22 414.03,285.26 414.83,285.52 415.63,285.43 416.43,285.64 417.23,285.60 418.03,285.48 418.83,285.75 419.63,285.63 420.43,285.59 421.24,285.72 422.04,285.87 422.84,285.78 423.64,285.47 424.44,285.59 425.24,285.71 426.04,285.79 426.84,285.86 427.65,285.66 428.45,285.80 429.25,285.79 430.05,285.69 430.85,285.65 431.65,285.75 432.45,285.72 433.25,285.74 434.06,285.75 434.86,285.68 435.66,285.78 436.46,285.95 437.26,285.85 438.06,285.73 438.86,285.80 439.67,285.73 440.47,285.96 441.27,285.95 442.07,285.86 442.87,285.85 443.67,286.08 444.48,285.89 445.28,285.89 446.08,285.93 446.88,285.91 447.68,285.87 448.48,285.92 449.29,285.95 450.09,285.91 450.89,285.81 451.69,285.80 452.49,285.73 453.29,285.72 454.10,285.75 454.90,285.80 455.70,285.81" stroke="#2B82AE"/><path d="M270.80,266.24 270.95,266.91 271.10,267.90 271.26,268.78 271.43,269.51 271.60,270.39 271.78,271.01 271.95,271.93 272.13,272.71 272.32,273.28 272.51,273.95 272.70,275.04 272.90,275.67 273.10,276.31 273.31,277.21 273.53,278.41 273.75,278.76 273.98,279.59 274.22,280.33 274.47,280.97 274.73,281.83 274.99,282.67 275.25,283.38 275.52,284.23 275.79,285.02 276.06,285.39 276.34,286.38 276.63,287.06 276.92,287.84 277.22,288.70 277.52,289.39 277.82,290.05 278.13,290.66 278.44,291.44 278.75,292.24 279.07,292.77 279.40,293.58 279.74,294.63 280.09,295.40 280.45,295.91 280.82,296.40 281.19,297.20 281.58,297.83 281.98,298.62 282.38,299.43 282.80,300.06 283.23,300.80 283.67,301.57 284.12,302.29 284.59,302.85 285.07,303.22 285.57,303.96 286.10,304.71 286.66,305.31 287.24,305.80 287.85,306.29 288.47,306.78 289.11,307.17 289.77,307.63 290.43,308.07 291.13,308.42 291.86,309.05 292.61,308.99 293.37,309.30 294.13,309.69 294.91,309.79 295.67,310.16 296.43,310.45 297.20,310.82 297.97,311.08 298.75,311.09 299.53,311.29 300.31,311.58 301.09,311.81 301.88,312.00 302.68,312.12 303.47,312.09 304.26,312.00 305.06,311.92 305.86,311.78 306.65,311.56 307.36,311.21 308.03,310.81 308.65,310.49 309.21,309.99 309.69,309.19 310.14,308.45 310.57,307.88 310.96,307.08 311.31,306.35 311.63,305.78 311.92,304.80 312.19,304.27 312.44,303.46 312.67,302.66 312.89,302.04 313.10,301.40 313.31,300.52 313.50,299.55 313.70,298.75 313.88,298.10 314.07,297.02 314.26,296.57 314.44,295.86 314.62,295.01 314.80,294.12 314.97,293.22 315.13,292.67 315.29,291.89 315.45,291.06 315.60,290.23 315.75,289.19 315.90,288.71 316.04,287.90 316.18,287.06 316.32,286.35 316.45,285.63 316.58,284.64 316.71,283.87 316.84,283.10 316.96,282.19 317.08,281.17 317.20,280.46 317.31,279.85 317.43,279.22 317.54,278.51 317.64,277.70 317.75,276.75 317.85,276.11 317.95,275.25 318.05,274.18 318.15,273.30 318.25,272.84 318.35,272.14 318.45,271.23 318.55,270.29 318.65,269.58 318.75,268.78 318.85,267.85 318.95,267.09 319.05,266.49 319.15,265.86 319.25,264.69 319.35,263.95 319.45,263.15 319.54,262.23 319.64,261.39 319.74,260.72 319.83,259.98 319.93,259.21 320.02,258.40 320.11,257.54 320.20,256.76 320.29,255.96 320.39,255.14 320.48,254.35 320.59,253.68 320.69,252.99 320.80,251.88 320.92,251.07 321.05,250.47 321.18,249.63 321.32,248.88 321.48,248.15 321.64,247.37 321.81,246.55 321.99,245.74 322.18,245.17 322.38,244.32 322.58,243.45 322.78,242.70 322.99,242.10 323.21,241.17 323.43,240.23 323.65,239.48 323.87,238.80 324.10,238.02 324.32,237.54 324.55,236.48 324.78,235.66 325.01,234.99 325.24,234.18 325.48,233.50 325.73,232.67 325.98,231.84 326.24,231.01 326.51,230.21 326.78,229.74 327.07,228.95 327.37,228.06 327.68,227.29 328.01,226.75 328.34,226.07 328.70,225.41 329.09,224.58 329.51,223.76 329.97,223.14 330.46,222.46 331.00,222.16 331.63,221.64 332.37,221.08 333.14,220.81 333.92,220.79 334.73,220.98 335.50,221.28 336.23,221.56 336.92,221.81 337.59,222.51 338.21,222.93 338.79,223.39 339.34,223.93 339.87,224.60 340.38,225.63 340.88,226.08 341.37,226.68 341.87,227.30 342.38,227.89 342.90,228.86 343.44,229.10 343.99,229.57 344.54,230.22 345.09,230.89 345.65,231.23 346.21,232.15 346.78,232.94 347.36,233.47 347.95,233.77 348.54,234.09 349.15,234.69 349.76,235.34 350.40,235.81 351.04,236.14 351.69,236.70 352.35,237.17 353.00,237.62 353.66,238.05 354.31,238.46 354.96,238.80 355.60,239.62 356.23,240.02 356.84,240.49 357.44,241.11 358.03,241.41 358.62,242.23 359.21,242.65 359.79,243.20 360.38,243.85 360.97,243.98 361.56,244.87 362.17,245.29 362.79,245.68 363.43,246.23 364.08,246.86 364.74,247.11 365.42,247.59 366.10,247.98 366.80,248.23 367.50,248.57 368.21,249.09 368.93,249.51 369.65,249.97 370.37,250.38 371.10,250.56 371.84,250.81 372.58,250.99 373.31,251.41 374.05,251.94 374.79,252.22 375.53,252.52 376.27,252.93 377.00,253.13 377.74,253.28 378.48,253.81 379.22,254.06 379.97,254.45 380.72,254.70 381.47,254.80 382.22,254.93 382.98,255.18 383.73,255.64 384.49,255.91 385.25,256.08 386.01,256.43 386.77,256.73 387.53,257.06 388.29,257.36 389.06,257.56 389.82,257.59 390.58,257.96 391.35,258.16 392.12,258.35 392.89,258.56 393.66,258.77 394.43,258.92 395.20,259.32 395.97,259.60 396.73,259.75 397.49,259.91 398.24,260.26 398.99,260.72 399.74,260.91 400.48,261.04 401.22,261.44 401.97,261.69 402.70,262.15 403.44,262.30 404.18,262.43 404.92,262.88 405.66,263.30 406.40,263.58 407.15,263.78 407.89,264.00 408.64,264.32 409.39,264.61 410.14,264.77 410.90,265.12 411.65,265.54 412.40,265.90 413.16,266.27 413.91,266.48 414.67,266.71 415.43,267.02 416.18,267.40 416.94,267.63 417.70,267.70 418.46,267.95 419.22,268.21 419.99,268.39 420.75,268.85 421.51,269.00 422.28,269.12 423.04,269.15 423.81,269.13 424.58,269.59 425.35,269.87 426.12,270.06 426.89,270.26 427.67,270.50 428.45,270.60 429.22,271.03 430.00,271.28 430.79,271.43 431.57,271.57 432.35,271.72 433.13,271.80 433.92,272.05 434.70,272.24 435.48,272.35 436.27,272.86 437.05,272.86 437.83,272.92 438.61,273.05 439.39,273.19 440.17,273.13 440.94,273.62 441.72,273.89 442.50,274.00 443.28,274.07 444.06,274.34 444.83,274.58 445.61,274.89 446.39,275.07 447.17,275.12 447.94,275.26 448.72,275.41 449.50,275.74 450.27,276.15 451.05,276.44 451.82,276.28 452.60,276.34 453.37,276.60 454.15,276.96 454.93,277.26 455.70,277.29" stroke="#432AAA"/></g><rect x="269.8" y="210.2" width="186.39999999999998" height="118.19999999999999" fill="none" stroke="#000" stroke-width="1.5"/><line x1="267.2" y1="327.60" x2="269.8" y2="327.60" stroke="#111" stroke-width="1.4"/><text x="266.5" y="332.3" font-size="15" text-anchor="end" font-weight="normal" >0</text><line x1="267.2" y1="274.20" x2="269.8" y2="274.20" stroke="#111" stroke-width="1.4"/><text x="266.5" y="278.9" font-size="15" text-anchor="end" font-weight="normal" >0.5</text><line x1="267.2" y1="220.80" x2="269.8" y2="220.80" stroke="#111" stroke-width="1.4"/><text x="266.5" y="225.5" font-size="15" text-anchor="end" font-weight="normal" >1.0</text><line x1="268.3" y1="300.90" x2="269.8" y2="300.90" stroke="#222" stroke-width="1.2"/><line x1="268.3" y1="247.50" x2="269.8" y2="247.50" stroke="#222" stroke-width="1.2"/><line x1="270.50" y1="328.4" x2="270.50" y2="330.79999999999995" stroke="#111" stroke-width="1.4"/><text x="270.50" y="343.2" font-size="15" text-anchor="middle" font-weight="normal" >0</text><line x1="312.70" y1="328.4" x2="312.70" y2="330.79999999999995" stroke="#111" stroke-width="1.4"/><text x="312.70" y="343.2" font-size="15" text-anchor="middle" font-weight="normal" >0.05</text><line x1="354.90" y1="328.4" x2="354.90" y2="330.79999999999995" stroke="#111" stroke-width="1.4"/><text x="354.90" y="343.2" font-size="15" text-anchor="middle" font-weight="normal" >0.10</text><line x1="397.10" y1="328.4" x2="397.10" y2="330.79999999999995" stroke="#111" stroke-width="1.4"/><text x="397.10" y="343.2" font-size="15" text-anchor="middle" font-weight="normal" >0.15</text><line x1="439.30" y1="328.4" x2="439.30" y2="330.79999999999995" stroke="#111" stroke-width="1.4"/><text x="439.30" y="343.2" font-size="15" text-anchor="middle" font-weight="normal" >0.20</text><line x1="291.60" y1="328.4" x2="291.60" y2="329.5" stroke="#444" stroke-width="1.1"/><line x1="333.80" y1="328.4" x2="333.80" y2="329.5" stroke="#444" stroke-width="1.1"/><line x1="376.00" y1="328.4" x2="376.00" y2="329.5" stroke="#444" stroke-width="1.1"/><line x1="418.20" y1="328.4" x2="418.20" y2="329.5" stroke="#444" stroke-width="1.1"/><text x="363.0" y="367.9" font-size="15" text-anchor="middle">fluence / (10<tspan font-size="9.5" dy="-6.3">17</tspan><tspan dy="6.3"> ions · cm</tspan><tspan font-size="9.5" dy="-6.3">-2</tspan><tspan dy="6.3">)</tspan></text><text x="248.6" y="200.8" font-size="15" text-anchor="start" font-weight="bold" >d</text><text transform="translate(11.6,175.8) rotate(-90)" font-size="15" text-anchor="middle">normalized intensity / a. u.</text><rect x="494.85" y="209.60" width="19.3" height="19.0" fill="#000000" stroke="#000" stroke-width="1.7"/><text x="527.0" y="224.10" font-size="15">Li<tspan font-size="10.5" dx="-0.5" dy="3.4">2</tspan><tspan font-size="10.5" dy="-8.0">-</tspan></text><rect x="494.85" y="238.35" width="19.3" height="19.0" fill="#B22A2E" stroke="#000" stroke-width="1.7"/><text x="527.0" y="252.85" font-size="15">C<tspan font-size="10.5" dx="-0.5" dy="3.4">2</tspan><tspan dy="-3.4">H</tspan><tspan font-size="10.5" dx="-0.5" dy="3.4">3</tspan><tspan dy="-3.4">O</tspan><tspan font-size="10.5" dy="-4.6">-</tspan></text><rect x="494.85" y="267.10" width="19.3" height="19.0" fill="#B06E2C" stroke="#000" stroke-width="1.7"/><text x="527.0" y="281.60" font-size="15"><tspan font-size="10.5" dy="-4.6">6</tspan><tspan dy="4.6">LiF</tspan><tspan font-size="10.5" dx="-0.5" dy="3.4">2</tspan><tspan font-size="10.5" dy="-8.0">-</tspan></text><rect x="494.85" y="295.85" width="19.3" height="19.0" fill="#88B231" stroke="#000" stroke-width="1.7"/><text x="527.0" y="310.35" font-size="15">LiCO<tspan font-size="10.5" dx="-0.5" dy="3.4">3</tspan><tspan font-size="10.5" dy="-8.0">-</tspan></text><rect x="494.85" y="324.60" width="19.3" height="19.0" fill="#2B82AE" stroke="#000" stroke-width="1.7"/><text x="527.0" y="339.10" font-size="15">Sum [<tspan font-size="10.5" dy="-4.6">6</tspan><tspan dy="4.6">LiO</tspan><tspan font-size="10.5" dy="-4.6">-</tspan><tspan dy="4.6">;LiO</tspan><tspan font-size="10.5" dy="-4.6">-</tspan><tspan dy="4.6">]</tspan></text><rect x="494.85" y="353.35" width="19.3" height="19.0" fill="#432AAA" stroke="#000" stroke-width="1.7"/><text x="527.0" y="367.85" font-size="15">Sum [<tspan font-size="10.5" dy="-4.6">6</tspan><tspan dy="4.6">LiH</tspan><tspan font-size="10.5" dx="-0.5" dy="3.4">2</tspan><tspan font-size="10.5" dy="-8.0">-</tspan><tspan dy="4.6">;LiH</tspan><tspan font-size="10.5" dx="-0.5" dy="3.4">2</tspan><tspan font-size="10.5" dy="-8.0">-</tspan><tspan dy="4.6">]</tspan></text></svg>
</body></html>
